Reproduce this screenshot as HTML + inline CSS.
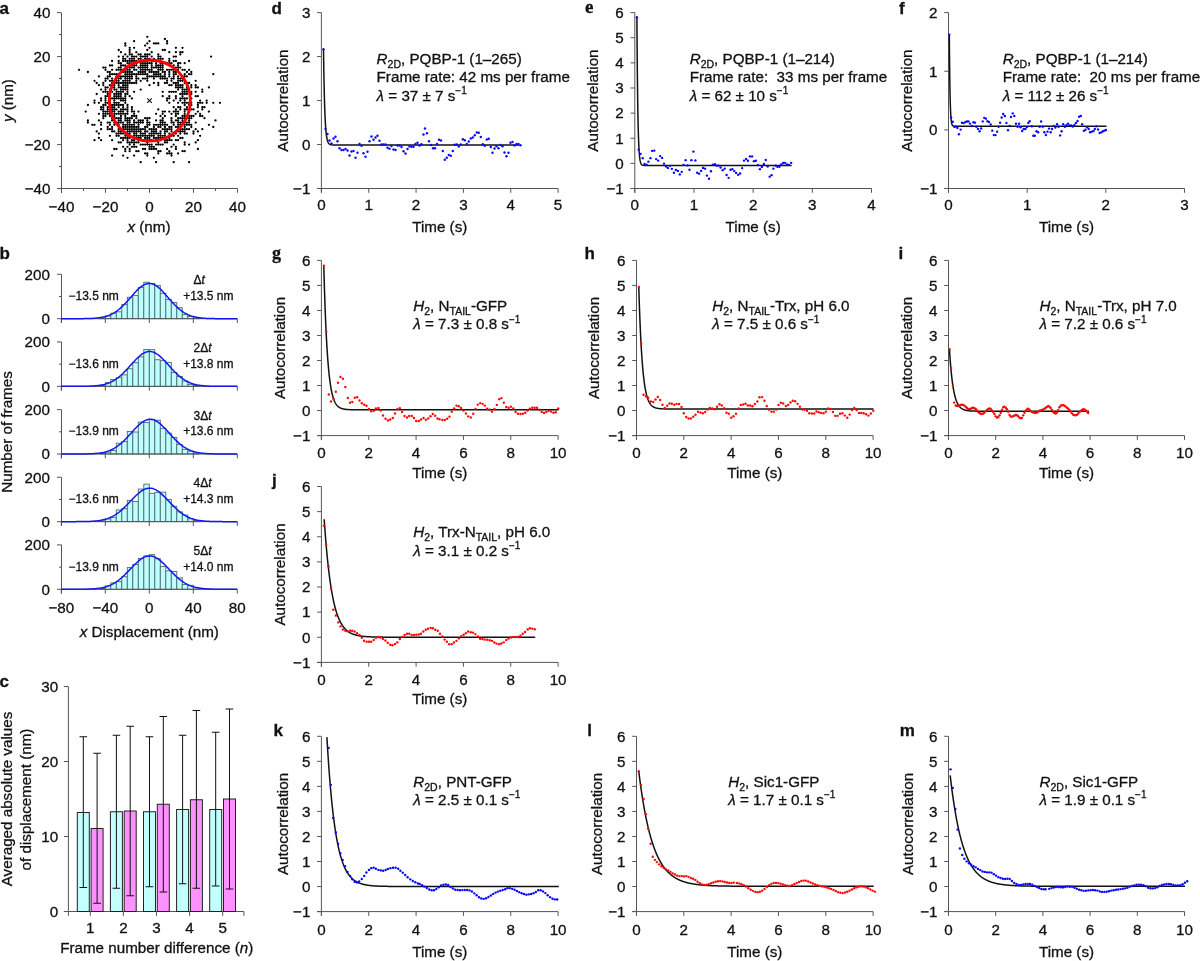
<!DOCTYPE html>
<html><head><meta charset="utf-8"><style>
html,body{margin:0;padding:0;background:#fff;overflow:hidden;}
svg{display:block;will-change:transform;}
text{font-family:"Liberation Sans",sans-serif;fill:#111;stroke:#111;stroke-width:0.3px;}
</style></head><body>
<svg width="1200" height="961" viewBox="0 0 1200 961">
<rect width="1200" height="961" fill="#fff"/>
<line x1="321.40" y1="12.60" x2="321.40" y2="192.80" stroke="#555" stroke-width="1.0"/><line x1="317.10" y1="188.50" x2="558.10" y2="188.50" stroke="#555" stroke-width="1.0"/><line x1="317.10" y1="188.50" x2="321.40" y2="188.50" stroke="#555" stroke-width="1.0"/><text x="310.40" y="193.80" font-size="15.2" text-anchor="end">−1</text><line x1="317.10" y1="144.53" x2="321.40" y2="144.53" stroke="#555" stroke-width="1.0"/><text x="310.40" y="149.83" font-size="15.2" text-anchor="end">0</text><line x1="317.10" y1="100.55" x2="321.40" y2="100.55" stroke="#555" stroke-width="1.0"/><text x="310.40" y="105.85" font-size="15.2" text-anchor="end">1</text><line x1="317.10" y1="56.57" x2="321.40" y2="56.57" stroke="#555" stroke-width="1.0"/><text x="310.40" y="61.87" font-size="15.2" text-anchor="end">2</text><line x1="317.10" y1="12.60" x2="321.40" y2="12.60" stroke="#555" stroke-width="1.0"/><text x="310.40" y="17.90" font-size="15.2" text-anchor="end">3</text><line x1="321.40" y1="188.50" x2="321.40" y2="192.80" stroke="#555" stroke-width="1.0"/><text x="321.40" y="210.00" font-size="15.2" text-anchor="middle">0</text><line x1="368.74" y1="188.50" x2="368.74" y2="192.80" stroke="#555" stroke-width="1.0"/><text x="368.74" y="210.00" font-size="15.2" text-anchor="middle">1</text><line x1="416.08" y1="188.50" x2="416.08" y2="192.80" stroke="#555" stroke-width="1.0"/><text x="416.08" y="210.00" font-size="15.2" text-anchor="middle">2</text><line x1="463.42" y1="188.50" x2="463.42" y2="192.80" stroke="#555" stroke-width="1.0"/><text x="463.42" y="210.00" font-size="15.2" text-anchor="middle">3</text><line x1="510.76" y1="188.50" x2="510.76" y2="192.80" stroke="#555" stroke-width="1.0"/><text x="510.76" y="210.00" font-size="15.2" text-anchor="middle">4</text><line x1="558.10" y1="188.50" x2="558.10" y2="192.80" stroke="#555" stroke-width="1.0"/><text x="558.10" y="210.00" font-size="15.2" text-anchor="middle">5</text><text x="439.75" y="231.80" font-size="15.2" text-anchor="middle">Time (s)</text><text x="0" y="0" font-size="15.2" text-anchor="middle" transform="translate(288.10,100.55) rotate(-90)">Autocorrelation</text><polyline points="323.50,49.30 323.75,66.33 324.00,80.33 324.25,91.84 324.50,101.30 324.75,109.08 325.00,115.47 325.25,120.73 325.50,125.05 325.75,128.60 326.00,131.52 326.25,133.92 326.50,135.89 326.75,137.51 327.00,138.84 327.25,139.94 327.50,140.84 327.75,141.58 328.00,142.19 328.25,142.69 328.50,143.10 328.75,143.44 329.00,143.72 329.25,143.94 329.50,144.13 329.75,144.29 330.00,144.41 330.25,144.52 330.50,144.60 330.75,144.67 331.00,144.73 331.25,144.78 333.25,144.95 335.25,144.99 337.25,145.00 339.25,145.00 341.25,145.00 343.25,145.00 345.25,145.00 347.25,145.00 349.25,145.00 351.25,145.00 353.25,145.00 355.25,145.00 357.25,145.00 359.25,145.00 361.25,145.00 363.25,145.00 365.25,145.00 367.25,145.00 369.25,145.00 371.25,145.00 373.25,145.00 375.25,145.00 377.25,145.00 379.25,145.00 381.25,145.00 383.25,145.00 385.25,145.00 387.25,145.00 389.25,145.00 391.25,145.00 393.25,145.00 395.25,145.00 397.25,145.00 399.25,145.00 401.25,145.00 403.25,145.00 405.25,145.00 407.25,145.00 409.25,145.00 411.25,145.00 413.25,145.00 415.25,145.00 417.25,145.00 419.25,145.00 421.25,145.00 423.25,145.00 425.25,145.00 427.25,145.00 429.25,145.00 431.25,145.00 433.25,145.00 435.25,145.00 437.25,145.00 439.25,145.00 441.25,145.00 443.25,145.00 445.25,145.00 447.25,145.00 449.25,145.00 451.25,145.00 453.25,145.00 455.25,145.00 457.25,145.00 459.25,145.00 461.25,145.00 463.25,145.00 465.25,145.00 467.25,145.00 469.25,145.00 471.25,145.00 473.25,145.00 475.25,145.00 477.25,145.00 479.25,145.00 481.25,145.00 483.25,145.00 485.25,145.00 487.25,145.00 489.25,145.00 491.25,145.00 493.25,145.00 495.25,145.00 497.25,145.00 499.25,145.00 501.25,145.00 503.25,145.00 505.25,145.00 507.25,145.00 509.25,145.00 511.25,145.00 513.25,145.00 515.25,145.00 517.25,145.00 519.25,145.00 519.50,145.00" fill="none" stroke="#111" stroke-width="1.5"/><circle cx="323.50" cy="49.30" r="1.2" fill="#0808ff"/><circle cx="325.50" cy="129.00" r="1.2" fill="#0808ff"/><circle cx="327.50" cy="134.00" r="1.2" fill="#0808ff"/><circle cx="329.50" cy="140.50" r="1.2" fill="#0808ff"/><circle cx="331.50" cy="143.50" r="1.2" fill="#0808ff"/><circle cx="333.50" cy="138.50" r="1.2" fill="#0808ff"/><circle cx="335.50" cy="136.80" r="1.2" fill="#0808ff"/><circle cx="337.50" cy="141.20" r="1.2" fill="#0808ff"/><circle cx="339.50" cy="148.30" r="1.2" fill="#0808ff"/><circle cx="341.50" cy="150.00" r="1.2" fill="#0808ff"/><circle cx="343.50" cy="150.00" r="1.2" fill="#0808ff"/><circle cx="345.50" cy="149.00" r="1.2" fill="#0808ff"/><circle cx="347.50" cy="150.50" r="1.2" fill="#0808ff"/><circle cx="349.50" cy="155.50" r="1.2" fill="#0808ff"/><circle cx="351.50" cy="151.50" r="1.2" fill="#0808ff"/><circle cx="353.50" cy="151.00" r="1.2" fill="#0808ff"/><circle cx="355.50" cy="157.80" r="1.2" fill="#0808ff"/><circle cx="357.50" cy="152.80" r="1.2" fill="#0808ff"/><circle cx="359.50" cy="144.00" r="1.2" fill="#0808ff"/><circle cx="361.50" cy="145.80" r="1.2" fill="#0808ff"/><circle cx="363.50" cy="153.20" r="1.2" fill="#0808ff"/><circle cx="365.50" cy="156.80" r="1.2" fill="#0808ff"/><circle cx="367.50" cy="151.80" r="1.2" fill="#0808ff"/><circle cx="369.50" cy="141.20" r="1.2" fill="#0808ff"/><circle cx="371.50" cy="136.50" r="1.2" fill="#0808ff"/><circle cx="373.50" cy="139.80" r="1.2" fill="#0808ff"/><circle cx="375.50" cy="137.50" r="1.2" fill="#0808ff"/><circle cx="377.50" cy="135.80" r="1.2" fill="#0808ff"/><circle cx="379.50" cy="140.80" r="1.2" fill="#0808ff"/><circle cx="381.50" cy="144.50" r="1.2" fill="#0808ff"/><circle cx="383.50" cy="144.50" r="1.2" fill="#0808ff"/><circle cx="385.50" cy="144.50" r="1.2" fill="#0808ff"/><circle cx="387.50" cy="147.80" r="1.2" fill="#0808ff"/><circle cx="389.50" cy="148.80" r="1.2" fill="#0808ff"/><circle cx="391.50" cy="146.00" r="1.2" fill="#0808ff"/><circle cx="393.50" cy="149.50" r="1.2" fill="#0808ff"/><circle cx="395.50" cy="150.00" r="1.2" fill="#0808ff"/><circle cx="397.50" cy="145.50" r="1.2" fill="#0808ff"/><circle cx="399.50" cy="145.50" r="1.2" fill="#0808ff"/><circle cx="401.50" cy="147.00" r="1.2" fill="#0808ff"/><circle cx="403.50" cy="151.20" r="1.2" fill="#0808ff"/><circle cx="405.50" cy="153.50" r="1.2" fill="#0808ff"/><circle cx="407.50" cy="149.00" r="1.2" fill="#0808ff"/><circle cx="409.50" cy="146.50" r="1.2" fill="#0808ff"/><circle cx="411.50" cy="146.80" r="1.2" fill="#0808ff"/><circle cx="413.50" cy="146.80" r="1.2" fill="#0808ff"/><circle cx="415.50" cy="144.00" r="1.2" fill="#0808ff"/><circle cx="417.50" cy="142.80" r="1.2" fill="#0808ff"/><circle cx="419.50" cy="145.50" r="1.2" fill="#0808ff"/><circle cx="421.50" cy="144.20" r="1.2" fill="#0808ff"/><circle cx="423.50" cy="134.50" r="1.2" fill="#0808ff"/><circle cx="425.00" cy="128.50" r="1.2" fill="#0808ff"/><circle cx="427.00" cy="133.20" r="1.2" fill="#0808ff"/><circle cx="429.00" cy="141.20" r="1.2" fill="#0808ff"/><circle cx="431.00" cy="145.00" r="1.2" fill="#0808ff"/><circle cx="433.00" cy="148.30" r="1.2" fill="#0808ff"/><circle cx="435.00" cy="148.30" r="1.2" fill="#0808ff"/><circle cx="437.00" cy="144.00" r="1.2" fill="#0808ff"/><circle cx="439.00" cy="139.80" r="1.2" fill="#0808ff"/><circle cx="441.00" cy="140.50" r="1.2" fill="#0808ff"/><circle cx="442.80" cy="151.00" r="1.2" fill="#0808ff"/><circle cx="444.80" cy="159.80" r="1.2" fill="#0808ff"/><circle cx="446.80" cy="157.80" r="1.2" fill="#0808ff"/><circle cx="448.80" cy="155.00" r="1.2" fill="#0808ff"/><circle cx="450.80" cy="155.80" r="1.2" fill="#0808ff"/><circle cx="452.80" cy="151.00" r="1.2" fill="#0808ff"/><circle cx="454.80" cy="144.80" r="1.2" fill="#0808ff"/><circle cx="456.80" cy="144.50" r="1.2" fill="#0808ff"/><circle cx="458.80" cy="146.50" r="1.2" fill="#0808ff"/><circle cx="460.80" cy="144.50" r="1.2" fill="#0808ff"/><circle cx="462.80" cy="139.30" r="1.2" fill="#0808ff"/><circle cx="464.80" cy="140.30" r="1.2" fill="#0808ff"/><circle cx="466.80" cy="144.00" r="1.2" fill="#0808ff"/><circle cx="468.80" cy="141.50" r="1.2" fill="#0808ff"/><circle cx="470.80" cy="138.50" r="1.2" fill="#0808ff"/><circle cx="472.80" cy="137.50" r="1.2" fill="#0808ff"/><circle cx="474.80" cy="135.20" r="1.2" fill="#0808ff"/><circle cx="476.80" cy="132.50" r="1.2" fill="#0808ff"/><circle cx="478.80" cy="132.80" r="1.2" fill="#0808ff"/><circle cx="480.80" cy="137.00" r="1.2" fill="#0808ff"/><circle cx="482.80" cy="144.20" r="1.2" fill="#0808ff"/><circle cx="484.80" cy="145.80" r="1.2" fill="#0808ff"/><circle cx="486.80" cy="139.50" r="1.2" fill="#0808ff"/><circle cx="488.80" cy="138.80" r="1.2" fill="#0808ff"/><circle cx="490.80" cy="147.00" r="1.2" fill="#0808ff"/><circle cx="492.50" cy="152.80" r="1.2" fill="#0808ff"/><circle cx="494.50" cy="148.50" r="1.2" fill="#0808ff"/><circle cx="496.50" cy="146.20" r="1.2" fill="#0808ff"/><circle cx="498.50" cy="148.30" r="1.2" fill="#0808ff"/><circle cx="500.50" cy="145.00" r="1.2" fill="#0808ff"/><circle cx="502.50" cy="146.20" r="1.2" fill="#0808ff"/><circle cx="504.50" cy="152.50" r="1.2" fill="#0808ff"/><circle cx="506.50" cy="156.20" r="1.2" fill="#0808ff"/><circle cx="508.50" cy="152.80" r="1.2" fill="#0808ff"/><circle cx="510.50" cy="142.80" r="1.2" fill="#0808ff"/><circle cx="512.50" cy="142.00" r="1.2" fill="#0808ff"/><circle cx="514.50" cy="145.50" r="1.2" fill="#0808ff"/><circle cx="516.50" cy="144.00" r="1.2" fill="#0808ff"/><circle cx="518.50" cy="144.00" r="1.2" fill="#0808ff"/><circle cx="520.50" cy="145.20" r="1.2" fill="#0808ff"/><text x="271.50" y="13.50" style="font-family:'Liberation Sans';font-size:17px;font-weight:bold">d</text><text x="376.60" y="63.50" font-size="15.2"><tspan font-style="italic">R</tspan><tspan font-size="10.5" dy="4">2D</tspan><tspan dy="-4">, PQBP-1 (1–265)</tspan></text><text x="376.60" y="82.10" font-size="15.2">Frame rate: 42 ms per frame</text><text x="376.60" y="100.90" font-size="15.2"><tspan font-style="italic">λ</tspan> = 37 ± 7 s<tspan font-size="10" dy="-6.5">−1</tspan></text><line x1="634.80" y1="12.60" x2="634.80" y2="192.80" stroke="#555" stroke-width="1.0"/><line x1="630.50" y1="188.50" x2="871.50" y2="188.50" stroke="#555" stroke-width="1.0"/><line x1="630.50" y1="188.50" x2="634.80" y2="188.50" stroke="#555" stroke-width="1.0"/><text x="623.80" y="193.80" font-size="15.2" text-anchor="end">−1</text><line x1="630.50" y1="163.37" x2="634.80" y2="163.37" stroke="#555" stroke-width="1.0"/><text x="623.80" y="168.67" font-size="15.2" text-anchor="end">0</text><line x1="630.50" y1="138.24" x2="634.80" y2="138.24" stroke="#555" stroke-width="1.0"/><text x="623.80" y="143.54" font-size="15.2" text-anchor="end">1</text><line x1="630.50" y1="113.11" x2="634.80" y2="113.11" stroke="#555" stroke-width="1.0"/><text x="623.80" y="118.41" font-size="15.2" text-anchor="end">2</text><line x1="630.50" y1="87.99" x2="634.80" y2="87.99" stroke="#555" stroke-width="1.0"/><text x="623.80" y="93.29" font-size="15.2" text-anchor="end">3</text><line x1="630.50" y1="62.86" x2="634.80" y2="62.86" stroke="#555" stroke-width="1.0"/><text x="623.80" y="68.16" font-size="15.2" text-anchor="end">4</text><line x1="630.50" y1="37.73" x2="634.80" y2="37.73" stroke="#555" stroke-width="1.0"/><text x="623.80" y="43.03" font-size="15.2" text-anchor="end">5</text><line x1="630.50" y1="12.60" x2="634.80" y2="12.60" stroke="#555" stroke-width="1.0"/><text x="623.80" y="17.90" font-size="15.2" text-anchor="end">6</text><line x1="634.80" y1="188.50" x2="634.80" y2="192.80" stroke="#555" stroke-width="1.0"/><text x="634.80" y="210.00" font-size="15.2" text-anchor="middle">0</text><line x1="693.97" y1="188.50" x2="693.97" y2="192.80" stroke="#555" stroke-width="1.0"/><text x="693.97" y="210.00" font-size="15.2" text-anchor="middle">1</text><line x1="753.15" y1="188.50" x2="753.15" y2="192.80" stroke="#555" stroke-width="1.0"/><text x="753.15" y="210.00" font-size="15.2" text-anchor="middle">2</text><line x1="812.33" y1="188.50" x2="812.33" y2="192.80" stroke="#555" stroke-width="1.0"/><text x="812.33" y="210.00" font-size="15.2" text-anchor="middle">3</text><line x1="871.50" y1="188.50" x2="871.50" y2="192.80" stroke="#555" stroke-width="1.0"/><text x="871.50" y="210.00" font-size="15.2" text-anchor="middle">4</text><text x="753.15" y="231.80" font-size="15.2" text-anchor="middle">Time (s)</text><text x="0" y="0" font-size="15.2" text-anchor="middle" transform="translate(597.80,100.55) rotate(-90)">Autocorrelation</text><polyline points="636.90,17.30 637.15,51.41 637.40,77.68 637.65,97.90 637.90,113.47 638.15,125.46 638.40,134.69 638.65,141.80 638.90,147.28 639.15,151.49 639.40,154.74 639.65,157.24 639.90,159.16 640.15,160.64 640.40,161.78 640.65,162.66 640.90,163.34 641.15,163.86 641.40,164.26 641.65,164.57 641.90,164.80 642.15,164.99 642.40,165.13 642.65,165.24 644.65,165.56 646.65,165.59 648.65,165.60 650.65,165.60 652.65,165.60 654.65,165.60 656.65,165.60 658.65,165.60 660.65,165.60 662.65,165.60 664.65,165.60 666.65,165.60 668.65,165.60 670.65,165.60 672.65,165.60 674.65,165.60 676.65,165.60 678.65,165.60 680.65,165.60 682.65,165.60 684.65,165.60 686.65,165.60 688.65,165.60 690.65,165.60 692.65,165.60 694.65,165.60 696.65,165.60 698.65,165.60 700.65,165.60 702.65,165.60 704.65,165.60 706.65,165.60 708.65,165.60 710.65,165.60 712.65,165.60 714.65,165.60 716.65,165.60 718.65,165.60 720.65,165.60 722.65,165.60 724.65,165.60 726.65,165.60 728.65,165.60 730.65,165.60 732.65,165.60 734.65,165.60 736.65,165.60 738.65,165.60 740.65,165.60 742.65,165.60 744.65,165.60 746.65,165.60 748.65,165.60 750.65,165.60 752.65,165.60 754.65,165.60 756.65,165.60 758.65,165.60 760.65,165.60 762.65,165.60 764.65,165.60 766.65,165.60 768.65,165.60 770.65,165.60 772.65,165.60 774.65,165.60 776.65,165.60 778.65,165.60 780.65,165.60 782.65,165.60 784.65,165.60 786.65,165.60 788.65,165.60 790.65,165.60 791.60,165.60" fill="none" stroke="#111" stroke-width="1.5"/><circle cx="636.90" cy="17.30" r="1.2" fill="#0808ff"/><circle cx="638.65" cy="149.65" r="1.2" fill="#0808ff"/><circle cx="640.60" cy="153.86" r="1.2" fill="#0808ff"/><circle cx="642.70" cy="158.13" r="1.2" fill="#0808ff"/><circle cx="644.50" cy="163.91" r="1.2" fill="#0808ff"/><circle cx="646.60" cy="164.66" r="1.2" fill="#0808ff"/><circle cx="648.40" cy="161.66" r="1.2" fill="#0808ff"/><circle cx="650.50" cy="158.13" r="1.2" fill="#0808ff"/><circle cx="652.15" cy="150.86" r="1.2" fill="#0808ff"/><circle cx="654.26" cy="150.63" r="1.2" fill="#0808ff"/><circle cx="656.13" cy="159.11" r="1.2" fill="#0808ff"/><circle cx="658.16" cy="160.61" r="1.2" fill="#0808ff"/><circle cx="660.11" cy="156.11" r="1.2" fill="#0808ff"/><circle cx="662.13" cy="157.91" r="1.2" fill="#0808ff"/><circle cx="664.01" cy="163.61" r="1.2" fill="#0808ff"/><circle cx="666.11" cy="166.61" r="1.2" fill="#0808ff"/><circle cx="667.91" cy="167.88" r="1.2" fill="#0808ff"/><circle cx="670.01" cy="165.86" r="1.2" fill="#0808ff"/><circle cx="671.88" cy="168.86" r="1.2" fill="#0808ff"/><circle cx="673.91" cy="172.76" r="1.2" fill="#0808ff"/><circle cx="675.86" cy="169.91" r="1.2" fill="#0808ff"/><circle cx="677.89" cy="170.89" r="1.2" fill="#0808ff"/><circle cx="679.76" cy="174.41" r="1.2" fill="#0808ff"/><circle cx="681.71" cy="171.86" r="1.2" fill="#0808ff"/><circle cx="683.66" cy="164.88" r="1.2" fill="#0808ff"/><circle cx="685.61" cy="160.16" r="1.2" fill="#0808ff"/><circle cx="687.56" cy="165.41" r="1.2" fill="#0808ff"/><circle cx="689.51" cy="169.76" r="1.2" fill="#0808ff"/><circle cx="691.39" cy="160.16" r="1.2" fill="#0808ff"/><circle cx="693.41" cy="151.61" r="1.2" fill="#0808ff"/><circle cx="695.37" cy="160.38" r="1.2" fill="#0808ff"/><circle cx="697.17" cy="172.76" r="1.2" fill="#0808ff"/><circle cx="699.12" cy="173.66" r="1.2" fill="#0808ff"/><circle cx="701.14" cy="170.89" r="1.2" fill="#0808ff"/><circle cx="703.02" cy="167.88" r="1.2" fill="#0808ff"/><circle cx="705.12" cy="168.63" r="1.2" fill="#0808ff"/><circle cx="706.92" cy="175.61" r="1.2" fill="#0808ff"/><circle cx="709.02" cy="178.76" r="1.2" fill="#0808ff"/><circle cx="710.97" cy="171.26" r="1.2" fill="#0808ff"/><circle cx="712.77" cy="164.66" r="1.2" fill="#0808ff"/><circle cx="714.87" cy="164.13" r="1.2" fill="#0808ff"/><circle cx="716.67" cy="165.63" r="1.2" fill="#0808ff"/><circle cx="718.62" cy="165.63" r="1.2" fill="#0808ff"/><circle cx="720.65" cy="167.51" r="1.2" fill="#0808ff"/><circle cx="722.67" cy="170.14" r="1.2" fill="#0808ff"/><circle cx="724.65" cy="168.63" r="1.2" fill="#0808ff"/><circle cx="726.60" cy="175.01" r="1.2" fill="#0808ff"/><circle cx="728.63" cy="177.86" r="1.2" fill="#0808ff"/><circle cx="730.50" cy="169.76" r="1.2" fill="#0808ff"/><circle cx="732.38" cy="169.16" r="1.2" fill="#0808ff"/><circle cx="734.25" cy="171.11" r="1.2" fill="#0808ff"/><circle cx="736.13" cy="172.91" r="1.2" fill="#0808ff"/><circle cx="738.15" cy="174.86" r="1.2" fill="#0808ff"/><circle cx="740.11" cy="173.51" r="1.2" fill="#0808ff"/><circle cx="742.13" cy="168.11" r="1.2" fill="#0808ff"/><circle cx="744.01" cy="160.61" r="1.2" fill="#0808ff"/><circle cx="746.11" cy="158.88" r="1.2" fill="#0808ff"/><circle cx="747.91" cy="160.76" r="1.2" fill="#0808ff"/><circle cx="749.86" cy="156.41" r="1.2" fill="#0808ff"/><circle cx="752.11" cy="156.41" r="1.2" fill="#0808ff"/><circle cx="753.91" cy="161.13" r="1.2" fill="#0808ff"/><circle cx="755.86" cy="160.76" r="1.2" fill="#0808ff"/><circle cx="757.88" cy="164.88" r="1.2" fill="#0808ff"/><circle cx="759.91" cy="169.16" r="1.2" fill="#0808ff"/><circle cx="761.86" cy="166.91" r="1.2" fill="#0808ff"/><circle cx="763.89" cy="163.91" r="1.2" fill="#0808ff"/><circle cx="765.76" cy="160.01" r="1.2" fill="#0808ff"/><circle cx="767.71" cy="166.61" r="1.2" fill="#0808ff"/><circle cx="769.66" cy="176.66" r="1.2" fill="#0808ff"/><circle cx="771.61" cy="175.16" r="1.2" fill="#0808ff"/><circle cx="773.41" cy="168.63" r="1.2" fill="#0808ff"/><circle cx="775.51" cy="165.63" r="1.2" fill="#0808ff"/><circle cx="777.39" cy="166.76" r="1.2" fill="#0808ff"/><circle cx="779.41" cy="166.76" r="1.2" fill="#0808ff"/><circle cx="781.14" cy="164.51" r="1.2" fill="#0808ff"/><circle cx="783.17" cy="163.01" r="1.2" fill="#0808ff"/><circle cx="785.12" cy="162.86" r="1.2" fill="#0808ff"/><circle cx="787.14" cy="164.36" r="1.2" fill="#0808ff"/><circle cx="789.02" cy="164.88" r="1.2" fill="#0808ff"/><circle cx="791.12" cy="162.86" r="1.2" fill="#0808ff"/><text x="584.90" y="13.40" style="font-family:'Liberation Serif';font-size:19px;font-weight:bold">e</text><text x="689.70" y="63.50" font-size="15.2"><tspan font-style="italic">R</tspan><tspan font-size="10.5" dy="4">2D</tspan><tspan dy="-4">, PQBP-1 (1–214)</tspan></text><text x="689.70" y="82.10" font-size="15.2">Frame rate:  33 ms per frame</text><text x="689.70" y="100.90" font-size="15.2"><tspan font-style="italic">λ</tspan> = 62 ± 10 s<tspan font-size="10" dy="-6.5">−1</tspan></text><line x1="948.50" y1="12.60" x2="948.50" y2="192.80" stroke="#555" stroke-width="1.0"/><line x1="944.20" y1="188.50" x2="1184.50" y2="188.50" stroke="#555" stroke-width="1.0"/><line x1="944.20" y1="188.50" x2="948.50" y2="188.50" stroke="#555" stroke-width="1.0"/><text x="937.50" y="193.80" font-size="15.2" text-anchor="end">−1</text><line x1="944.20" y1="129.87" x2="948.50" y2="129.87" stroke="#555" stroke-width="1.0"/><text x="937.50" y="135.17" font-size="15.2" text-anchor="end">0</text><line x1="944.20" y1="71.23" x2="948.50" y2="71.23" stroke="#555" stroke-width="1.0"/><text x="937.50" y="76.53" font-size="15.2" text-anchor="end">1</text><line x1="944.20" y1="12.60" x2="948.50" y2="12.60" stroke="#555" stroke-width="1.0"/><text x="937.50" y="17.90" font-size="15.2" text-anchor="end">2</text><line x1="948.50" y1="188.50" x2="948.50" y2="192.80" stroke="#555" stroke-width="1.0"/><text x="948.50" y="210.00" font-size="15.2" text-anchor="middle">0</text><line x1="1027.17" y1="188.50" x2="1027.17" y2="192.80" stroke="#555" stroke-width="1.0"/><text x="1027.17" y="210.00" font-size="15.2" text-anchor="middle">1</text><line x1="1105.83" y1="188.50" x2="1105.83" y2="192.80" stroke="#555" stroke-width="1.0"/><text x="1105.83" y="210.00" font-size="15.2" text-anchor="middle">2</text><line x1="1184.50" y1="188.50" x2="1184.50" y2="192.80" stroke="#555" stroke-width="1.0"/><text x="1184.50" y="210.00" font-size="15.2" text-anchor="middle">3</text><text x="1066.50" y="231.80" font-size="15.2" text-anchor="middle">Time (s)</text><text x="0" y="0" font-size="15.2" text-anchor="middle" transform="translate(911.80,100.55) rotate(-90)">Autocorrelation</text><polyline points="949.30,34.70 949.55,62.12 949.80,81.34 950.05,94.80 950.30,104.23 950.55,110.84 950.80,115.47 951.05,118.71 951.30,120.98 951.55,122.57 951.80,123.69 952.05,124.47 952.30,125.02 952.55,125.40 952.80,125.67 953.05,125.86 953.30,125.99 953.55,126.08 955.55,126.29 957.55,126.30 959.55,126.30 961.55,126.30 963.55,126.30 965.55,126.30 967.55,126.30 969.55,126.30 971.55,126.30 973.55,126.30 975.55,126.30 977.55,126.30 979.55,126.30 981.55,126.30 983.55,126.30 985.55,126.30 987.55,126.30 989.55,126.30 991.55,126.30 993.55,126.30 995.55,126.30 997.55,126.30 999.55,126.30 1001.55,126.30 1003.55,126.30 1005.55,126.30 1007.55,126.30 1009.55,126.30 1011.55,126.30 1013.55,126.30 1015.55,126.30 1017.55,126.30 1019.55,126.30 1021.55,126.30 1023.55,126.30 1025.55,126.30 1027.55,126.30 1029.55,126.30 1031.55,126.30 1033.55,126.30 1035.55,126.30 1037.55,126.30 1039.55,126.30 1041.55,126.30 1043.55,126.30 1045.55,126.30 1047.55,126.30 1049.55,126.30 1051.55,126.30 1053.55,126.30 1055.55,126.30 1057.55,126.30 1059.55,126.30 1061.55,126.30 1063.55,126.30 1065.55,126.30 1067.55,126.30 1069.55,126.30 1071.55,126.30 1073.55,126.30 1075.55,126.30 1077.55,126.30 1079.55,126.30 1081.55,126.30 1083.55,126.30 1085.55,126.30 1087.55,126.30 1089.55,126.30 1091.55,126.30 1093.55,126.30 1095.55,126.30 1097.55,126.30 1099.55,126.30 1101.55,126.30 1103.55,126.30 1105.55,126.30 1106.50,126.30" fill="none" stroke="#111" stroke-width="1.5"/><circle cx="949.30" cy="34.70" r="1.2" fill="#0808ff"/><circle cx="951.08" cy="117.44" r="1.2" fill="#0808ff"/><circle cx="952.78" cy="121.75" r="1.2" fill="#0808ff"/><circle cx="954.29" cy="126.87" r="1.2" fill="#0808ff"/><circle cx="955.86" cy="126.53" r="1.2" fill="#0808ff"/><circle cx="957.43" cy="127.90" r="1.2" fill="#0808ff"/><circle cx="958.94" cy="134.25" r="1.2" fill="#0808ff"/><circle cx="960.65" cy="129.61" r="1.2" fill="#0808ff"/><circle cx="962.01" cy="122.77" r="1.2" fill="#0808ff"/><circle cx="963.72" cy="123.11" r="1.2" fill="#0808ff"/><circle cx="965.43" cy="121.95" r="1.2" fill="#0808ff"/><circle cx="967.00" cy="121.40" r="1.2" fill="#0808ff"/><circle cx="968.51" cy="121.40" r="1.2" fill="#0808ff"/><circle cx="970.01" cy="123.59" r="1.2" fill="#0808ff"/><circle cx="971.79" cy="126.05" r="1.2" fill="#0808ff"/><circle cx="973.43" cy="122.22" r="1.2" fill="#0808ff"/><circle cx="975.00" cy="122.63" r="1.2" fill="#0808ff"/><circle cx="976.37" cy="126.74" r="1.2" fill="#0808ff"/><circle cx="977.94" cy="128.92" r="1.2" fill="#0808ff"/><circle cx="979.58" cy="131.32" r="1.2" fill="#0808ff"/><circle cx="981.15" cy="128.38" r="1.2" fill="#0808ff"/><circle cx="982.72" cy="121.40" r="1.2" fill="#0808ff"/><circle cx="984.23" cy="117.85" r="1.2" fill="#0808ff"/><circle cx="985.94" cy="118.67" r="1.2" fill="#0808ff"/><circle cx="987.51" cy="121.27" r="1.2" fill="#0808ff"/><circle cx="989.01" cy="121.95" r="1.2" fill="#0808ff"/><circle cx="990.72" cy="124.48" r="1.2" fill="#0808ff"/><circle cx="992.29" cy="130.63" r="1.2" fill="#0808ff"/><circle cx="993.80" cy="135.08" r="1.2" fill="#0808ff"/><circle cx="995.51" cy="135.08" r="1.2" fill="#0808ff"/><circle cx="997.08" cy="131.66" r="1.2" fill="#0808ff"/><circle cx="998.58" cy="126.74" r="1.2" fill="#0808ff"/><circle cx="1000.08" cy="122.77" r="1.2" fill="#0808ff"/><circle cx="1001.66" cy="117.44" r="1.2" fill="#0808ff"/><circle cx="1003.23" cy="114.02" r="1.2" fill="#0808ff"/><circle cx="1004.87" cy="116.07" r="1.2" fill="#0808ff"/><circle cx="1006.44" cy="122.91" r="1.2" fill="#0808ff"/><circle cx="1008.01" cy="130.15" r="1.2" fill="#0808ff"/><circle cx="1009.65" cy="125.85" r="1.2" fill="#0808ff"/><circle cx="1011.02" cy="116.96" r="1.2" fill="#0808ff"/><circle cx="1012.80" cy="113.34" r="1.2" fill="#0808ff"/><circle cx="1014.30" cy="116.07" r="1.2" fill="#0808ff"/><circle cx="1016.01" cy="123.80" r="1.2" fill="#0808ff"/><circle cx="1017.58" cy="126.74" r="1.2" fill="#0808ff"/><circle cx="1019.09" cy="123.80" r="1.2" fill="#0808ff"/><circle cx="1020.59" cy="127.21" r="1.2" fill="#0808ff"/><circle cx="1022.16" cy="130.97" r="1.2" fill="#0808ff"/><circle cx="1023.73" cy="129.06" r="1.2" fill="#0808ff"/><circle cx="1025.38" cy="129.06" r="1.2" fill="#0808ff"/><circle cx="1026.95" cy="127.01" r="1.2" fill="#0808ff"/><circle cx="1028.31" cy="122.91" r="1.2" fill="#0808ff"/><circle cx="1029.68" cy="121.27" r="1.2" fill="#0808ff"/><circle cx="1031.76" cy="126.19" r="1.2" fill="#0808ff"/><circle cx="1033.33" cy="135.76" r="1.2" fill="#0808ff"/><circle cx="1034.84" cy="135.76" r="1.2" fill="#0808ff"/><circle cx="1036.54" cy="131.32" r="1.2" fill="#0808ff"/><circle cx="1038.12" cy="132.20" r="1.2" fill="#0808ff"/><circle cx="1039.62" cy="126.74" r="1.2" fill="#0808ff"/><circle cx="1041.12" cy="121.54" r="1.2" fill="#0808ff"/><circle cx="1042.70" cy="126.74" r="1.2" fill="#0808ff"/><circle cx="1044.27" cy="132.20" r="1.2" fill="#0808ff"/><circle cx="1045.91" cy="134.94" r="1.2" fill="#0808ff"/><circle cx="1047.48" cy="131.66" r="1.2" fill="#0808ff"/><circle cx="1049.05" cy="128.58" r="1.2" fill="#0808ff"/><circle cx="1050.69" cy="132.20" r="1.2" fill="#0808ff"/><circle cx="1052.06" cy="129.06" r="1.2" fill="#0808ff"/><circle cx="1053.84" cy="125.85" r="1.2" fill="#0808ff"/><circle cx="1055.34" cy="127.56" r="1.2" fill="#0808ff"/><circle cx="1057.05" cy="124.14" r="1.2" fill="#0808ff"/><circle cx="1058.62" cy="126.74" r="1.2" fill="#0808ff"/><circle cx="1060.13" cy="135.42" r="1.2" fill="#0808ff"/><circle cx="1061.63" cy="131.32" r="1.2" fill="#0808ff"/><circle cx="1063.20" cy="124.28" r="1.2" fill="#0808ff"/><circle cx="1064.91" cy="126.74" r="1.2" fill="#0808ff"/><circle cx="1066.41" cy="125.16" r="1.2" fill="#0808ff"/><circle cx="1067.99" cy="123.59" r="1.2" fill="#0808ff"/><circle cx="1069.56" cy="125.37" r="1.2" fill="#0808ff"/><circle cx="1071.20" cy="125.37" r="1.2" fill="#0808ff"/><circle cx="1072.77" cy="126.53" r="1.2" fill="#0808ff"/><circle cx="1074.34" cy="124.96" r="1.2" fill="#0808ff"/><circle cx="1075.98" cy="122.91" r="1.2" fill="#0808ff"/><circle cx="1077.56" cy="121.06" r="1.2" fill="#0808ff"/><circle cx="1079.13" cy="116.76" r="1.2" fill="#0808ff"/><circle cx="1080.77" cy="116.07" r="1.2" fill="#0808ff"/><circle cx="1082.14" cy="124.14" r="1.2" fill="#0808ff"/><circle cx="1083.91" cy="130.84" r="1.2" fill="#0808ff"/><circle cx="1085.42" cy="129.74" r="1.2" fill="#0808ff"/><circle cx="1087.13" cy="127.21" r="1.2" fill="#0808ff"/><circle cx="1088.70" cy="129.06" r="1.2" fill="#0808ff"/><circle cx="1090.06" cy="132.20" r="1.2" fill="#0808ff"/><circle cx="1091.70" cy="131.66" r="1.2" fill="#0808ff"/><circle cx="1093.48" cy="130.97" r="1.2" fill="#0808ff"/><circle cx="1094.85" cy="129.06" r="1.2" fill="#0808ff"/><circle cx="1096.35" cy="126.33" r="1.2" fill="#0808ff"/><circle cx="1098.06" cy="129.47" r="1.2" fill="#0808ff"/><circle cx="1099.63" cy="133.02" r="1.2" fill="#0808ff"/><circle cx="1101.27" cy="132.34" r="1.2" fill="#0808ff"/><circle cx="1102.85" cy="131.32" r="1.2" fill="#0808ff"/><circle cx="1104.42" cy="130.63" r="1.2" fill="#0808ff"/><circle cx="1105.92" cy="129.95" r="1.2" fill="#0808ff"/><text x="899.00" y="13.50" style="font-family:'Liberation Sans';font-size:17px;font-weight:bold">f</text><text x="1002.70" y="63.50" font-size="15.2"><tspan font-style="italic">R</tspan><tspan font-size="10.5" dy="4">2D</tspan><tspan dy="-4">, PQBP-1 (1–214)</tspan></text><text x="1002.70" y="82.10" font-size="15.2">Frame rate:  20 ms per frame</text><text x="1002.70" y="100.90" font-size="15.2"><tspan font-style="italic">λ</tspan> = 112 ± 26 s<tspan font-size="10" dy="-6.5">−1</tspan></text><line x1="321.40" y1="260.40" x2="321.40" y2="439.90" stroke="#555" stroke-width="1.0"/><line x1="317.10" y1="435.60" x2="558.10" y2="435.60" stroke="#555" stroke-width="1.0"/><line x1="317.10" y1="435.60" x2="321.40" y2="435.60" stroke="#555" stroke-width="1.0"/><text x="310.40" y="440.90" font-size="15.2" text-anchor="end">−1</text><line x1="317.10" y1="410.57" x2="321.40" y2="410.57" stroke="#555" stroke-width="1.0"/><text x="310.40" y="415.87" font-size="15.2" text-anchor="end">0</text><line x1="317.10" y1="385.54" x2="321.40" y2="385.54" stroke="#555" stroke-width="1.0"/><text x="310.40" y="390.84" font-size="15.2" text-anchor="end">1</text><line x1="317.10" y1="360.51" x2="321.40" y2="360.51" stroke="#555" stroke-width="1.0"/><text x="310.40" y="365.81" font-size="15.2" text-anchor="end">2</text><line x1="317.10" y1="335.49" x2="321.40" y2="335.49" stroke="#555" stroke-width="1.0"/><text x="310.40" y="340.79" font-size="15.2" text-anchor="end">3</text><line x1="317.10" y1="310.46" x2="321.40" y2="310.46" stroke="#555" stroke-width="1.0"/><text x="310.40" y="315.76" font-size="15.2" text-anchor="end">4</text><line x1="317.10" y1="285.43" x2="321.40" y2="285.43" stroke="#555" stroke-width="1.0"/><text x="310.40" y="290.73" font-size="15.2" text-anchor="end">5</text><line x1="317.10" y1="260.40" x2="321.40" y2="260.40" stroke="#555" stroke-width="1.0"/><text x="310.40" y="265.70" font-size="15.2" text-anchor="end">6</text><line x1="321.40" y1="435.60" x2="321.40" y2="439.90" stroke="#555" stroke-width="1.0"/><text x="321.40" y="458.40" font-size="15.2" text-anchor="middle">0</text><line x1="368.74" y1="435.60" x2="368.74" y2="439.90" stroke="#555" stroke-width="1.0"/><text x="368.74" y="458.40" font-size="15.2" text-anchor="middle">2</text><line x1="416.08" y1="435.60" x2="416.08" y2="439.90" stroke="#555" stroke-width="1.0"/><text x="416.08" y="458.40" font-size="15.2" text-anchor="middle">4</text><line x1="463.42" y1="435.60" x2="463.42" y2="439.90" stroke="#555" stroke-width="1.0"/><text x="463.42" y="458.40" font-size="15.2" text-anchor="middle">6</text><line x1="510.76" y1="435.60" x2="510.76" y2="439.90" stroke="#555" stroke-width="1.0"/><text x="510.76" y="458.40" font-size="15.2" text-anchor="middle">8</text><line x1="558.10" y1="435.60" x2="558.10" y2="439.90" stroke="#555" stroke-width="1.0"/><text x="558.10" y="458.40" font-size="15.2" text-anchor="middle">10</text><text x="439.75" y="478.10" font-size="15.2" text-anchor="middle">Time (s)</text><text x="0" y="0" font-size="15.2" text-anchor="middle" transform="translate(285.40,348.00) rotate(-90)">Autocorrelation</text><polyline points="323.80,266.30 324.05,275.44 324.30,283.99 324.55,292.00 324.80,299.50 325.05,306.53 325.30,313.10 325.55,319.26 325.80,325.02 326.05,330.42 326.30,335.48 326.55,340.21 326.80,344.64 327.05,348.79 327.30,352.67 327.55,356.31 327.80,359.72 328.05,362.90 328.30,365.89 328.55,368.69 328.80,371.30 329.05,373.76 329.30,376.05 329.55,378.20 329.80,380.21 330.05,382.10 330.30,383.86 330.55,385.51 330.80,387.06 331.05,388.51 331.30,389.86 331.55,391.13 331.80,392.32 332.05,393.43 332.30,394.47 332.55,395.45 332.80,396.36 333.05,397.22 333.30,398.02 333.55,398.77 333.80,399.47 334.05,400.13 334.30,400.75 334.55,401.32 334.80,401.86 335.05,402.37 335.30,402.84 335.55,403.28 335.80,403.70 336.05,404.09 336.30,404.45 336.55,404.79 336.80,405.11 337.05,405.41 337.30,405.69 337.55,405.95 337.80,406.20 338.05,406.43 338.30,406.64 338.55,406.84 338.80,407.03 339.05,407.21 339.30,407.37 339.55,407.53 339.80,407.67 340.05,407.81 340.30,407.93 340.55,408.05 340.80,408.16 341.05,408.27 341.30,408.37 341.55,408.46 341.80,408.54 342.05,408.62 342.30,408.70 342.55,408.77 342.80,408.83 343.05,408.89 343.30,408.95 343.55,409.01 343.80,409.06 344.05,409.10 344.30,409.15 344.55,409.19 344.80,409.23 345.05,409.27 345.30,409.30 345.55,409.33 345.80,409.36 346.05,409.39 346.30,409.42 346.55,409.44 346.80,409.46 348.80,409.60 350.80,409.68 352.80,409.73 354.80,409.76 356.80,409.78 358.80,409.79 360.80,409.79 362.80,409.79 364.80,409.80 366.80,409.80 368.80,409.80 370.80,409.80 372.80,409.80 374.80,409.80 376.80,409.80 378.80,409.80 380.80,409.80 382.80,409.80 384.80,409.80 386.80,409.80 388.80,409.80 390.80,409.80 392.80,409.80 394.80,409.80 396.80,409.80 398.80,409.80 400.80,409.80 402.80,409.80 404.80,409.80 406.80,409.80 408.80,409.80 410.80,409.80 412.80,409.80 414.80,409.80 416.80,409.80 418.80,409.80 420.80,409.80 422.80,409.80 424.80,409.80 426.80,409.80 428.80,409.80 430.80,409.80 432.80,409.80 434.80,409.80 436.80,409.80 438.80,409.80 440.80,409.80 442.80,409.80 444.80,409.80 446.80,409.80 448.80,409.80 450.80,409.80 452.80,409.80 454.80,409.80 456.80,409.80 458.80,409.80 460.80,409.80 462.80,409.80 464.80,409.80 466.80,409.80 468.80,409.80 470.80,409.80 472.80,409.80 474.80,409.80 476.80,409.80 478.80,409.80 480.80,409.80 482.80,409.80 484.80,409.80 486.80,409.80 488.80,409.80 490.80,409.80 492.80,409.80 494.80,409.80 496.80,409.80 498.80,409.80 500.80,409.80 502.80,409.80 504.80,409.80 506.80,409.80 508.80,409.80 510.80,409.80 512.80,409.80 514.80,409.80 516.80,409.80 518.80,409.80 520.80,409.80 522.80,409.80 524.80,409.80 526.80,409.80 528.80,409.80 530.80,409.80 532.80,409.80 534.80,409.80 536.80,409.80 538.80,409.80 540.80,409.80 542.80,409.80 544.80,409.80 546.80,409.80 548.80,409.80 550.80,409.80 552.80,409.80 554.80,409.80 556.80,409.80 558.80,409.80 558.80,409.80" fill="none" stroke="#111" stroke-width="1.5"/><circle cx="323.90" cy="265.80" r="1.2" fill="#ff0808"/><circle cx="326.30" cy="331.80" r="1.2" fill="#ff0808"/><circle cx="328.80" cy="394.50" r="1.2" fill="#ff0808"/><circle cx="331.00" cy="401.50" r="1.2" fill="#ff0808"/><circle cx="333.50" cy="399.00" r="1.2" fill="#ff0808"/><circle cx="335.80" cy="391.80" r="1.2" fill="#ff0808"/><circle cx="338.00" cy="382.80" r="1.2" fill="#ff0808"/><circle cx="340.50" cy="377.00" r="1.2" fill="#ff0808"/><circle cx="343.00" cy="378.80" r="1.2" fill="#ff0808"/><circle cx="345.30" cy="387.00" r="1.2" fill="#ff0808"/><circle cx="347.80" cy="398.00" r="1.2" fill="#ff0808"/><circle cx="350.00" cy="402.80" r="1.2" fill="#ff0808"/><circle cx="352.30" cy="402.00" r="1.2" fill="#ff0808"/><circle cx="354.80" cy="397.80" r="1.2" fill="#ff0808"/><circle cx="357.20" cy="397.20" r="1.2" fill="#ff0808"/><circle cx="359.50" cy="400.50" r="1.2" fill="#ff0808"/><circle cx="361.80" cy="403.20" r="1.2" fill="#ff0808"/><circle cx="364.20" cy="404.80" r="1.2" fill="#ff0808"/><circle cx="366.50" cy="405.80" r="1.2" fill="#ff0808"/><circle cx="369.00" cy="409.00" r="1.2" fill="#ff0808"/><circle cx="371.20" cy="411.20" r="1.2" fill="#ff0808"/><circle cx="373.80" cy="410.80" r="1.2" fill="#ff0808"/><circle cx="376.00" cy="408.50" r="1.2" fill="#ff0808"/><circle cx="378.50" cy="408.00" r="1.2" fill="#ff0808"/><circle cx="380.80" cy="410.50" r="1.2" fill="#ff0808"/><circle cx="383.00" cy="415.50" r="1.2" fill="#ff0808"/><circle cx="385.50" cy="418.80" r="1.2" fill="#ff0808"/><circle cx="388.00" cy="420.50" r="1.2" fill="#ff0808"/><circle cx="390.20" cy="419.50" r="1.2" fill="#ff0808"/><circle cx="392.80" cy="418.00" r="1.2" fill="#ff0808"/><circle cx="395.00" cy="413.50" r="1.2" fill="#ff0808"/><circle cx="397.20" cy="409.20" r="1.2" fill="#ff0808"/><circle cx="399.80" cy="408.20" r="1.2" fill="#ff0808"/><circle cx="402.00" cy="412.00" r="1.2" fill="#ff0808"/><circle cx="404.50" cy="416.00" r="1.2" fill="#ff0808"/><circle cx="407.00" cy="417.50" r="1.2" fill="#ff0808"/><circle cx="409.20" cy="416.00" r="1.2" fill="#ff0808"/><circle cx="411.80" cy="416.00" r="1.2" fill="#ff0808"/><circle cx="414.00" cy="418.00" r="1.2" fill="#ff0808"/><circle cx="416.20" cy="421.00" r="1.2" fill="#ff0808"/><circle cx="418.80" cy="421.00" r="1.2" fill="#ff0808"/><circle cx="421.00" cy="419.50" r="1.2" fill="#ff0808"/><circle cx="423.50" cy="418.00" r="1.2" fill="#ff0808"/><circle cx="425.80" cy="419.80" r="1.2" fill="#ff0808"/><circle cx="428.20" cy="418.50" r="1.2" fill="#ff0808"/><circle cx="430.50" cy="416.20" r="1.2" fill="#ff0808"/><circle cx="432.80" cy="414.00" r="1.2" fill="#ff0808"/><circle cx="435.20" cy="415.80" r="1.2" fill="#ff0808"/><circle cx="437.50" cy="418.50" r="1.2" fill="#ff0808"/><circle cx="439.50" cy="419.20" r="1.2" fill="#ff0808"/><circle cx="442.38" cy="420.00" r="1.2" fill="#ff0808"/><circle cx="444.77" cy="420.00" r="1.2" fill="#ff0808"/><circle cx="447.17" cy="418.75" r="1.2" fill="#ff0808"/><circle cx="449.46" cy="416.67" r="1.2" fill="#ff0808"/><circle cx="451.75" cy="411.67" r="1.2" fill="#ff0808"/><circle cx="454.15" cy="408.33" r="1.2" fill="#ff0808"/><circle cx="456.54" cy="405.62" r="1.2" fill="#ff0808"/><circle cx="458.83" cy="406.25" r="1.2" fill="#ff0808"/><circle cx="461.12" cy="408.02" r="1.2" fill="#ff0808"/><circle cx="463.52" cy="410.62" r="1.2" fill="#ff0808"/><circle cx="465.92" cy="413.54" r="1.2" fill="#ff0808"/><circle cx="468.21" cy="416.35" r="1.2" fill="#ff0808"/><circle cx="470.81" cy="417.40" r="1.2" fill="#ff0808"/><circle cx="473.21" cy="413.75" r="1.2" fill="#ff0808"/><circle cx="475.50" cy="409.06" r="1.2" fill="#ff0808"/><circle cx="477.79" cy="404.58" r="1.2" fill="#ff0808"/><circle cx="480.19" cy="403.12" r="1.2" fill="#ff0808"/><circle cx="482.58" cy="403.85" r="1.2" fill="#ff0808"/><circle cx="484.88" cy="405.62" r="1.2" fill="#ff0808"/><circle cx="487.17" cy="408.75" r="1.2" fill="#ff0808"/><circle cx="489.56" cy="409.79" r="1.2" fill="#ff0808"/><circle cx="491.96" cy="411.67" r="1.2" fill="#ff0808"/><circle cx="494.46" cy="409.06" r="1.2" fill="#ff0808"/><circle cx="496.85" cy="404.90" r="1.2" fill="#ff0808"/><circle cx="499.25" cy="399.17" r="1.2" fill="#ff0808"/><circle cx="501.54" cy="398.12" r="1.2" fill="#ff0808"/><circle cx="503.83" cy="402.81" r="1.2" fill="#ff0808"/><circle cx="506.23" cy="406.98" r="1.2" fill="#ff0808"/><circle cx="508.62" cy="407.71" r="1.2" fill="#ff0808"/><circle cx="510.92" cy="406.67" r="1.2" fill="#ff0808"/><circle cx="513.21" cy="408.54" r="1.2" fill="#ff0808"/><circle cx="515.60" cy="411.88" r="1.2" fill="#ff0808"/><circle cx="518.00" cy="413.75" r="1.2" fill="#ff0808"/><circle cx="520.50" cy="413.96" r="1.2" fill="#ff0808"/><circle cx="522.90" cy="413.75" r="1.2" fill="#ff0808"/><circle cx="525.29" cy="412.71" r="1.2" fill="#ff0808"/><circle cx="527.58" cy="410.62" r="1.2" fill="#ff0808"/><circle cx="529.88" cy="408.75" r="1.2" fill="#ff0808"/><circle cx="532.27" cy="407.71" r="1.2" fill="#ff0808"/><circle cx="534.67" cy="407.71" r="1.2" fill="#ff0808"/><circle cx="536.96" cy="407.71" r="1.2" fill="#ff0808"/><circle cx="539.25" cy="409.79" r="1.2" fill="#ff0808"/><circle cx="541.65" cy="411.88" r="1.2" fill="#ff0808"/><circle cx="544.04" cy="412.92" r="1.2" fill="#ff0808"/><circle cx="546.33" cy="411.88" r="1.2" fill="#ff0808"/><circle cx="548.62" cy="410.83" r="1.2" fill="#ff0808"/><circle cx="551.02" cy="411.46" r="1.2" fill="#ff0808"/><circle cx="553.42" cy="412.71" r="1.2" fill="#ff0808"/><circle cx="555.71" cy="412.19" r="1.2" fill="#ff0808"/><circle cx="558.31" cy="408.54" r="1.2" fill="#ff0808"/><text x="271.90" y="258.70" style="font-family:'Liberation Serif';font-size:18px;font-weight:bold">g</text><text x="413.30" y="311.00" font-size="15.2"><tspan font-style="italic">H</tspan><tspan font-size="10.5" dy="4">2</tspan><tspan dy="-4">, N<tspan font-size="10.5" dy="4">TAIL</tspan><tspan dy="-4">-GFP</tspan></text><text x="413.30" y="329.00" font-size="15.2"><tspan font-style="italic">λ</tspan> = 7.3 ± 0.8 s<tspan font-size="10" dy="-6.5">−1</tspan></text><line x1="636.50" y1="260.40" x2="636.50" y2="439.90" stroke="#555" stroke-width="1.0"/><line x1="632.20" y1="435.60" x2="873.10" y2="435.60" stroke="#555" stroke-width="1.0"/><line x1="632.20" y1="435.60" x2="636.50" y2="435.60" stroke="#555" stroke-width="1.0"/><text x="625.50" y="440.90" font-size="15.2" text-anchor="end">−1</text><line x1="632.20" y1="410.57" x2="636.50" y2="410.57" stroke="#555" stroke-width="1.0"/><text x="625.50" y="415.87" font-size="15.2" text-anchor="end">0</text><line x1="632.20" y1="385.54" x2="636.50" y2="385.54" stroke="#555" stroke-width="1.0"/><text x="625.50" y="390.84" font-size="15.2" text-anchor="end">1</text><line x1="632.20" y1="360.51" x2="636.50" y2="360.51" stroke="#555" stroke-width="1.0"/><text x="625.50" y="365.81" font-size="15.2" text-anchor="end">2</text><line x1="632.20" y1="335.49" x2="636.50" y2="335.49" stroke="#555" stroke-width="1.0"/><text x="625.50" y="340.79" font-size="15.2" text-anchor="end">3</text><line x1="632.20" y1="310.46" x2="636.50" y2="310.46" stroke="#555" stroke-width="1.0"/><text x="625.50" y="315.76" font-size="15.2" text-anchor="end">4</text><line x1="632.20" y1="285.43" x2="636.50" y2="285.43" stroke="#555" stroke-width="1.0"/><text x="625.50" y="290.73" font-size="15.2" text-anchor="end">5</text><line x1="632.20" y1="260.40" x2="636.50" y2="260.40" stroke="#555" stroke-width="1.0"/><text x="625.50" y="265.70" font-size="15.2" text-anchor="end">6</text><line x1="636.50" y1="435.60" x2="636.50" y2="439.90" stroke="#555" stroke-width="1.0"/><text x="636.50" y="458.40" font-size="15.2" text-anchor="middle">0</text><line x1="683.82" y1="435.60" x2="683.82" y2="439.90" stroke="#555" stroke-width="1.0"/><text x="683.82" y="458.40" font-size="15.2" text-anchor="middle">2</text><line x1="731.14" y1="435.60" x2="731.14" y2="439.90" stroke="#555" stroke-width="1.0"/><text x="731.14" y="458.40" font-size="15.2" text-anchor="middle">4</text><line x1="778.46" y1="435.60" x2="778.46" y2="439.90" stroke="#555" stroke-width="1.0"/><text x="778.46" y="458.40" font-size="15.2" text-anchor="middle">6</text><line x1="825.78" y1="435.60" x2="825.78" y2="439.90" stroke="#555" stroke-width="1.0"/><text x="825.78" y="458.40" font-size="15.2" text-anchor="middle">8</text><line x1="873.10" y1="435.60" x2="873.10" y2="439.90" stroke="#555" stroke-width="1.0"/><text x="873.10" y="458.40" font-size="15.2" text-anchor="middle">10</text><text x="754.80" y="478.10" font-size="15.2" text-anchor="middle">Time (s)</text><text x="0" y="0" font-size="15.2" text-anchor="middle" transform="translate(598.70,348.00) rotate(-90)">Autocorrelation</text><polyline points="638.80,287.50 639.05,295.65 639.30,303.26 639.55,310.35 639.80,316.97 640.05,323.14 640.30,328.90 640.55,334.28 640.80,339.29 641.05,343.97 641.30,348.33 641.55,352.40 641.80,356.20 642.05,359.74 642.30,363.04 642.55,366.13 642.80,369.00 643.05,371.69 643.30,374.19 643.55,376.53 643.80,378.70 644.05,380.74 644.30,382.63 644.55,384.40 644.80,386.05 645.05,387.59 645.30,389.03 645.55,390.37 645.80,391.62 646.05,392.78 646.30,393.87 646.55,394.89 646.80,395.83 647.05,396.72 647.30,397.54 647.55,398.31 647.80,399.03 648.05,399.70 648.30,400.32 648.55,400.90 648.80,401.45 649.05,401.95 649.30,402.43 649.55,402.87 649.80,403.28 650.05,403.66 650.30,404.02 650.55,404.35 650.80,404.67 651.05,404.96 651.30,405.23 651.55,405.48 651.80,405.72 652.05,405.94 652.30,406.14 652.55,406.33 652.80,406.51 653.05,406.68 653.30,406.84 653.55,406.98 653.80,407.12 654.05,407.24 654.30,407.36 654.55,407.47 654.80,407.57 655.05,407.67 655.30,407.76 655.55,407.84 655.80,407.92 656.05,407.99 656.30,408.06 656.55,408.12 656.80,408.18 657.05,408.24 657.30,408.29 657.55,408.34 657.80,408.38 658.05,408.42 658.30,408.46 658.55,408.50 658.80,408.53 659.05,408.56 659.30,408.59 659.55,408.62 659.80,408.64 660.05,408.67 660.30,408.69 660.55,408.71 662.55,408.83 664.55,408.90 666.55,408.95 668.55,408.97 670.55,408.98 672.55,408.99 674.55,408.99 676.55,409.00 678.55,409.00 680.55,409.00 682.55,409.00 684.55,409.00 686.55,409.00 688.55,409.00 690.55,409.00 692.55,409.00 694.55,409.00 696.55,409.00 698.55,409.00 700.55,409.00 702.55,409.00 704.55,409.00 706.55,409.00 708.55,409.00 710.55,409.00 712.55,409.00 714.55,409.00 716.55,409.00 718.55,409.00 720.55,409.00 722.55,409.00 724.55,409.00 726.55,409.00 728.55,409.00 730.55,409.00 732.55,409.00 734.55,409.00 736.55,409.00 738.55,409.00 740.55,409.00 742.55,409.00 744.55,409.00 746.55,409.00 748.55,409.00 750.55,409.00 752.55,409.00 754.55,409.00 756.55,409.00 758.55,409.00 760.55,409.00 762.55,409.00 764.55,409.00 766.55,409.00 768.55,409.00 770.55,409.00 772.55,409.00 774.55,409.00 776.55,409.00 778.55,409.00 780.55,409.00 782.55,409.00 784.55,409.00 786.55,409.00 788.55,409.00 790.55,409.00 792.55,409.00 794.55,409.00 796.55,409.00 798.55,409.00 800.55,409.00 802.55,409.00 804.55,409.00 806.55,409.00 808.55,409.00 810.55,409.00 812.55,409.00 814.55,409.00 816.55,409.00 818.55,409.00 820.55,409.00 822.55,409.00 824.55,409.00 826.55,409.00 828.55,409.00 830.55,409.00 832.55,409.00 834.55,409.00 836.55,409.00 838.55,409.00 840.55,409.00 842.55,409.00 844.55,409.00 846.55,409.00 848.55,409.00 850.55,409.00 852.55,409.00 854.55,409.00 856.55,409.00 858.55,409.00 860.55,409.00 862.55,409.00 864.55,409.00 866.55,409.00 868.55,409.00 870.55,409.00 872.55,409.00 873.60,409.00" fill="none" stroke="#111" stroke-width="1.5"/><circle cx="638.90" cy="287.00" r="1.2" fill="#ff0808"/><circle cx="641.20" cy="343.70" r="1.2" fill="#ff0808"/><circle cx="643.50" cy="394.80" r="1.2" fill="#ff0808"/><circle cx="646.00" cy="396.20" r="1.2" fill="#ff0808"/><circle cx="648.20" cy="397.80" r="1.2" fill="#ff0808"/><circle cx="650.80" cy="401.50" r="1.2" fill="#ff0808"/><circle cx="653.20" cy="402.00" r="1.2" fill="#ff0808"/><circle cx="655.50" cy="399.50" r="1.2" fill="#ff0808"/><circle cx="657.80" cy="397.00" r="1.2" fill="#ff0808"/><circle cx="660.20" cy="400.00" r="1.2" fill="#ff0808"/><circle cx="662.50" cy="404.80" r="1.2" fill="#ff0808"/><circle cx="664.80" cy="408.00" r="1.2" fill="#ff0808"/><circle cx="667.20" cy="405.80" r="1.2" fill="#ff0808"/><circle cx="669.50" cy="403.50" r="1.2" fill="#ff0808"/><circle cx="671.80" cy="403.80" r="1.2" fill="#ff0808"/><circle cx="674.20" cy="404.80" r="1.2" fill="#ff0808"/><circle cx="676.50" cy="404.00" r="1.2" fill="#ff0808"/><circle cx="679.00" cy="404.00" r="1.2" fill="#ff0808"/><circle cx="681.50" cy="407.00" r="1.2" fill="#ff0808"/><circle cx="683.80" cy="413.20" r="1.2" fill="#ff0808"/><circle cx="686.20" cy="417.00" r="1.2" fill="#ff0808"/><circle cx="688.50" cy="418.50" r="1.2" fill="#ff0808"/><circle cx="690.80" cy="418.50" r="1.2" fill="#ff0808"/><circle cx="693.20" cy="416.80" r="1.2" fill="#ff0808"/><circle cx="695.50" cy="414.80" r="1.2" fill="#ff0808"/><circle cx="698.00" cy="411.80" r="1.2" fill="#ff0808"/><circle cx="700.50" cy="412.50" r="1.2" fill="#ff0808"/><circle cx="702.80" cy="413.20" r="1.2" fill="#ff0808"/><circle cx="705.20" cy="412.00" r="1.2" fill="#ff0808"/><circle cx="707.50" cy="409.50" r="1.2" fill="#ff0808"/><circle cx="709.80" cy="408.00" r="1.2" fill="#ff0808"/><circle cx="712.20" cy="408.50" r="1.2" fill="#ff0808"/><circle cx="714.50" cy="409.20" r="1.2" fill="#ff0808"/><circle cx="717.00" cy="406.80" r="1.2" fill="#ff0808"/><circle cx="719.50" cy="404.20" r="1.2" fill="#ff0808"/><circle cx="721.80" cy="405.50" r="1.2" fill="#ff0808"/><circle cx="724.20" cy="408.20" r="1.2" fill="#ff0808"/><circle cx="726.50" cy="412.80" r="1.2" fill="#ff0808"/><circle cx="728.80" cy="413.80" r="1.2" fill="#ff0808"/><circle cx="731.20" cy="417.80" r="1.2" fill="#ff0808"/><circle cx="733.50" cy="416.20" r="1.2" fill="#ff0808"/><circle cx="736.00" cy="413.80" r="1.2" fill="#ff0808"/><circle cx="738.50" cy="408.50" r="1.2" fill="#ff0808"/><circle cx="740.80" cy="405.00" r="1.2" fill="#ff0808"/><circle cx="743.20" cy="404.50" r="1.2" fill="#ff0808"/><circle cx="745.50" cy="403.80" r="1.2" fill="#ff0808"/><circle cx="747.80" cy="405.50" r="1.2" fill="#ff0808"/><circle cx="750.20" cy="405.50" r="1.2" fill="#ff0808"/><circle cx="752.50" cy="406.20" r="1.2" fill="#ff0808"/><circle cx="754.80" cy="404.00" r="1.2" fill="#ff0808"/><circle cx="757.38" cy="401.46" r="1.2" fill="#ff0808"/><circle cx="759.46" cy="397.29" r="1.2" fill="#ff0808"/><circle cx="762.17" cy="397.08" r="1.2" fill="#ff0808"/><circle cx="764.46" cy="400.73" r="1.2" fill="#ff0808"/><circle cx="766.75" cy="405.94" r="1.2" fill="#ff0808"/><circle cx="769.15" cy="409.79" r="1.2" fill="#ff0808"/><circle cx="771.54" cy="411.67" r="1.2" fill="#ff0808"/><circle cx="773.83" cy="411.67" r="1.2" fill="#ff0808"/><circle cx="776.12" cy="409.58" r="1.2" fill="#ff0808"/><circle cx="778.52" cy="404.90" r="1.2" fill="#ff0808"/><circle cx="780.92" cy="402.81" r="1.2" fill="#ff0808"/><circle cx="783.21" cy="403.54" r="1.2" fill="#ff0808"/><circle cx="785.81" cy="405.94" r="1.2" fill="#ff0808"/><circle cx="788.21" cy="404.90" r="1.2" fill="#ff0808"/><circle cx="790.50" cy="402.50" r="1.2" fill="#ff0808"/><circle cx="792.79" cy="400.73" r="1.2" fill="#ff0808"/><circle cx="795.19" cy="401.25" r="1.2" fill="#ff0808"/><circle cx="797.58" cy="403.85" r="1.2" fill="#ff0808"/><circle cx="799.88" cy="406.67" r="1.2" fill="#ff0808"/><circle cx="802.17" cy="409.58" r="1.2" fill="#ff0808"/><circle cx="804.56" cy="409.79" r="1.2" fill="#ff0808"/><circle cx="806.96" cy="410.83" r="1.2" fill="#ff0808"/><circle cx="809.25" cy="413.23" r="1.2" fill="#ff0808"/><circle cx="811.85" cy="413.54" r="1.2" fill="#ff0808"/><circle cx="814.25" cy="413.54" r="1.2" fill="#ff0808"/><circle cx="816.54" cy="411.46" r="1.2" fill="#ff0808"/><circle cx="818.83" cy="412.19" r="1.2" fill="#ff0808"/><circle cx="821.23" cy="412.92" r="1.2" fill="#ff0808"/><circle cx="823.62" cy="413.23" r="1.2" fill="#ff0808"/><circle cx="825.92" cy="411.67" r="1.2" fill="#ff0808"/><circle cx="828.21" cy="408.33" r="1.2" fill="#ff0808"/><circle cx="830.60" cy="409.06" r="1.2" fill="#ff0808"/><circle cx="833.00" cy="411.88" r="1.2" fill="#ff0808"/><circle cx="835.29" cy="415.83" r="1.2" fill="#ff0808"/><circle cx="837.58" cy="415.83" r="1.2" fill="#ff0808"/><circle cx="839.98" cy="413.75" r="1.2" fill="#ff0808"/><circle cx="842.38" cy="413.23" r="1.2" fill="#ff0808"/><circle cx="844.88" cy="415.62" r="1.2" fill="#ff0808"/><circle cx="847.27" cy="417.71" r="1.2" fill="#ff0808"/><circle cx="849.67" cy="414.58" r="1.2" fill="#ff0808"/><circle cx="851.96" cy="410.10" r="1.2" fill="#ff0808"/><circle cx="854.25" cy="408.02" r="1.2" fill="#ff0808"/><circle cx="856.65" cy="410.10" r="1.2" fill="#ff0808"/><circle cx="859.04" cy="412.92" r="1.2" fill="#ff0808"/><circle cx="861.33" cy="412.92" r="1.2" fill="#ff0808"/><circle cx="863.62" cy="413.23" r="1.2" fill="#ff0808"/><circle cx="866.02" cy="414.27" r="1.2" fill="#ff0808"/><circle cx="868.42" cy="415.62" r="1.2" fill="#ff0808"/><circle cx="870.92" cy="413.54" r="1.2" fill="#ff0808"/><circle cx="873.31" cy="410.83" r="1.2" fill="#ff0808"/><text x="584.50" y="259.00" style="font-family:'Liberation Sans';font-size:17px;font-weight:bold">h</text><text x="712.30" y="311.00" font-size="15.2"><tspan font-style="italic">H</tspan><tspan font-size="10.5" dy="4">2</tspan><tspan dy="-4">, N<tspan font-size="10.5" dy="4">TAIL</tspan><tspan dy="-4">-Trx, pH 6.0</tspan></text><text x="712.30" y="329.00" font-size="15.2"><tspan font-style="italic">λ</tspan> = 7.5 ± 0.6 s<tspan font-size="10" dy="-6.5">−1</tspan></text><line x1="948.50" y1="260.40" x2="948.50" y2="439.90" stroke="#555" stroke-width="1.0"/><line x1="944.20" y1="435.60" x2="1184.50" y2="435.60" stroke="#555" stroke-width="1.0"/><line x1="944.20" y1="435.60" x2="948.50" y2="435.60" stroke="#555" stroke-width="1.0"/><text x="937.50" y="440.90" font-size="15.2" text-anchor="end">−1</text><line x1="944.20" y1="410.57" x2="948.50" y2="410.57" stroke="#555" stroke-width="1.0"/><text x="937.50" y="415.87" font-size="15.2" text-anchor="end">0</text><line x1="944.20" y1="385.54" x2="948.50" y2="385.54" stroke="#555" stroke-width="1.0"/><text x="937.50" y="390.84" font-size="15.2" text-anchor="end">1</text><line x1="944.20" y1="360.51" x2="948.50" y2="360.51" stroke="#555" stroke-width="1.0"/><text x="937.50" y="365.81" font-size="15.2" text-anchor="end">2</text><line x1="944.20" y1="335.49" x2="948.50" y2="335.49" stroke="#555" stroke-width="1.0"/><text x="937.50" y="340.79" font-size="15.2" text-anchor="end">3</text><line x1="944.20" y1="310.46" x2="948.50" y2="310.46" stroke="#555" stroke-width="1.0"/><text x="937.50" y="315.76" font-size="15.2" text-anchor="end">4</text><line x1="944.20" y1="285.43" x2="948.50" y2="285.43" stroke="#555" stroke-width="1.0"/><text x="937.50" y="290.73" font-size="15.2" text-anchor="end">5</text><line x1="944.20" y1="260.40" x2="948.50" y2="260.40" stroke="#555" stroke-width="1.0"/><text x="937.50" y="265.70" font-size="15.2" text-anchor="end">6</text><line x1="948.50" y1="435.60" x2="948.50" y2="439.90" stroke="#555" stroke-width="1.0"/><text x="948.50" y="458.40" font-size="15.2" text-anchor="middle">0</text><line x1="995.70" y1="435.60" x2="995.70" y2="439.90" stroke="#555" stroke-width="1.0"/><text x="995.70" y="458.40" font-size="15.2" text-anchor="middle">2</text><line x1="1042.90" y1="435.60" x2="1042.90" y2="439.90" stroke="#555" stroke-width="1.0"/><text x="1042.90" y="458.40" font-size="15.2" text-anchor="middle">4</text><line x1="1090.10" y1="435.60" x2="1090.10" y2="439.90" stroke="#555" stroke-width="1.0"/><text x="1090.10" y="458.40" font-size="15.2" text-anchor="middle">6</text><line x1="1137.30" y1="435.60" x2="1137.30" y2="439.90" stroke="#555" stroke-width="1.0"/><text x="1137.30" y="458.40" font-size="15.2" text-anchor="middle">8</text><line x1="1184.50" y1="435.60" x2="1184.50" y2="439.90" stroke="#555" stroke-width="1.0"/><text x="1184.50" y="458.40" font-size="15.2" text-anchor="middle">10</text><text x="1066.50" y="478.10" font-size="15.2" text-anchor="middle">Time (s)</text><text x="0" y="0" font-size="15.2" text-anchor="middle" transform="translate(912.20,348.00) rotate(-90)">Autocorrelation</text><polyline points="949.40,348.80 949.65,352.67 949.90,356.31 950.15,359.72 950.40,362.91 950.65,365.91 950.90,368.72 951.15,371.36 951.40,373.83 951.65,376.15 951.90,378.33 952.15,380.37 952.40,382.29 952.65,384.08 952.90,385.76 953.15,387.34 953.40,388.83 953.65,390.21 953.90,391.52 954.15,392.74 954.40,393.89 954.65,394.96 954.90,395.97 955.15,396.92 955.40,397.80 955.65,398.63 955.90,399.41 956.15,400.15 956.40,400.83 956.65,401.48 956.90,402.08 957.15,402.65 957.40,403.18 957.65,403.68 957.90,404.14 958.15,404.58 958.40,404.99 958.65,405.38 958.90,405.74 959.15,406.08 959.40,406.40 959.65,406.69 959.90,406.97 960.15,407.24 960.40,407.48 960.65,407.71 960.90,407.93 961.15,408.13 961.40,408.32 961.65,408.50 961.90,408.67 962.15,408.83 962.40,408.97 962.65,409.11 962.90,409.24 963.15,409.36 963.40,409.48 963.65,409.58 963.90,409.68 964.15,409.78 964.40,409.87 964.65,409.95 964.90,410.03 965.15,410.10 965.40,410.17 965.65,410.23 965.90,410.29 966.15,410.35 966.40,410.40 966.65,410.45 966.90,410.50 967.15,410.54 967.40,410.58 967.65,410.62 967.90,410.66 968.15,410.69 968.40,410.72 968.65,410.75 968.90,410.78 969.15,410.81 969.40,410.83 969.65,410.85 969.90,410.87 970.15,410.89 970.40,410.91 970.65,410.93 970.90,410.95 971.15,410.96 971.40,410.98 971.65,410.99 971.90,411.01 972.15,411.02 972.40,411.03 972.65,411.04 972.90,411.05 974.90,411.11 976.90,411.15 978.90,411.17 980.90,411.18 982.90,411.19 984.90,411.19 986.90,411.20 988.90,411.20 990.90,411.20 992.90,411.20 994.90,411.20 996.90,411.20 998.90,411.20 1000.90,411.20 1002.90,411.20 1004.90,411.20 1006.90,411.20 1008.90,411.20 1010.90,411.20 1012.90,411.20 1014.90,411.20 1016.90,411.20 1018.90,411.20 1020.90,411.20 1022.90,411.20 1024.90,411.20 1026.90,411.20 1028.90,411.20 1030.90,411.20 1032.90,411.20 1034.90,411.20 1036.90,411.20 1038.90,411.20 1040.90,411.20 1042.90,411.20 1044.90,411.20 1046.90,411.20 1048.90,411.20 1050.90,411.20 1052.90,411.20 1054.90,411.20 1056.90,411.20 1058.90,411.20 1060.90,411.20 1062.90,411.20 1064.90,411.20 1066.90,411.20 1068.90,411.20 1070.90,411.20 1072.90,411.20 1074.90,411.20 1076.90,411.20 1078.90,411.20 1080.90,411.20 1082.90,411.20 1084.90,411.20 1086.90,411.20 1088.90,411.20 1088.90,411.20" fill="none" stroke="#111" stroke-width="1.5"/><circle cx="949.50" cy="349.30" r="1.2" fill="#ff0808"/><circle cx="951.10" cy="367.90" r="1.2" fill="#ff0808"/><circle cx="952.90" cy="386.00" r="1.2" fill="#ff0808"/><circle cx="954.10" cy="402.60" r="1.2" fill="#ff0808"/><circle cx="955.73" cy="405.43" r="1.2" fill="#ff0808"/><circle cx="956.98" cy="405.85" r="1.2" fill="#ff0808"/><circle cx="958.23" cy="406.11" r="1.2" fill="#ff0808"/><circle cx="959.48" cy="405.55" r="1.2" fill="#ff0808"/><circle cx="960.73" cy="404.88" r="1.2" fill="#ff0808"/><circle cx="961.98" cy="404.72" r="1.2" fill="#ff0808"/><circle cx="963.23" cy="405.07" r="1.2" fill="#ff0808"/><circle cx="964.48" cy="405.62" r="1.2" fill="#ff0808"/><circle cx="965.73" cy="406.83" r="1.2" fill="#ff0808"/><circle cx="966.98" cy="408.07" r="1.2" fill="#ff0808"/><circle cx="968.23" cy="408.90" r="1.2" fill="#ff0808"/><circle cx="969.48" cy="409.25" r="1.2" fill="#ff0808"/><circle cx="970.73" cy="408.69" r="1.2" fill="#ff0808"/><circle cx="971.98" cy="407.97" r="1.2" fill="#ff0808"/><circle cx="973.23" cy="407.73" r="1.2" fill="#ff0808"/><circle cx="974.48" cy="408.20" r="1.2" fill="#ff0808"/><circle cx="975.73" cy="409.07" r="1.2" fill="#ff0808"/><circle cx="976.98" cy="410.33" r="1.2" fill="#ff0808"/><circle cx="978.23" cy="412.00" r="1.2" fill="#ff0808"/><circle cx="979.48" cy="413.10" r="1.2" fill="#ff0808"/><circle cx="980.73" cy="413.74" r="1.2" fill="#ff0808"/><circle cx="981.98" cy="413.83" r="1.2" fill="#ff0808"/><circle cx="983.23" cy="413.50" r="1.2" fill="#ff0808"/><circle cx="984.48" cy="412.49" r="1.2" fill="#ff0808"/><circle cx="985.73" cy="411.24" r="1.2" fill="#ff0808"/><circle cx="986.98" cy="409.99" r="1.2" fill="#ff0808"/><circle cx="988.23" cy="408.96" r="1.2" fill="#ff0808"/><circle cx="989.48" cy="408.52" r="1.2" fill="#ff0808"/><circle cx="990.73" cy="409.04" r="1.2" fill="#ff0808"/><circle cx="991.98" cy="410.44" r="1.2" fill="#ff0808"/><circle cx="993.23" cy="412.10" r="1.2" fill="#ff0808"/><circle cx="994.48" cy="414.02" r="1.2" fill="#ff0808"/><circle cx="995.73" cy="416.33" r="1.2" fill="#ff0808"/><circle cx="996.98" cy="417.56" r="1.2" fill="#ff0808"/><circle cx="998.23" cy="417.14" r="1.2" fill="#ff0808"/><circle cx="999.48" cy="415.33" r="1.2" fill="#ff0808"/><circle cx="1000.73" cy="412.95" r="1.2" fill="#ff0808"/><circle cx="1001.98" cy="409.79" r="1.2" fill="#ff0808"/><circle cx="1003.23" cy="407.23" r="1.2" fill="#ff0808"/><circle cx="1004.48" cy="406.69" r="1.2" fill="#ff0808"/><circle cx="1005.73" cy="407.68" r="1.2" fill="#ff0808"/><circle cx="1006.98" cy="409.15" r="1.2" fill="#ff0808"/><circle cx="1008.23" cy="411.75" r="1.2" fill="#ff0808"/><circle cx="1009.48" cy="414.87" r="1.2" fill="#ff0808"/><circle cx="1010.73" cy="416.57" r="1.2" fill="#ff0808"/><circle cx="1011.98" cy="416.60" r="1.2" fill="#ff0808"/><circle cx="1013.23" cy="416.08" r="1.2" fill="#ff0808"/><circle cx="1014.48" cy="415.50" r="1.2" fill="#ff0808"/><circle cx="1015.73" cy="414.98" r="1.2" fill="#ff0808"/><circle cx="1016.98" cy="415.17" r="1.2" fill="#ff0808"/><circle cx="1018.23" cy="416.24" r="1.2" fill="#ff0808"/><circle cx="1019.48" cy="417.67" r="1.2" fill="#ff0808"/><circle cx="1020.73" cy="418.24" r="1.2" fill="#ff0808"/><circle cx="1021.98" cy="417.83" r="1.2" fill="#ff0808"/><circle cx="1023.23" cy="415.34" r="1.2" fill="#ff0808"/><circle cx="1024.48" cy="412.76" r="1.2" fill="#ff0808"/><circle cx="1025.73" cy="410.78" r="1.2" fill="#ff0808"/><circle cx="1026.98" cy="409.37" r="1.2" fill="#ff0808"/><circle cx="1028.23" cy="408.79" r="1.2" fill="#ff0808"/><circle cx="1029.48" cy="409.79" r="1.2" fill="#ff0808"/><circle cx="1030.73" cy="411.02" r="1.2" fill="#ff0808"/><circle cx="1031.98" cy="411.91" r="1.2" fill="#ff0808"/><circle cx="1033.23" cy="412.54" r="1.2" fill="#ff0808"/><circle cx="1034.48" cy="412.55" r="1.2" fill="#ff0808"/><circle cx="1035.73" cy="412.91" r="1.2" fill="#ff0808"/><circle cx="1036.98" cy="412.39" r="1.2" fill="#ff0808"/><circle cx="1038.23" cy="411.67" r="1.2" fill="#ff0808"/><circle cx="1039.48" cy="410.78" r="1.2" fill="#ff0808"/><circle cx="1040.73" cy="410.36" r="1.2" fill="#ff0808"/><circle cx="1041.98" cy="409.96" r="1.2" fill="#ff0808"/><circle cx="1043.23" cy="409.42" r="1.2" fill="#ff0808"/><circle cx="1044.48" cy="408.67" r="1.2" fill="#ff0808"/><circle cx="1045.73" cy="407.77" r="1.2" fill="#ff0808"/><circle cx="1046.98" cy="406.84" r="1.2" fill="#ff0808"/><circle cx="1048.23" cy="406.07" r="1.2" fill="#ff0808"/><circle cx="1049.48" cy="406.70" r="1.2" fill="#ff0808"/><circle cx="1050.73" cy="408.05" r="1.2" fill="#ff0808"/><circle cx="1051.98" cy="409.98" r="1.2" fill="#ff0808"/><circle cx="1053.23" cy="411.99" r="1.2" fill="#ff0808"/><circle cx="1054.48" cy="413.06" r="1.2" fill="#ff0808"/><circle cx="1055.73" cy="413.46" r="1.2" fill="#ff0808"/><circle cx="1056.98" cy="412.54" r="1.2" fill="#ff0808"/><circle cx="1058.23" cy="409.84" r="1.2" fill="#ff0808"/><circle cx="1059.48" cy="407.25" r="1.2" fill="#ff0808"/><circle cx="1060.73" cy="405.67" r="1.2" fill="#ff0808"/><circle cx="1061.98" cy="405.14" r="1.2" fill="#ff0808"/><circle cx="1063.23" cy="405.11" r="1.2" fill="#ff0808"/><circle cx="1064.48" cy="405.74" r="1.2" fill="#ff0808"/><circle cx="1065.73" cy="406.63" r="1.2" fill="#ff0808"/><circle cx="1066.98" cy="407.73" r="1.2" fill="#ff0808"/><circle cx="1068.23" cy="408.82" r="1.2" fill="#ff0808"/><circle cx="1069.48" cy="409.91" r="1.2" fill="#ff0808"/><circle cx="1070.73" cy="411.67" r="1.2" fill="#ff0808"/><circle cx="1071.98" cy="413.36" r="1.2" fill="#ff0808"/><circle cx="1073.23" cy="414.77" r="1.2" fill="#ff0808"/><circle cx="1074.48" cy="415.08" r="1.2" fill="#ff0808"/><circle cx="1075.73" cy="415.24" r="1.2" fill="#ff0808"/><circle cx="1076.98" cy="414.71" r="1.2" fill="#ff0808"/><circle cx="1078.23" cy="413.56" r="1.2" fill="#ff0808"/><circle cx="1079.48" cy="411.98" r="1.2" fill="#ff0808"/><circle cx="1080.73" cy="410.91" r="1.2" fill="#ff0808"/><circle cx="1081.98" cy="409.98" r="1.2" fill="#ff0808"/><circle cx="1083.23" cy="409.20" r="1.2" fill="#ff0808"/><circle cx="1084.48" cy="409.45" r="1.2" fill="#ff0808"/><circle cx="1085.73" cy="410.39" r="1.2" fill="#ff0808"/><circle cx="1086.98" cy="411.64" r="1.2" fill="#ff0808"/><circle cx="1088.23" cy="413.06" r="1.2" fill="#ff0808"/><text x="898.50" y="259.00" style="font-family:'Liberation Sans';font-size:17px;font-weight:bold">i</text><text x="1039.50" y="311.00" font-size="15.2"><tspan font-style="italic">H</tspan><tspan font-size="10.5" dy="4">2</tspan><tspan dy="-4">, N<tspan font-size="10.5" dy="4">TAIL</tspan><tspan dy="-4">-Trx, pH 7.0</tspan></text><text x="1039.50" y="329.00" font-size="15.2"><tspan font-style="italic">λ</tspan> = 7.2 ± 0.6 s<tspan font-size="10" dy="-6.5">−1</tspan></text><line x1="321.40" y1="486.50" x2="321.40" y2="666.70" stroke="#555" stroke-width="1.0"/><line x1="317.10" y1="662.40" x2="558.10" y2="662.40" stroke="#555" stroke-width="1.0"/><line x1="317.10" y1="662.40" x2="321.40" y2="662.40" stroke="#555" stroke-width="1.0"/><text x="310.40" y="667.70" font-size="15.2" text-anchor="end">−1</text><line x1="317.10" y1="637.27" x2="321.40" y2="637.27" stroke="#555" stroke-width="1.0"/><text x="310.40" y="642.57" font-size="15.2" text-anchor="end">0</text><line x1="317.10" y1="612.14" x2="321.40" y2="612.14" stroke="#555" stroke-width="1.0"/><text x="310.40" y="617.44" font-size="15.2" text-anchor="end">1</text><line x1="317.10" y1="587.01" x2="321.40" y2="587.01" stroke="#555" stroke-width="1.0"/><text x="310.40" y="592.31" font-size="15.2" text-anchor="end">2</text><line x1="317.10" y1="561.89" x2="321.40" y2="561.89" stroke="#555" stroke-width="1.0"/><text x="310.40" y="567.19" font-size="15.2" text-anchor="end">3</text><line x1="317.10" y1="536.76" x2="321.40" y2="536.76" stroke="#555" stroke-width="1.0"/><text x="310.40" y="542.06" font-size="15.2" text-anchor="end">4</text><line x1="317.10" y1="511.63" x2="321.40" y2="511.63" stroke="#555" stroke-width="1.0"/><text x="310.40" y="516.93" font-size="15.2" text-anchor="end">5</text><line x1="317.10" y1="486.50" x2="321.40" y2="486.50" stroke="#555" stroke-width="1.0"/><text x="310.40" y="491.80" font-size="15.2" text-anchor="end">6</text><line x1="321.40" y1="662.40" x2="321.40" y2="666.70" stroke="#555" stroke-width="1.0"/><text x="321.40" y="684.60" font-size="15.2" text-anchor="middle">0</text><line x1="368.74" y1="662.40" x2="368.74" y2="666.70" stroke="#555" stroke-width="1.0"/><text x="368.74" y="684.60" font-size="15.2" text-anchor="middle">2</text><line x1="416.08" y1="662.40" x2="416.08" y2="666.70" stroke="#555" stroke-width="1.0"/><text x="416.08" y="684.60" font-size="15.2" text-anchor="middle">4</text><line x1="463.42" y1="662.40" x2="463.42" y2="666.70" stroke="#555" stroke-width="1.0"/><text x="463.42" y="684.60" font-size="15.2" text-anchor="middle">6</text><line x1="510.76" y1="662.40" x2="510.76" y2="666.70" stroke="#555" stroke-width="1.0"/><text x="510.76" y="684.60" font-size="15.2" text-anchor="middle">8</text><line x1="558.10" y1="662.40" x2="558.10" y2="666.70" stroke="#555" stroke-width="1.0"/><text x="558.10" y="684.60" font-size="15.2" text-anchor="middle">10</text><text x="439.75" y="704.40" font-size="15.2" text-anchor="middle">Time (s)</text><text x="0" y="0" font-size="15.2" text-anchor="middle" transform="translate(285.10,574.45) rotate(-90)">Autocorrelation</text><polyline points="324.20,519.20 324.45,522.88 324.70,526.44 324.95,529.89 325.20,533.23 325.45,536.47 325.70,539.61 325.95,542.65 326.20,545.59 326.45,548.45 326.70,551.21 326.95,553.89 327.20,556.48 327.45,559.00 327.70,561.43 327.95,563.79 328.20,566.08 328.45,568.30 328.70,570.44 328.95,572.52 329.20,574.54 329.45,576.49 329.70,578.38 329.95,580.21 330.20,581.99 330.45,583.71 330.70,585.37 330.95,586.99 331.20,588.55 331.45,590.07 331.70,591.54 331.95,592.96 332.20,594.34 332.45,595.67 332.70,596.97 332.95,598.22 333.20,599.43 333.45,600.61 333.70,601.75 333.95,602.85 334.20,603.92 334.45,604.96 334.70,605.96 334.95,606.94 335.20,607.88 335.45,608.79 335.70,609.68 335.95,610.54 336.20,611.37 336.45,612.17 336.70,612.95 336.95,613.71 337.20,614.44 337.45,615.15 337.70,615.83 337.95,616.50 338.20,617.14 338.45,617.77 338.70,618.37 338.95,618.96 339.20,619.53 339.45,620.08 339.70,620.61 339.95,621.13 340.20,621.63 340.45,622.11 340.70,622.58 340.95,623.04 341.20,623.48 341.45,623.91 341.70,624.32 341.95,624.72 342.20,625.11 342.45,625.49 342.70,625.85 342.95,626.21 343.20,626.55 343.45,626.88 343.70,627.20 343.95,627.51 344.20,627.82 344.45,628.11 344.70,628.39 344.95,628.67 345.20,628.93 345.45,629.19 345.70,629.44 345.95,629.68 346.20,629.91 346.45,630.14 346.70,630.36 346.95,630.57 347.20,630.78 347.45,630.98 347.70,631.17 347.95,631.36 348.20,631.54 348.45,631.72 348.70,631.89 348.95,632.06 349.20,632.22 349.45,632.37 349.70,632.52 349.95,632.67 350.20,632.81 350.45,632.95 350.70,633.08 350.95,633.21 351.20,633.33 351.45,633.45 351.70,633.57 351.95,633.68 352.20,633.79 352.45,633.90 352.70,634.00 352.95,634.10 353.20,634.20 353.45,634.29 353.70,634.38 353.95,634.47 354.20,634.55 354.45,634.64 354.70,634.72 354.95,634.79 355.20,634.87 355.45,634.94 355.70,635.01 355.95,635.08 356.20,635.15 356.45,635.21 356.70,635.27 356.95,635.33 357.20,635.39 357.45,635.45 357.70,635.50 357.95,635.55 358.20,635.60 358.45,635.65 358.70,635.70 358.95,635.75 359.20,635.79 359.45,635.84 359.70,635.88 359.95,635.92 360.20,635.96 360.45,636.00 360.70,636.04 360.95,636.07 361.20,636.11 361.45,636.14 361.70,636.18 361.95,636.21 362.20,636.24 362.45,636.27 362.70,636.30 362.95,636.33 363.20,636.35 363.45,636.38 363.70,636.40 363.95,636.43 364.20,636.45 364.45,636.48 364.70,636.50 364.95,636.52 365.20,636.54 365.45,636.56 365.70,636.58 365.95,636.60 366.20,636.62 366.45,636.64 366.70,636.66 366.95,636.67 367.20,636.69 367.45,636.71 367.70,636.72 367.95,636.74 368.20,636.75 368.45,636.76 368.70,636.78 368.95,636.79 369.20,636.80 369.45,636.82 369.70,636.83 369.95,636.84 370.20,636.85 370.45,636.86 370.70,636.87 370.95,636.88 371.20,636.89 371.45,636.90 371.70,636.91 373.70,636.98 375.70,637.03 377.70,637.06 379.70,637.10 381.70,637.12 383.70,637.14 385.70,637.15 387.70,637.16 389.70,637.17 391.70,637.18 393.70,637.18 395.70,637.19 397.70,637.19 399.70,637.19 401.70,637.19 403.70,637.19 405.70,637.20 407.70,637.20 409.70,637.20 411.70,637.20 413.70,637.20 415.70,637.20 417.70,637.20 419.70,637.20 421.70,637.20 423.70,637.20 425.70,637.20 427.70,637.20 429.70,637.20 431.70,637.20 433.70,637.20 435.70,637.20 437.70,637.20 439.70,637.20 441.70,637.20 443.70,637.20 445.70,637.20 447.70,637.20 449.70,637.20 451.70,637.20 453.70,637.20 455.70,637.20 457.70,637.20 459.70,637.20 461.70,637.20 463.70,637.20 465.70,637.20 467.70,637.20 469.70,637.20 471.70,637.20 473.70,637.20 475.70,637.20 477.70,637.20 479.70,637.20 481.70,637.20 483.70,637.20 485.70,637.20 487.70,637.20 489.70,637.20 491.70,637.20 493.70,637.20 495.70,637.20 497.70,637.20 499.70,637.20 501.70,637.20 503.70,637.20 505.70,637.20 507.70,637.20 509.70,637.20 511.70,637.20 513.70,637.20 515.70,637.20 517.70,637.20 519.70,637.20 521.70,637.20 523.70,637.20 525.70,637.20 527.70,637.20 529.70,637.20 531.70,637.20 533.70,637.20 535.20,637.20" fill="none" stroke="#111" stroke-width="1.5"/><circle cx="323.90" cy="525.70" r="1.2" fill="#ff0808"/><circle cx="326.20" cy="544.90" r="1.2" fill="#ff0808"/><circle cx="328.60" cy="566.40" r="1.2" fill="#ff0808"/><circle cx="331.10" cy="588.50" r="1.2" fill="#ff0808"/><circle cx="333.30" cy="609.70" r="1.2" fill="#ff0808"/><circle cx="335.90" cy="615.50" r="1.2" fill="#ff0808"/><circle cx="338.20" cy="622.40" r="1.2" fill="#ff0808"/><circle cx="340.50" cy="626.40" r="1.2" fill="#ff0808"/><circle cx="342.94" cy="629.50" r="1.2" fill="#ff0808"/><circle cx="345.32" cy="630.78" r="1.2" fill="#ff0808"/><circle cx="347.52" cy="631.33" r="1.2" fill="#ff0808"/><circle cx="349.91" cy="630.78" r="1.2" fill="#ff0808"/><circle cx="352.11" cy="630.78" r="1.2" fill="#ff0808"/><circle cx="354.50" cy="631.51" r="1.2" fill="#ff0808"/><circle cx="356.97" cy="633.17" r="1.2" fill="#ff0808"/><circle cx="359.45" cy="635.00" r="1.2" fill="#ff0808"/><circle cx="361.83" cy="637.75" r="1.2" fill="#ff0808"/><circle cx="364.04" cy="640.69" r="1.2" fill="#ff0808"/><circle cx="366.61" cy="641.79" r="1.2" fill="#ff0808"/><circle cx="368.90" cy="641.79" r="1.2" fill="#ff0808"/><circle cx="371.19" cy="641.79" r="1.2" fill="#ff0808"/><circle cx="373.76" cy="639.95" r="1.2" fill="#ff0808"/><circle cx="375.96" cy="637.75" r="1.2" fill="#ff0808"/><circle cx="378.35" cy="637.02" r="1.2" fill="#ff0808"/><circle cx="380.55" cy="637.48" r="1.2" fill="#ff0808"/><circle cx="382.94" cy="639.04" r="1.2" fill="#ff0808"/><circle cx="385.41" cy="640.50" r="1.2" fill="#ff0808"/><circle cx="387.71" cy="642.71" r="1.2" fill="#ff0808"/><circle cx="390.28" cy="644.82" r="1.2" fill="#ff0808"/><circle cx="392.48" cy="645.28" r="1.2" fill="#ff0808"/><circle cx="395.05" cy="643.90" r="1.2" fill="#ff0808"/><circle cx="397.34" cy="642.34" r="1.2" fill="#ff0808"/><circle cx="399.82" cy="639.04" r="1.2" fill="#ff0808"/><circle cx="402.20" cy="636.83" r="1.2" fill="#ff0808"/><circle cx="404.68" cy="635.00" r="1.2" fill="#ff0808"/><circle cx="406.97" cy="633.81" r="1.2" fill="#ff0808"/><circle cx="409.27" cy="633.81" r="1.2" fill="#ff0808"/><circle cx="411.74" cy="635.00" r="1.2" fill="#ff0808"/><circle cx="414.13" cy="635.00" r="1.2" fill="#ff0808"/><circle cx="416.33" cy="634.72" r="1.2" fill="#ff0808"/><circle cx="418.72" cy="634.45" r="1.2" fill="#ff0808"/><circle cx="420.92" cy="633.81" r="1.2" fill="#ff0808"/><circle cx="423.30" cy="631.51" r="1.2" fill="#ff0808"/><circle cx="425.78" cy="629.68" r="1.2" fill="#ff0808"/><circle cx="428.07" cy="628.76" r="1.2" fill="#ff0808"/><circle cx="430.64" cy="627.84" r="1.2" fill="#ff0808"/><circle cx="432.84" cy="628.30" r="1.2" fill="#ff0808"/><circle cx="435.23" cy="629.68" r="1.2" fill="#ff0808"/><circle cx="437.71" cy="630.78" r="1.2" fill="#ff0808"/><circle cx="440.00" cy="633.81" r="1.2" fill="#ff0808"/><circle cx="442.29" cy="636.56" r="1.2" fill="#ff0808"/><circle cx="444.59" cy="639.59" r="1.2" fill="#ff0808"/><circle cx="446.88" cy="641.79" r="1.2" fill="#ff0808"/><circle cx="449.17" cy="644.17" r="1.2" fill="#ff0808"/><circle cx="451.67" cy="644.17" r="1.2" fill="#ff0808"/><circle cx="453.96" cy="642.52" r="1.2" fill="#ff0808"/><circle cx="456.44" cy="640.87" r="1.2" fill="#ff0808"/><circle cx="458.83" cy="638.39" r="1.2" fill="#ff0808"/><circle cx="461.30" cy="636.10" r="1.2" fill="#ff0808"/><circle cx="463.60" cy="634.72" r="1.2" fill="#ff0808"/><circle cx="465.89" cy="633.17" r="1.2" fill="#ff0808"/><circle cx="468.18" cy="631.51" r="1.2" fill="#ff0808"/><circle cx="470.75" cy="632.25" r="1.2" fill="#ff0808"/><circle cx="472.95" cy="632.61" r="1.2" fill="#ff0808"/><circle cx="475.34" cy="634.08" r="1.2" fill="#ff0808"/><circle cx="477.82" cy="636.56" r="1.2" fill="#ff0808"/><circle cx="480.11" cy="638.85" r="1.2" fill="#ff0808"/><circle cx="482.40" cy="639.04" r="1.2" fill="#ff0808"/><circle cx="484.70" cy="639.59" r="1.2" fill="#ff0808"/><circle cx="487.27" cy="639.77" r="1.2" fill="#ff0808"/><circle cx="489.74" cy="640.23" r="1.2" fill="#ff0808"/><circle cx="492.04" cy="640.87" r="1.2" fill="#ff0808"/><circle cx="494.33" cy="642.52" r="1.2" fill="#ff0808"/><circle cx="496.62" cy="643.62" r="1.2" fill="#ff0808"/><circle cx="499.19" cy="644.17" r="1.2" fill="#ff0808"/><circle cx="501.39" cy="643.44" r="1.2" fill="#ff0808"/><circle cx="503.78" cy="642.34" r="1.2" fill="#ff0808"/><circle cx="506.26" cy="639.95" r="1.2" fill="#ff0808"/><circle cx="508.55" cy="638.67" r="1.2" fill="#ff0808"/><circle cx="511.12" cy="637.48" r="1.2" fill="#ff0808"/><circle cx="513.32" cy="637.02" r="1.2" fill="#ff0808"/><circle cx="515.71" cy="637.02" r="1.2" fill="#ff0808"/><circle cx="518.18" cy="637.02" r="1.2" fill="#ff0808"/><circle cx="520.48" cy="635.64" r="1.2" fill="#ff0808"/><circle cx="522.77" cy="633.81" r="1.2" fill="#ff0808"/><circle cx="525.06" cy="631.97" r="1.2" fill="#ff0808"/><circle cx="527.63" cy="629.50" r="1.2" fill="#ff0808"/><circle cx="529.83" cy="628.30" r="1.2" fill="#ff0808"/><circle cx="532.22" cy="628.58" r="1.2" fill="#ff0808"/><circle cx="534.70" cy="629.22" r="1.2" fill="#ff0808"/><text x="272.00" y="485.50" style="font-family:'Liberation Sans';font-size:17px;font-weight:bold">j</text><text x="413.30" y="537.30" font-size="15.2"><tspan font-style="italic">H</tspan><tspan font-size="10.5" dy="4">2</tspan><tspan dy="-4">, Trx-N<tspan font-size="10.5" dy="4">TAIL</tspan><tspan dy="-4">, pH 6.0</tspan></tspan></text><text x="413.30" y="555.90" font-size="15.2"><tspan font-style="italic">λ</tspan> = 3.1 ± 0.2 s<tspan font-size="10" dy="-6.5">−1</tspan></text><line x1="321.40" y1="736.30" x2="321.40" y2="915.90" stroke="#555" stroke-width="1.0"/><line x1="317.10" y1="911.60" x2="558.10" y2="911.60" stroke="#555" stroke-width="1.0"/><line x1="317.10" y1="911.60" x2="321.40" y2="911.60" stroke="#555" stroke-width="1.0"/><text x="310.40" y="916.90" font-size="15.2" text-anchor="end">−1</text><line x1="317.10" y1="886.56" x2="321.40" y2="886.56" stroke="#555" stroke-width="1.0"/><text x="310.40" y="891.86" font-size="15.2" text-anchor="end">0</text><line x1="317.10" y1="861.51" x2="321.40" y2="861.51" stroke="#555" stroke-width="1.0"/><text x="310.40" y="866.81" font-size="15.2" text-anchor="end">1</text><line x1="317.10" y1="836.47" x2="321.40" y2="836.47" stroke="#555" stroke-width="1.0"/><text x="310.40" y="841.77" font-size="15.2" text-anchor="end">2</text><line x1="317.10" y1="811.43" x2="321.40" y2="811.43" stroke="#555" stroke-width="1.0"/><text x="310.40" y="816.73" font-size="15.2" text-anchor="end">3</text><line x1="317.10" y1="786.39" x2="321.40" y2="786.39" stroke="#555" stroke-width="1.0"/><text x="310.40" y="791.69" font-size="15.2" text-anchor="end">4</text><line x1="317.10" y1="761.34" x2="321.40" y2="761.34" stroke="#555" stroke-width="1.0"/><text x="310.40" y="766.64" font-size="15.2" text-anchor="end">5</text><line x1="317.10" y1="736.30" x2="321.40" y2="736.30" stroke="#555" stroke-width="1.0"/><text x="310.40" y="741.60" font-size="15.2" text-anchor="end">6</text><line x1="321.40" y1="911.60" x2="321.40" y2="915.90" stroke="#555" stroke-width="1.0"/><text x="321.40" y="934.60" font-size="15.2" text-anchor="middle">0</text><line x1="368.74" y1="911.60" x2="368.74" y2="915.90" stroke="#555" stroke-width="1.0"/><text x="368.74" y="934.60" font-size="15.2" text-anchor="middle">2</text><line x1="416.08" y1="911.60" x2="416.08" y2="915.90" stroke="#555" stroke-width="1.0"/><text x="416.08" y="934.60" font-size="15.2" text-anchor="middle">4</text><line x1="463.42" y1="911.60" x2="463.42" y2="915.90" stroke="#555" stroke-width="1.0"/><text x="463.42" y="934.60" font-size="15.2" text-anchor="middle">6</text><line x1="510.76" y1="911.60" x2="510.76" y2="915.90" stroke="#555" stroke-width="1.0"/><text x="510.76" y="934.60" font-size="15.2" text-anchor="middle">8</text><line x1="558.10" y1="911.60" x2="558.10" y2="915.90" stroke="#555" stroke-width="1.0"/><text x="558.10" y="934.60" font-size="15.2" text-anchor="middle">10</text><text x="439.75" y="957.00" font-size="15.2" text-anchor="middle">Time (s)</text><text x="0" y="0" font-size="15.2" text-anchor="middle" transform="translate(288.10,823.95) rotate(-90)">Autocorrelation</text><polyline points="326.90,737.10 327.15,741.38 327.40,745.54 327.65,749.58 327.90,753.50 328.15,757.31 328.40,761.01 328.65,764.61 328.90,768.10 329.15,771.49 329.40,774.79 329.65,777.99 329.90,781.10 330.15,784.12 330.40,787.05 330.65,789.90 330.90,792.67 331.15,795.36 331.40,797.97 331.65,800.50 331.90,802.97 332.15,805.36 332.40,807.69 332.65,809.94 332.90,812.14 333.15,814.27 333.40,816.34 333.65,818.35 333.90,820.30 334.15,822.20 334.40,824.04 334.65,825.83 334.90,827.57 335.15,829.26 335.40,830.90 335.65,832.49 335.90,834.04 336.15,835.54 336.40,837.00 336.65,838.42 336.90,839.80 337.15,841.13 337.40,842.43 337.65,843.70 337.90,844.92 338.15,846.11 338.40,847.27 338.65,848.39 338.90,849.49 339.15,850.55 339.40,851.58 339.65,852.58 339.90,853.55 340.15,854.49 340.40,855.41 340.65,856.30 340.90,857.17 341.15,858.01 341.40,858.82 341.65,859.62 341.90,860.39 342.15,861.13 342.40,861.86 342.65,862.57 342.90,863.25 343.15,863.92 343.40,864.57 343.65,865.19 343.90,865.81 344.15,866.40 344.40,866.97 344.65,867.53 344.90,868.08 345.15,868.60 345.40,869.12 345.65,869.62 345.90,870.10 346.15,870.57 346.40,871.03 346.65,871.47 346.90,871.90 347.15,872.32 347.40,872.72 347.65,873.12 347.90,873.50 348.15,873.87 348.40,874.24 348.65,874.59 348.90,874.93 349.15,875.26 349.40,875.58 349.65,875.90 349.90,876.20 350.15,876.49 350.40,876.78 350.65,877.06 350.90,877.33 351.15,877.59 351.40,877.85 351.65,878.10 351.90,878.34 352.15,878.57 352.40,878.80 352.65,879.02 352.90,879.23 353.15,879.44 353.40,879.64 353.65,879.84 353.90,880.03 354.15,880.22 354.40,880.40 354.65,880.57 354.90,880.74 355.15,880.91 355.40,881.07 355.65,881.22 355.90,881.37 356.15,881.52 356.40,881.66 356.65,881.80 356.90,881.94 357.15,882.07 357.40,882.19 357.65,882.32 357.90,882.44 358.15,882.55 358.40,882.67 358.65,882.78 358.90,882.88 359.15,882.99 359.40,883.09 359.65,883.18 359.90,883.28 360.15,883.37 360.40,883.46 360.65,883.55 360.90,883.63 361.15,883.72 361.40,883.80 361.65,883.87 361.90,883.95 362.15,884.02 362.40,884.09 362.65,884.16 362.90,884.23 363.15,884.29 363.40,884.36 363.65,884.42 363.90,884.48 364.15,884.54 364.40,884.59 364.65,884.65 364.90,884.70 365.15,884.75 365.40,884.80 365.65,884.85 365.90,884.90 366.15,884.94 366.40,884.99 366.65,885.03 366.90,885.07 367.15,885.11 367.40,885.15 367.65,885.19 367.90,885.23 368.15,885.27 368.40,885.30 368.65,885.34 368.90,885.37 369.15,885.40 369.40,885.43 369.65,885.46 369.90,885.49 370.15,885.52 370.40,885.55 370.65,885.58 370.90,885.60 371.15,885.63 371.40,885.65 371.65,885.68 371.90,885.70 372.15,885.73 372.40,885.75 372.65,885.77 372.90,885.79 373.15,885.81 373.40,885.83 373.65,885.85 373.90,885.87 374.15,885.89 374.40,885.90 374.65,885.92 374.90,885.94 375.15,885.95 375.40,885.97 375.65,885.98 375.90,886.00 376.15,886.01 376.40,886.03 376.65,886.04 376.90,886.05 377.15,886.07 377.40,886.08 377.65,886.09 377.90,886.10 378.15,886.11 378.40,886.13 378.65,886.14 380.65,886.21 382.65,886.27 384.65,886.32 386.65,886.36 388.65,886.39 390.65,886.41 392.65,886.43 394.65,886.44 396.65,886.46 398.65,886.46 400.65,886.47 402.65,886.48 404.65,886.48 406.65,886.49 408.65,886.49 410.65,886.49 412.65,886.49 414.65,886.49 416.65,886.50 418.65,886.50 420.65,886.50 422.65,886.50 424.65,886.50 426.65,886.50 428.65,886.50 430.65,886.50 432.65,886.50 434.65,886.50 436.65,886.50 438.65,886.50 440.65,886.50 442.65,886.50 444.65,886.50 446.65,886.50 448.65,886.50 450.65,886.50 452.65,886.50 454.65,886.50 456.65,886.50 458.65,886.50 460.65,886.50 462.65,886.50 464.65,886.50 466.65,886.50 468.65,886.50 470.65,886.50 472.65,886.50 474.65,886.50 476.65,886.50 478.65,886.50 480.65,886.50 482.65,886.50 484.65,886.50 486.65,886.50 488.65,886.50 490.65,886.50 492.65,886.50 494.65,886.50 496.65,886.50 498.65,886.50 500.65,886.50 502.65,886.50 504.65,886.50 506.65,886.50 508.65,886.50 510.65,886.50 512.65,886.50 514.65,886.50 516.65,886.50 518.65,886.50 520.65,886.50 522.65,886.50 524.65,886.50 526.65,886.50 528.65,886.50 530.65,886.50 532.65,886.50 534.65,886.50 536.65,886.50 538.65,886.50 540.65,886.50 542.65,886.50 544.65,886.50 546.65,886.50 548.65,886.50 550.65,886.50 552.65,886.50 554.65,886.50 556.65,886.50 558.65,886.50 558.80,886.50" fill="none" stroke="#111" stroke-width="1.5"/><circle cx="328.59" cy="747.89" r="1.2" fill="#0808ff"/><circle cx="330.82" cy="784.83" r="1.2" fill="#0808ff"/><circle cx="333.23" cy="817.99" r="1.2" fill="#0808ff"/><circle cx="335.81" cy="832.42" r="1.2" fill="#0808ff"/><circle cx="338.04" cy="843.76" r="1.2" fill="#0808ff"/><circle cx="340.27" cy="853.21" r="1.2" fill="#0808ff"/><circle cx="342.68" cy="859.91" r="1.2" fill="#0808ff"/><circle cx="345.09" cy="866.10" r="1.2" fill="#0808ff"/><circle cx="347.49" cy="871.94" r="1.2" fill="#0808ff"/><circle cx="350.07" cy="875.89" r="1.2" fill="#0808ff"/><circle cx="352.30" cy="879.33" r="1.2" fill="#0808ff"/><circle cx="354.71" cy="881.91" r="1.2" fill="#0808ff"/><circle cx="356.94" cy="882.42" r="1.2" fill="#0808ff"/><circle cx="359.18" cy="881.39" r="1.2" fill="#0808ff"/><circle cx="361.75" cy="878.99" r="1.2" fill="#0808ff"/><circle cx="364.16" cy="875.89" r="1.2" fill="#0808ff"/><circle cx="366.39" cy="872.46" r="1.2" fill="#0808ff"/><circle cx="368.97" cy="869.88" r="1.2" fill="#0808ff"/><circle cx="371.20" cy="868.16" r="1.2" fill="#0808ff"/><circle cx="373.61" cy="867.65" r="1.2" fill="#0808ff"/><circle cx="375.84" cy="868.68" r="1.2" fill="#0808ff"/><circle cx="378.42" cy="869.88" r="1.2" fill="#0808ff"/><circle cx="380.82" cy="870.40" r="1.2" fill="#0808ff"/><circle cx="383.23" cy="870.74" r="1.2" fill="#0808ff"/><circle cx="385.64" cy="870.05" r="1.2" fill="#0808ff"/><circle cx="387.87" cy="869.02" r="1.2" fill="#0808ff"/><circle cx="390.45" cy="868.16" r="1.2" fill="#0808ff"/><circle cx="393.02" cy="867.82" r="1.2" fill="#0808ff"/><circle cx="395.60" cy="867.82" r="1.2" fill="#0808ff"/><circle cx="398.18" cy="868.68" r="1.2" fill="#0808ff"/><circle cx="400.41" cy="870.74" r="1.2" fill="#0808ff"/><circle cx="402.82" cy="872.80" r="1.2" fill="#0808ff"/><circle cx="405.22" cy="875.03" r="1.2" fill="#0808ff"/><circle cx="407.63" cy="877.27" r="1.2" fill="#0808ff"/><circle cx="410.21" cy="879.33" r="1.2" fill="#0808ff"/><circle cx="412.78" cy="881.05" r="1.2" fill="#0808ff"/><circle cx="415.36" cy="882.25" r="1.2" fill="#0808ff"/><circle cx="417.94" cy="883.45" r="1.2" fill="#0808ff"/><circle cx="419.74" cy="883.91" r="1.2" fill="#0808ff"/><circle cx="422.11" cy="885.21" r="1.2" fill="#0808ff"/><circle cx="424.48" cy="886.58" r="1.2" fill="#0808ff"/><circle cx="426.85" cy="888.03" r="1.2" fill="#0808ff"/><circle cx="429.22" cy="889.51" r="1.2" fill="#0808ff"/><circle cx="431.59" cy="890.32" r="1.2" fill="#0808ff"/><circle cx="433.96" cy="890.21" r="1.2" fill="#0808ff"/><circle cx="436.33" cy="889.02" r="1.2" fill="#0808ff"/><circle cx="438.70" cy="887.23" r="1.2" fill="#0808ff"/><circle cx="441.07" cy="885.50" r="1.2" fill="#0808ff"/><circle cx="443.44" cy="884.82" r="1.2" fill="#0808ff"/><circle cx="445.81" cy="884.54" r="1.2" fill="#0808ff"/><circle cx="448.18" cy="885.04" r="1.2" fill="#0808ff"/><circle cx="450.55" cy="886.94" r="1.2" fill="#0808ff"/><circle cx="452.92" cy="888.50" r="1.2" fill="#0808ff"/><circle cx="455.29" cy="889.78" r="1.2" fill="#0808ff"/><circle cx="457.66" cy="890.05" r="1.2" fill="#0808ff"/><circle cx="460.03" cy="890.22" r="1.2" fill="#0808ff"/><circle cx="462.40" cy="890.10" r="1.2" fill="#0808ff"/><circle cx="464.77" cy="890.00" r="1.2" fill="#0808ff"/><circle cx="467.14" cy="890.00" r="1.2" fill="#0808ff"/><circle cx="469.51" cy="890.38" r="1.2" fill="#0808ff"/><circle cx="471.88" cy="891.57" r="1.2" fill="#0808ff"/><circle cx="474.25" cy="893.33" r="1.2" fill="#0808ff"/><circle cx="476.62" cy="895.31" r="1.2" fill="#0808ff"/><circle cx="478.99" cy="897.28" r="1.2" fill="#0808ff"/><circle cx="481.36" cy="898.51" r="1.2" fill="#0808ff"/><circle cx="483.73" cy="898.86" r="1.2" fill="#0808ff"/><circle cx="486.10" cy="898.31" r="1.2" fill="#0808ff"/><circle cx="488.47" cy="897.06" r="1.2" fill="#0808ff"/><circle cx="490.84" cy="895.48" r="1.2" fill="#0808ff"/><circle cx="493.21" cy="893.90" r="1.2" fill="#0808ff"/><circle cx="495.58" cy="892.61" r="1.2" fill="#0808ff"/><circle cx="497.95" cy="891.59" r="1.2" fill="#0808ff"/><circle cx="500.32" cy="890.78" r="1.2" fill="#0808ff"/><circle cx="502.69" cy="890.07" r="1.2" fill="#0808ff"/><circle cx="505.06" cy="889.18" r="1.2" fill="#0808ff"/><circle cx="507.43" cy="888.16" r="1.2" fill="#0808ff"/><circle cx="509.80" cy="888.12" r="1.2" fill="#0808ff"/><circle cx="512.17" cy="888.85" r="1.2" fill="#0808ff"/><circle cx="514.54" cy="889.77" r="1.2" fill="#0808ff"/><circle cx="516.91" cy="890.96" r="1.2" fill="#0808ff"/><circle cx="519.28" cy="892.14" r="1.2" fill="#0808ff"/><circle cx="521.65" cy="893.26" r="1.2" fill="#0808ff"/><circle cx="524.02" cy="894.03" r="1.2" fill="#0808ff"/><circle cx="526.39" cy="894.73" r="1.2" fill="#0808ff"/><circle cx="528.76" cy="894.37" r="1.2" fill="#0808ff"/><circle cx="531.13" cy="894.02" r="1.2" fill="#0808ff"/><circle cx="533.50" cy="893.25" r="1.2" fill="#0808ff"/><circle cx="535.87" cy="892.05" r="1.2" fill="#0808ff"/><circle cx="538.24" cy="890.25" r="1.2" fill="#0808ff"/><circle cx="540.61" cy="890.25" r="1.2" fill="#0808ff"/><circle cx="542.98" cy="891.40" r="1.2" fill="#0808ff"/><circle cx="545.35" cy="893.08" r="1.2" fill="#0808ff"/><circle cx="547.72" cy="895.29" r="1.2" fill="#0808ff"/><circle cx="550.09" cy="897.14" r="1.2" fill="#0808ff"/><circle cx="552.46" cy="898.72" r="1.2" fill="#0808ff"/><circle cx="554.83" cy="899.37" r="1.2" fill="#0808ff"/><circle cx="557.20" cy="899.46" r="1.2" fill="#0808ff"/><text x="273.50" y="736.20" style="font-family:'Liberation Sans';font-size:17px;font-weight:bold">k</text><text x="413.30" y="786.50" font-size="15.2"><tspan font-style="italic">R</tspan><tspan font-size="10.5" dy="4">2D</tspan><tspan dy="-4">, PNT-GFP</tspan></text><text x="413.30" y="804.50" font-size="15.2"><tspan font-style="italic">λ</tspan> = 2.5 ± 0.1 s<tspan font-size="10" dy="-6.5">−1</tspan></text><line x1="636.50" y1="736.30" x2="636.50" y2="915.90" stroke="#555" stroke-width="1.0"/><line x1="632.20" y1="911.60" x2="873.10" y2="911.60" stroke="#555" stroke-width="1.0"/><line x1="632.20" y1="911.60" x2="636.50" y2="911.60" stroke="#555" stroke-width="1.0"/><text x="625.50" y="916.90" font-size="15.2" text-anchor="end">−1</text><line x1="632.20" y1="886.56" x2="636.50" y2="886.56" stroke="#555" stroke-width="1.0"/><text x="625.50" y="891.86" font-size="15.2" text-anchor="end">0</text><line x1="632.20" y1="861.51" x2="636.50" y2="861.51" stroke="#555" stroke-width="1.0"/><text x="625.50" y="866.81" font-size="15.2" text-anchor="end">1</text><line x1="632.20" y1="836.47" x2="636.50" y2="836.47" stroke="#555" stroke-width="1.0"/><text x="625.50" y="841.77" font-size="15.2" text-anchor="end">2</text><line x1="632.20" y1="811.43" x2="636.50" y2="811.43" stroke="#555" stroke-width="1.0"/><text x="625.50" y="816.73" font-size="15.2" text-anchor="end">3</text><line x1="632.20" y1="786.39" x2="636.50" y2="786.39" stroke="#555" stroke-width="1.0"/><text x="625.50" y="791.69" font-size="15.2" text-anchor="end">4</text><line x1="632.20" y1="761.34" x2="636.50" y2="761.34" stroke="#555" stroke-width="1.0"/><text x="625.50" y="766.64" font-size="15.2" text-anchor="end">5</text><line x1="632.20" y1="736.30" x2="636.50" y2="736.30" stroke="#555" stroke-width="1.0"/><text x="625.50" y="741.60" font-size="15.2" text-anchor="end">6</text><line x1="636.50" y1="911.60" x2="636.50" y2="915.90" stroke="#555" stroke-width="1.0"/><text x="636.50" y="934.60" font-size="15.2" text-anchor="middle">0</text><line x1="683.82" y1="911.60" x2="683.82" y2="915.90" stroke="#555" stroke-width="1.0"/><text x="683.82" y="934.60" font-size="15.2" text-anchor="middle">2</text><line x1="731.14" y1="911.60" x2="731.14" y2="915.90" stroke="#555" stroke-width="1.0"/><text x="731.14" y="934.60" font-size="15.2" text-anchor="middle">4</text><line x1="778.46" y1="911.60" x2="778.46" y2="915.90" stroke="#555" stroke-width="1.0"/><text x="778.46" y="934.60" font-size="15.2" text-anchor="middle">6</text><line x1="825.78" y1="911.60" x2="825.78" y2="915.90" stroke="#555" stroke-width="1.0"/><text x="825.78" y="934.60" font-size="15.2" text-anchor="middle">8</text><line x1="873.10" y1="911.60" x2="873.10" y2="915.90" stroke="#555" stroke-width="1.0"/><text x="873.10" y="934.60" font-size="15.2" text-anchor="middle">10</text><text x="754.80" y="957.00" font-size="15.2" text-anchor="middle">Time (s)</text><text x="0" y="0" font-size="15.2" text-anchor="middle" transform="translate(601.70,823.95) rotate(-90)">Autocorrelation</text><polyline points="638.80,771.60 639.05,773.63 639.30,775.62 639.55,777.58 639.80,779.51 640.05,781.40 640.30,783.25 640.55,785.08 640.80,786.87 641.05,788.63 641.30,790.36 641.55,792.06 641.80,793.72 642.05,795.36 642.30,796.97 642.55,798.55 642.80,800.11 643.05,801.63 643.30,803.13 643.55,804.60 643.80,806.05 644.05,807.47 644.30,808.86 644.55,810.23 644.80,811.58 645.05,812.90 645.30,814.20 645.55,815.48 645.80,816.73 646.05,817.96 646.30,819.17 646.55,820.36 646.80,821.53 647.05,822.67 647.30,823.80 647.55,824.91 647.80,825.99 648.05,827.06 648.30,828.11 648.55,829.14 648.80,830.15 649.05,831.14 649.30,832.12 649.55,833.08 649.80,834.02 650.05,834.95 650.30,835.85 650.55,836.75 650.80,837.62 651.05,838.49 651.30,839.33 651.55,840.16 651.80,840.98 652.05,841.78 652.30,842.57 652.55,843.34 652.80,844.10 653.05,844.85 653.30,845.58 653.55,846.31 653.80,847.01 654.05,847.71 654.30,848.39 654.55,849.06 654.80,849.72 655.05,850.37 655.30,851.00 655.55,851.63 655.80,852.24 656.05,852.85 656.30,853.44 656.55,854.02 656.80,854.59 657.05,855.15 657.30,855.70 657.55,856.24 657.80,856.78 658.05,857.30 658.30,857.81 658.55,858.32 658.80,858.81 659.05,859.30 659.30,859.78 659.55,860.25 659.80,860.71 660.05,861.16 660.30,861.60 660.55,862.04 660.80,862.47 661.05,862.89 661.30,863.31 661.55,863.71 661.80,864.11 662.05,864.51 662.30,864.89 662.55,865.27 662.80,865.64 663.05,866.01 663.30,866.37 663.55,866.72 663.80,867.07 664.05,867.41 664.30,867.74 664.55,868.07 664.80,868.39 665.05,868.71 665.30,869.02 665.55,869.33 665.80,869.63 666.05,869.92 666.30,870.21 666.55,870.50 666.80,870.78 667.05,871.05 667.30,871.32 667.55,871.59 667.80,871.85 668.05,872.10 668.30,872.35 668.55,872.60 668.80,872.84 669.05,873.08 669.30,873.32 669.55,873.55 669.80,873.77 670.05,873.99 670.30,874.21 670.55,874.42 670.80,874.63 671.05,874.84 671.30,875.04 671.55,875.24 671.80,875.44 672.05,875.63 672.30,875.82 672.55,876.01 672.80,876.19 673.05,876.37 673.30,876.54 673.55,876.72 673.80,876.88 674.05,877.05 674.30,877.22 674.55,877.38 674.80,877.53 675.05,877.69 675.30,877.84 675.55,877.99 675.80,878.14 676.05,878.28 676.30,878.42 676.55,878.56 676.80,878.70 677.05,878.84 677.30,878.97 677.55,879.10 677.80,879.22 678.05,879.35 678.30,879.47 678.55,879.59 678.80,879.71 679.05,879.83 679.30,879.94 679.55,880.06 679.80,880.17 680.05,880.28 680.30,880.38 680.55,880.49 680.80,880.59 681.05,880.69 681.30,880.79 681.55,880.89 681.80,880.98 682.05,881.08 682.30,881.17 682.55,881.26 682.80,881.35 683.05,881.44 683.30,881.52 683.55,881.61 683.80,881.69 684.05,881.77 684.30,881.85 684.55,881.93 684.80,882.01 685.05,882.08 685.30,882.16 685.55,882.23 685.80,882.30 686.05,882.38 686.30,882.44 686.55,882.51 686.80,882.58 687.05,882.65 687.30,882.71 687.55,882.77 687.80,882.84 688.05,882.90 688.30,882.96 688.55,883.02 688.80,883.08 689.05,883.13 689.30,883.19 689.55,883.24 689.80,883.30 690.05,883.35 690.30,883.40 690.55,883.45 690.80,883.50 691.05,883.55 691.30,883.60 691.55,883.65 691.80,883.70 692.05,883.74 692.30,883.79 692.55,883.83 692.80,883.88 693.05,883.92 693.30,883.96 693.55,884.00 693.80,884.04 694.05,884.08 694.30,884.12 694.55,884.16 694.80,884.20 695.05,884.24 695.30,884.27 695.55,884.31 695.80,884.34 696.05,884.38 696.30,884.41 696.55,884.45 696.80,884.48 697.05,884.51 697.30,884.54 697.55,884.57 697.80,884.60 698.05,884.63 698.30,884.66 698.55,884.69 698.80,884.72 699.05,884.75 699.30,884.78 699.55,884.80 699.80,884.83 700.05,884.86 700.30,884.88 700.55,884.91 700.80,884.93 701.05,884.96 701.30,884.98 701.55,885.00 701.80,885.03 702.05,885.05 702.30,885.07 702.55,885.09 702.80,885.11 703.05,885.13 703.30,885.16 703.55,885.18 703.80,885.20 704.05,885.21 704.30,885.23 704.55,885.25 704.80,885.27 705.05,885.29 705.30,885.31 705.55,885.33 705.80,885.34 706.05,885.36 706.30,885.38 706.55,885.39 706.80,885.41 707.05,885.42 707.30,885.44 707.55,885.45 707.80,885.47 708.05,885.48 708.30,885.50 708.55,885.51 708.80,885.53 709.05,885.54 709.30,885.55 709.55,885.57 709.80,885.58 710.05,885.59 710.30,885.61 710.55,885.62 710.80,885.63 711.05,885.64 711.30,885.65 711.55,885.66 711.80,885.68 712.05,885.69 712.30,885.70 712.55,885.71 712.80,885.72 713.05,885.73 713.30,885.74 713.55,885.75 713.80,885.76 714.05,885.77 714.30,885.78 714.55,885.79 714.80,885.80 715.05,885.81 715.30,885.81 715.55,885.82 715.80,885.83 716.05,885.84 716.30,885.85 716.55,885.86 716.80,885.86 717.05,885.87 717.30,885.88 717.55,885.89 717.80,885.89 718.05,885.90 718.30,885.91 718.55,885.91 718.80,885.92 719.05,885.93 719.30,885.93 719.55,885.94 719.80,885.95 720.05,885.95 720.30,885.96 720.55,885.97 720.80,885.97 721.05,885.98 721.30,885.98 721.55,885.99 721.80,885.99 722.05,886.00 722.30,886.01 722.55,886.01 722.80,886.02 724.80,886.05 726.80,886.09 728.80,886.11 730.80,886.14 732.80,886.16 734.80,886.18 736.80,886.20 738.80,886.21 740.80,886.22 742.80,886.23 744.80,886.24 746.80,886.25 748.80,886.26 750.80,886.26 752.80,886.27 754.80,886.27 756.80,886.27 758.80,886.28 760.80,886.28 762.80,886.28 764.80,886.29 766.80,886.29 768.80,886.29 770.80,886.29 772.80,886.29 774.80,886.29 776.80,886.29 778.80,886.29 780.80,886.30 782.80,886.30 784.80,886.30 786.80,886.30 788.80,886.30 790.80,886.30 792.80,886.30 794.80,886.30 796.80,886.30 798.80,886.30 800.80,886.30 802.80,886.30 804.80,886.30 806.80,886.30 808.80,886.30 810.80,886.30 812.80,886.30 814.80,886.30 816.80,886.30 818.80,886.30 820.80,886.30 822.80,886.30 824.80,886.30 826.80,886.30 828.80,886.30 830.80,886.30 832.80,886.30 834.80,886.30 836.80,886.30 838.80,886.30 840.80,886.30 842.80,886.30 844.80,886.30 846.80,886.30 848.80,886.30 850.80,886.30 852.80,886.30 854.80,886.30 856.80,886.30 858.80,886.30 860.80,886.30 862.80,886.30 864.80,886.30 866.80,886.30 868.80,886.30 870.80,886.30 872.80,886.30 873.70,886.30" fill="none" stroke="#111" stroke-width="1.5"/><circle cx="638.77" cy="771.29" r="1.2" fill="#ff0808"/><circle cx="641.03" cy="784.86" r="1.2" fill="#ff0808"/><circle cx="643.60" cy="799.04" r="1.2" fill="#ff0808"/><circle cx="645.86" cy="814.13" r="1.2" fill="#ff0808"/><circle cx="648.27" cy="828.91" r="1.2" fill="#ff0808"/><circle cx="650.69" cy="843.69" r="1.2" fill="#ff0808"/><circle cx="652.80" cy="856.81" r="1.2" fill="#ff0808"/><circle cx="654.91" cy="859.83" r="1.2" fill="#ff0808"/><circle cx="656.87" cy="862.09" r="1.2" fill="#ff0808"/><circle cx="659.13" cy="864.35" r="1.2" fill="#ff0808"/><circle cx="661.40" cy="866.31" r="1.2" fill="#ff0808"/><circle cx="663.66" cy="867.82" r="1.2" fill="#ff0808"/><circle cx="665.92" cy="869.33" r="1.2" fill="#ff0808"/><circle cx="668.18" cy="870.38" r="1.2" fill="#ff0808"/><circle cx="670.44" cy="871.89" r="1.2" fill="#ff0808"/><circle cx="672.71" cy="873.40" r="1.2" fill="#ff0808"/><circle cx="674.97" cy="874.46" r="1.2" fill="#ff0808"/><circle cx="677.23" cy="875.66" r="1.2" fill="#ff0808"/><circle cx="679.49" cy="876.12" r="1.2" fill="#ff0808"/><circle cx="681.76" cy="876.12" r="1.2" fill="#ff0808"/><circle cx="684.02" cy="876.42" r="1.2" fill="#ff0808"/><circle cx="686.28" cy="876.12" r="1.2" fill="#ff0808"/><circle cx="688.54" cy="876.87" r="1.2" fill="#ff0808"/><circle cx="690.81" cy="877.93" r="1.2" fill="#ff0808"/><circle cx="693.07" cy="878.68" r="1.2" fill="#ff0808"/><circle cx="695.33" cy="879.89" r="1.2" fill="#ff0808"/><circle cx="697.59" cy="881.70" r="1.2" fill="#ff0808"/><circle cx="699.86" cy="883.21" r="1.2" fill="#ff0808"/><circle cx="702.12" cy="884.41" r="1.2" fill="#ff0808"/><circle cx="704.38" cy="885.02" r="1.2" fill="#ff0808"/><circle cx="706.64" cy="884.71" r="1.2" fill="#ff0808"/><circle cx="708.91" cy="884.11" r="1.2" fill="#ff0808"/><circle cx="711.17" cy="883.21" r="1.2" fill="#ff0808"/><circle cx="713.43" cy="882.45" r="1.2" fill="#ff0808"/><circle cx="715.69" cy="881.70" r="1.2" fill="#ff0808"/><circle cx="717.96" cy="881.24" r="1.2" fill="#ff0808"/><circle cx="720.22" cy="881.09" r="1.2" fill="#ff0808"/><circle cx="722.48" cy="881.40" r="1.2" fill="#ff0808"/><circle cx="724.74" cy="882.00" r="1.2" fill="#ff0808"/><circle cx="727.01" cy="882.45" r="1.2" fill="#ff0808"/><circle cx="729.27" cy="882.90" r="1.2" fill="#ff0808"/><circle cx="731.53" cy="882.90" r="1.2" fill="#ff0808"/><circle cx="733.79" cy="882.60" r="1.2" fill="#ff0808"/><circle cx="736.90" cy="883.03" r="1.2" fill="#ff0808"/><circle cx="739.20" cy="883.38" r="1.2" fill="#ff0808"/><circle cx="741.50" cy="884.14" r="1.2" fill="#ff0808"/><circle cx="743.80" cy="885.11" r="1.2" fill="#ff0808"/><circle cx="746.10" cy="886.45" r="1.2" fill="#ff0808"/><circle cx="748.40" cy="888.17" r="1.2" fill="#ff0808"/><circle cx="750.70" cy="889.72" r="1.2" fill="#ff0808"/><circle cx="753.00" cy="890.87" r="1.2" fill="#ff0808"/><circle cx="755.30" cy="891.90" r="1.2" fill="#ff0808"/><circle cx="757.60" cy="892.13" r="1.2" fill="#ff0808"/><circle cx="759.90" cy="891.75" r="1.2" fill="#ff0808"/><circle cx="762.20" cy="890.76" r="1.2" fill="#ff0808"/><circle cx="764.50" cy="888.96" r="1.2" fill="#ff0808"/><circle cx="766.80" cy="887.04" r="1.2" fill="#ff0808"/><circle cx="769.10" cy="885.13" r="1.2" fill="#ff0808"/><circle cx="771.40" cy="883.86" r="1.2" fill="#ff0808"/><circle cx="773.70" cy="883.00" r="1.2" fill="#ff0808"/><circle cx="776.00" cy="882.89" r="1.2" fill="#ff0808"/><circle cx="778.30" cy="883.09" r="1.2" fill="#ff0808"/><circle cx="780.60" cy="883.74" r="1.2" fill="#ff0808"/><circle cx="782.90" cy="884.51" r="1.2" fill="#ff0808"/><circle cx="785.20" cy="885.27" r="1.2" fill="#ff0808"/><circle cx="787.50" cy="885.75" r="1.2" fill="#ff0808"/><circle cx="789.80" cy="885.98" r="1.2" fill="#ff0808"/><circle cx="792.10" cy="885.09" r="1.2" fill="#ff0808"/><circle cx="794.40" cy="884.06" r="1.2" fill="#ff0808"/><circle cx="796.70" cy="882.94" r="1.2" fill="#ff0808"/><circle cx="799.00" cy="881.93" r="1.2" fill="#ff0808"/><circle cx="801.30" cy="881.07" r="1.2" fill="#ff0808"/><circle cx="803.60" cy="880.62" r="1.2" fill="#ff0808"/><circle cx="805.90" cy="880.62" r="1.2" fill="#ff0808"/><circle cx="808.20" cy="881.47" r="1.2" fill="#ff0808"/><circle cx="810.50" cy="882.46" r="1.2" fill="#ff0808"/><circle cx="812.80" cy="883.44" r="1.2" fill="#ff0808"/><circle cx="815.10" cy="884.41" r="1.2" fill="#ff0808"/><circle cx="817.40" cy="885.15" r="1.2" fill="#ff0808"/><circle cx="819.70" cy="885.90" r="1.2" fill="#ff0808"/><circle cx="822.00" cy="886.35" r="1.2" fill="#ff0808"/><circle cx="824.30" cy="886.75" r="1.2" fill="#ff0808"/><circle cx="826.60" cy="887.39" r="1.2" fill="#ff0808"/><circle cx="828.90" cy="888.14" r="1.2" fill="#ff0808"/><circle cx="831.20" cy="889.01" r="1.2" fill="#ff0808"/><circle cx="833.50" cy="889.99" r="1.2" fill="#ff0808"/><circle cx="835.80" cy="891.02" r="1.2" fill="#ff0808"/><circle cx="838.10" cy="892.17" r="1.2" fill="#ff0808"/><circle cx="840.40" cy="892.77" r="1.2" fill="#ff0808"/><circle cx="842.70" cy="893.08" r="1.2" fill="#ff0808"/><circle cx="845.00" cy="892.54" r="1.2" fill="#ff0808"/><circle cx="847.30" cy="891.80" r="1.2" fill="#ff0808"/><circle cx="849.60" cy="890.80" r="1.2" fill="#ff0808"/><circle cx="851.90" cy="889.55" r="1.2" fill="#ff0808"/><circle cx="854.20" cy="888.31" r="1.2" fill="#ff0808"/><circle cx="856.50" cy="887.31" r="1.2" fill="#ff0808"/><circle cx="858.80" cy="886.66" r="1.2" fill="#ff0808"/><circle cx="861.10" cy="886.28" r="1.2" fill="#ff0808"/><circle cx="863.40" cy="886.61" r="1.2" fill="#ff0808"/><circle cx="865.70" cy="887.18" r="1.2" fill="#ff0808"/><circle cx="868.00" cy="888.17" r="1.2" fill="#ff0808"/><circle cx="870.30" cy="889.38" r="1.2" fill="#ff0808"/><circle cx="872.60" cy="890.66" r="1.2" fill="#ff0808"/><circle cx="874.90" cy="891.58" r="1.2" fill="#ff0808"/><text x="587.30" y="736.20" style="font-family:'Liberation Sans';font-size:17px;font-weight:bold">l</text><text x="728.30" y="786.50" font-size="15.2"><tspan font-style="italic">H</tspan><tspan font-size="10.5" dy="4">2</tspan><tspan dy="-4">, Sic1-GFP</tspan></text><text x="728.30" y="804.50" font-size="15.2"><tspan font-style="italic">λ</tspan> = 1.7 ± 0.1 s<tspan font-size="10" dy="-6.5">−1</tspan></text><line x1="948.50" y1="736.30" x2="948.50" y2="915.90" stroke="#555" stroke-width="1.0"/><line x1="944.20" y1="911.60" x2="1184.50" y2="911.60" stroke="#555" stroke-width="1.0"/><line x1="944.20" y1="911.60" x2="948.50" y2="911.60" stroke="#555" stroke-width="1.0"/><text x="937.50" y="916.90" font-size="15.2" text-anchor="end">−1</text><line x1="944.20" y1="886.56" x2="948.50" y2="886.56" stroke="#555" stroke-width="1.0"/><text x="937.50" y="891.86" font-size="15.2" text-anchor="end">0</text><line x1="944.20" y1="861.51" x2="948.50" y2="861.51" stroke="#555" stroke-width="1.0"/><text x="937.50" y="866.81" font-size="15.2" text-anchor="end">1</text><line x1="944.20" y1="836.47" x2="948.50" y2="836.47" stroke="#555" stroke-width="1.0"/><text x="937.50" y="841.77" font-size="15.2" text-anchor="end">2</text><line x1="944.20" y1="811.43" x2="948.50" y2="811.43" stroke="#555" stroke-width="1.0"/><text x="937.50" y="816.73" font-size="15.2" text-anchor="end">3</text><line x1="944.20" y1="786.39" x2="948.50" y2="786.39" stroke="#555" stroke-width="1.0"/><text x="937.50" y="791.69" font-size="15.2" text-anchor="end">4</text><line x1="944.20" y1="761.34" x2="948.50" y2="761.34" stroke="#555" stroke-width="1.0"/><text x="937.50" y="766.64" font-size="15.2" text-anchor="end">5</text><line x1="944.20" y1="736.30" x2="948.50" y2="736.30" stroke="#555" stroke-width="1.0"/><text x="937.50" y="741.60" font-size="15.2" text-anchor="end">6</text><line x1="948.50" y1="911.60" x2="948.50" y2="915.90" stroke="#555" stroke-width="1.0"/><text x="948.50" y="934.60" font-size="15.2" text-anchor="middle">0</text><line x1="995.70" y1="911.60" x2="995.70" y2="915.90" stroke="#555" stroke-width="1.0"/><text x="995.70" y="934.60" font-size="15.2" text-anchor="middle">2</text><line x1="1042.90" y1="911.60" x2="1042.90" y2="915.90" stroke="#555" stroke-width="1.0"/><text x="1042.90" y="934.60" font-size="15.2" text-anchor="middle">4</text><line x1="1090.10" y1="911.60" x2="1090.10" y2="915.90" stroke="#555" stroke-width="1.0"/><text x="1090.10" y="934.60" font-size="15.2" text-anchor="middle">6</text><line x1="1137.30" y1="911.60" x2="1137.30" y2="915.90" stroke="#555" stroke-width="1.0"/><text x="1137.30" y="934.60" font-size="15.2" text-anchor="middle">8</text><line x1="1184.50" y1="911.60" x2="1184.50" y2="915.90" stroke="#555" stroke-width="1.0"/><text x="1184.50" y="934.60" font-size="15.2" text-anchor="middle">10</text><text x="1066.50" y="957.00" font-size="15.2" text-anchor="middle">Time (s)</text><text x="0" y="0" font-size="15.2" text-anchor="middle" transform="translate(912.90,823.95) rotate(-90)">Autocorrelation</text><polyline points="950.20,775.40 950.45,777.58 950.70,779.71 950.95,781.81 951.20,783.86 951.45,785.87 951.70,787.85 951.95,789.78 952.20,791.68 952.45,793.54 952.70,795.36 952.95,797.15 953.20,798.90 953.45,800.61 953.70,802.30 953.95,803.95 954.20,805.57 954.45,807.15 954.70,808.71 954.95,810.23 955.20,811.73 955.45,813.19 955.70,814.63 955.95,816.03 956.20,817.42 956.45,818.77 956.70,820.10 956.95,821.40 957.20,822.67 957.45,823.92 957.70,825.15 957.95,826.35 958.20,827.53 958.45,828.68 958.70,829.81 958.95,830.92 959.20,832.01 959.45,833.08 959.70,834.12 959.95,835.15 960.20,836.15 960.45,837.14 960.70,838.10 960.95,839.05 961.20,839.98 961.45,840.89 961.70,841.78 961.95,842.65 962.20,843.51 962.45,844.35 962.70,845.18 962.95,845.98 963.20,846.78 963.45,847.55 963.70,848.31 963.95,849.06 964.20,849.79 964.45,850.51 964.70,851.21 964.95,851.90 965.20,852.58 965.45,853.24 965.70,853.89 965.95,854.53 966.20,855.15 966.45,855.76 966.70,856.36 966.95,856.95 967.20,857.53 967.45,858.09 967.70,858.65 967.95,859.19 968.20,859.72 968.45,860.24 968.70,860.76 968.95,861.26 969.20,861.75 969.45,862.23 969.70,862.71 969.95,863.17 970.20,863.62 970.45,864.07 970.70,864.51 970.95,864.93 971.20,865.35 971.45,865.77 971.70,866.17 971.95,866.56 972.20,866.95 972.45,867.33 972.70,867.70 972.95,868.07 973.20,868.43 973.45,868.78 973.70,869.12 973.95,869.46 974.20,869.79 974.45,870.12 974.70,870.43 974.95,870.75 975.20,871.05 975.45,871.35 975.70,871.64 975.95,871.93 976.20,872.21 976.45,872.49 976.70,872.76 976.95,873.03 977.20,873.29 977.45,873.54 977.70,873.80 977.95,874.04 978.20,874.28 978.45,874.52 978.70,874.75 978.95,874.98 979.20,875.20 979.45,875.42 979.70,875.63 979.95,875.84 980.20,876.05 980.45,876.25 980.70,876.44 980.95,876.64 981.20,876.83 981.45,877.01 981.70,877.20 981.95,877.38 982.20,877.55 982.45,877.72 982.70,877.89 982.95,878.06 983.20,878.22 983.45,878.38 983.70,878.53 983.95,878.69 984.20,878.84 984.45,878.98 984.70,879.13 984.95,879.27 985.20,879.40 985.45,879.54 985.70,879.67 985.95,879.80 986.20,879.93 986.45,880.06 986.70,880.18 986.95,880.30 987.20,880.42 987.45,880.53 987.70,880.65 987.95,880.76 988.20,880.87 988.45,880.97 988.70,881.08 988.95,881.18 989.20,881.28 989.45,881.38 989.70,881.48 989.95,881.57 990.20,881.66 990.45,881.75 990.70,881.84 990.95,881.93 991.20,882.02 991.45,882.10 991.70,882.18 991.95,882.26 992.20,882.34 992.45,882.42 992.70,882.50 992.95,882.57 993.20,882.65 993.45,882.72 993.70,882.79 993.95,882.86 994.20,882.92 994.45,882.99 994.70,883.06 994.95,883.12 995.20,883.18 995.45,883.24 995.70,883.30 995.95,883.36 996.20,883.42 996.45,883.48 996.70,883.53 996.95,883.59 997.20,883.64 997.45,883.69 997.70,883.74 997.95,883.79 998.20,883.84 998.45,883.89 998.70,883.94 998.95,883.98 999.20,884.03 999.45,884.07 999.70,884.12 999.95,884.16 1000.20,884.20 1000.45,884.24 1000.70,884.28 1000.95,884.32 1001.20,884.36 1001.45,884.40 1001.70,884.44 1001.95,884.48 1002.20,884.51 1002.45,884.55 1002.70,884.58 1002.95,884.61 1003.20,884.65 1003.45,884.68 1003.70,884.71 1003.95,884.74 1004.20,884.77 1004.45,884.80 1004.70,884.83 1004.95,884.86 1005.20,884.89 1005.45,884.92 1005.70,884.94 1005.95,884.97 1006.20,885.00 1006.45,885.02 1006.70,885.05 1006.95,885.07 1007.20,885.10 1007.45,885.12 1007.70,885.14 1007.95,885.17 1008.20,885.19 1008.45,885.21 1008.70,885.23 1008.95,885.25 1009.20,885.27 1009.45,885.29 1009.70,885.31 1009.95,885.33 1010.20,885.35 1010.45,885.37 1010.70,885.39 1010.95,885.41 1011.20,885.42 1011.45,885.44 1011.70,885.46 1011.95,885.47 1012.20,885.49 1012.45,885.51 1012.70,885.52 1012.95,885.54 1013.20,885.55 1013.45,885.57 1013.70,885.58 1013.95,885.60 1014.20,885.61 1014.45,885.62 1014.70,885.64 1014.95,885.65 1015.20,885.66 1015.45,885.67 1015.70,885.69 1015.95,885.70 1016.20,885.71 1016.45,885.72 1016.70,885.73 1016.95,885.75 1017.20,885.76 1017.45,885.77 1017.70,885.78 1017.95,885.79 1018.20,885.80 1018.45,885.81 1018.70,885.82 1018.95,885.83 1019.20,885.84 1019.45,885.84 1019.70,885.85 1019.95,885.86 1020.20,885.87 1020.45,885.88 1020.70,885.89 1020.95,885.90 1021.20,885.90 1021.45,885.91 1021.70,885.92 1021.95,885.93 1022.20,885.93 1022.45,885.94 1022.70,885.95 1022.95,885.96 1023.20,885.96 1023.45,885.97 1023.70,885.98 1023.95,885.98 1024.20,885.99 1024.45,885.99 1024.70,886.00 1024.95,886.01 1025.20,886.01 1025.45,886.02 1025.70,886.02 1025.95,886.03 1027.95,886.07 1029.95,886.10 1031.95,886.13 1033.95,886.16 1035.95,886.18 1037.95,886.20 1039.95,886.21 1041.95,886.22 1043.95,886.23 1045.95,886.24 1047.95,886.25 1049.95,886.26 1051.95,886.27 1053.95,886.27 1055.95,886.27 1057.95,886.28 1059.95,886.28 1061.95,886.28 1063.95,886.29 1065.95,886.29 1067.95,886.29 1069.95,886.29 1071.95,886.29 1073.95,886.29 1075.95,886.29 1077.95,886.30 1079.95,886.30 1081.95,886.30 1083.95,886.30 1085.95,886.30 1087.95,886.30 1089.95,886.30 1091.95,886.30 1093.95,886.30 1095.95,886.30 1097.95,886.30 1099.95,886.30 1101.95,886.30 1103.95,886.30 1105.95,886.30 1107.95,886.30 1109.95,886.30 1111.95,886.30 1113.95,886.30 1115.95,886.30 1117.95,886.30 1119.95,886.30 1121.95,886.30 1123.95,886.30 1125.95,886.30 1127.95,886.30 1129.95,886.30 1131.95,886.30 1133.95,886.30 1135.95,886.30 1137.95,886.30 1139.95,886.30 1141.95,886.30 1143.95,886.30 1145.95,886.30 1147.95,886.30 1149.95,886.30 1151.95,886.30 1153.95,886.30 1155.95,886.30 1157.95,886.30 1159.95,886.30 1161.95,886.30 1163.95,886.30 1165.95,886.30 1167.95,886.30 1169.95,886.30 1171.95,886.30 1173.95,886.30 1175.95,886.30 1177.95,886.30 1179.95,886.30 1181.95,886.30 1183.95,886.30 1185.00,886.30" fill="none" stroke="#111" stroke-width="1.5"/><circle cx="950.52" cy="769.33" r="1.2" fill="#0808ff"/><circle cx="952.79" cy="787.88" r="1.2" fill="#0808ff"/><circle cx="955.35" cy="809.00" r="1.2" fill="#0808ff"/><circle cx="957.61" cy="829.66" r="1.2" fill="#0808ff"/><circle cx="959.88" cy="848.51" r="1.2" fill="#0808ff"/><circle cx="962.29" cy="855.00" r="1.2" fill="#0808ff"/><circle cx="964.40" cy="858.77" r="1.2" fill="#0808ff"/><circle cx="966.66" cy="861.33" r="1.2" fill="#0808ff"/><circle cx="968.93" cy="863.30" r="1.2" fill="#0808ff"/><circle cx="971.19" cy="864.80" r="1.2" fill="#0808ff"/><circle cx="973.45" cy="866.31" r="1.2" fill="#0808ff"/><circle cx="975.71" cy="867.37" r="1.2" fill="#0808ff"/><circle cx="977.98" cy="868.88" r="1.2" fill="#0808ff"/><circle cx="980.24" cy="870.08" r="1.2" fill="#0808ff"/><circle cx="982.50" cy="871.44" r="1.2" fill="#0808ff"/><circle cx="984.76" cy="871.89" r="1.2" fill="#0808ff"/><circle cx="987.03" cy="872.35" r="1.2" fill="#0808ff"/><circle cx="989.29" cy="872.35" r="1.2" fill="#0808ff"/><circle cx="991.55" cy="872.65" r="1.2" fill="#0808ff"/><circle cx="993.81" cy="874.16" r="1.2" fill="#0808ff"/><circle cx="996.08" cy="875.66" r="1.2" fill="#0808ff"/><circle cx="998.34" cy="877.17" r="1.2" fill="#0808ff"/><circle cx="1000.60" cy="877.93" r="1.2" fill="#0808ff"/><circle cx="1002.86" cy="878.68" r="1.2" fill="#0808ff"/><circle cx="1005.13" cy="878.98" r="1.2" fill="#0808ff"/><circle cx="1007.39" cy="878.68" r="1.2" fill="#0808ff"/><circle cx="1009.65" cy="878.98" r="1.2" fill="#0808ff"/><circle cx="1011.91" cy="880.94" r="1.2" fill="#0808ff"/><circle cx="1014.17" cy="882.90" r="1.2" fill="#0808ff"/><circle cx="1016.44" cy="883.96" r="1.2" fill="#0808ff"/><circle cx="1018.70" cy="885.02" r="1.2" fill="#0808ff"/><circle cx="1020.96" cy="885.02" r="1.2" fill="#0808ff"/><circle cx="1023.22" cy="884.41" r="1.2" fill="#0808ff"/><circle cx="1025.49" cy="883.96" r="1.2" fill="#0808ff"/><circle cx="1027.75" cy="883.96" r="1.2" fill="#0808ff"/><circle cx="1030.01" cy="883.96" r="1.2" fill="#0808ff"/><circle cx="1032.27" cy="884.71" r="1.2" fill="#0808ff"/><circle cx="1034.54" cy="885.92" r="1.2" fill="#0808ff"/><circle cx="1036.80" cy="886.98" r="1.2" fill="#0808ff"/><circle cx="1039.06" cy="888.03" r="1.2" fill="#0808ff"/><circle cx="1041.32" cy="888.94" r="1.2" fill="#0808ff"/><circle cx="1043.59" cy="889.24" r="1.2" fill="#0808ff"/><circle cx="1045.55" cy="889.24" r="1.2" fill="#0808ff"/><circle cx="1049.20" cy="888.85" r="1.2" fill="#0808ff"/><circle cx="1051.50" cy="888.08" r="1.2" fill="#0808ff"/><circle cx="1053.80" cy="887.52" r="1.2" fill="#0808ff"/><circle cx="1056.10" cy="887.12" r="1.2" fill="#0808ff"/><circle cx="1058.40" cy="886.99" r="1.2" fill="#0808ff"/><circle cx="1060.70" cy="887.27" r="1.2" fill="#0808ff"/><circle cx="1063.00" cy="887.40" r="1.2" fill="#0808ff"/><circle cx="1065.30" cy="886.94" r="1.2" fill="#0808ff"/><circle cx="1067.60" cy="886.51" r="1.2" fill="#0808ff"/><circle cx="1069.90" cy="886.68" r="1.2" fill="#0808ff"/><circle cx="1072.20" cy="886.85" r="1.2" fill="#0808ff"/><circle cx="1074.50" cy="887.74" r="1.2" fill="#0808ff"/><circle cx="1076.80" cy="888.72" r="1.2" fill="#0808ff"/><circle cx="1079.10" cy="889.64" r="1.2" fill="#0808ff"/><circle cx="1081.40" cy="890.32" r="1.2" fill="#0808ff"/><circle cx="1083.70" cy="890.85" r="1.2" fill="#0808ff"/><circle cx="1086.00" cy="890.72" r="1.2" fill="#0808ff"/><circle cx="1088.30" cy="890.33" r="1.2" fill="#0808ff"/><circle cx="1090.60" cy="890.16" r="1.2" fill="#0808ff"/><circle cx="1092.90" cy="890.04" r="1.2" fill="#0808ff"/><circle cx="1095.20" cy="890.24" r="1.2" fill="#0808ff"/><circle cx="1097.50" cy="890.62" r="1.2" fill="#0808ff"/><circle cx="1099.80" cy="891.39" r="1.2" fill="#0808ff"/><circle cx="1102.10" cy="891.88" r="1.2" fill="#0808ff"/><circle cx="1104.40" cy="891.88" r="1.2" fill="#0808ff"/><circle cx="1106.70" cy="891.76" r="1.2" fill="#0808ff"/><circle cx="1109.00" cy="891.19" r="1.2" fill="#0808ff"/><circle cx="1111.30" cy="890.62" r="1.2" fill="#0808ff"/><circle cx="1113.60" cy="890.21" r="1.2" fill="#0808ff"/><circle cx="1115.90" cy="889.81" r="1.2" fill="#0808ff"/><circle cx="1118.20" cy="889.46" r="1.2" fill="#0808ff"/><circle cx="1120.50" cy="889.11" r="1.2" fill="#0808ff"/><circle cx="1122.80" cy="888.73" r="1.2" fill="#0808ff"/><circle cx="1125.10" cy="888.33" r="1.2" fill="#0808ff"/><circle cx="1127.40" cy="887.69" r="1.2" fill="#0808ff"/><circle cx="1129.70" cy="886.83" r="1.2" fill="#0808ff"/><circle cx="1132.00" cy="886.03" r="1.2" fill="#0808ff"/><circle cx="1134.30" cy="885.34" r="1.2" fill="#0808ff"/><circle cx="1136.60" cy="884.75" r="1.2" fill="#0808ff"/><circle cx="1138.90" cy="884.75" r="1.2" fill="#0808ff"/><circle cx="1141.20" cy="884.75" r="1.2" fill="#0808ff"/><circle cx="1143.50" cy="885.27" r="1.2" fill="#0808ff"/><circle cx="1145.80" cy="886.16" r="1.2" fill="#0808ff"/><circle cx="1148.10" cy="887.69" r="1.2" fill="#0808ff"/><circle cx="1150.40" cy="888.25" r="1.2" fill="#0808ff"/><circle cx="1152.70" cy="888.42" r="1.2" fill="#0808ff"/><circle cx="1155.00" cy="888.08" r="1.2" fill="#0808ff"/><circle cx="1157.30" cy="887.32" r="1.2" fill="#0808ff"/><circle cx="1159.60" cy="885.99" r="1.2" fill="#0808ff"/><circle cx="1161.90" cy="884.87" r="1.2" fill="#0808ff"/><circle cx="1164.20" cy="884.41" r="1.2" fill="#0808ff"/><circle cx="1166.50" cy="884.00" r="1.2" fill="#0808ff"/><circle cx="1168.80" cy="884.00" r="1.2" fill="#0808ff"/><circle cx="1171.10" cy="884.16" r="1.2" fill="#0808ff"/><circle cx="1173.40" cy="884.92" r="1.2" fill="#0808ff"/><circle cx="1175.70" cy="885.36" r="1.2" fill="#0808ff"/><circle cx="1178.00" cy="885.56" r="1.2" fill="#0808ff"/><circle cx="1180.30" cy="885.11" r="1.2" fill="#0808ff"/><circle cx="1182.60" cy="884.31" r="1.2" fill="#0808ff"/><circle cx="1184.90" cy="882.82" r="1.2" fill="#0808ff"/><circle cx="1187.20" cy="881.21" r="1.2" fill="#0808ff"/><text x="899.70" y="736.20" style="font-family:'Liberation Sans';font-size:17px;font-weight:bold">m</text><text x="1039.50" y="786.50" font-size="15.2"><tspan font-style="italic">R</tspan><tspan font-size="10.5" dy="4">2D</tspan><tspan dy="-4">, Sic1-GFP</tspan></text><text x="1039.50" y="804.50" font-size="15.2"><tspan font-style="italic">λ</tspan> = 1.9 ± 0.1 s<tspan font-size="10" dy="-6.5">−1</tspan></text><line x1="61.50" y1="12.90" x2="61.50" y2="192.80" stroke="#555" stroke-width="1.0"/><line x1="57.00" y1="188.50" x2="237.50" y2="188.50" stroke="#555" stroke-width="1.0"/><line x1="57.00" y1="188.60" x2="61.50" y2="188.60" stroke="#555" stroke-width="1.0"/><text x="50.50" y="193.90" font-size="15.2" text-anchor="end">−40</text><line x1="61.50" y1="188.50" x2="61.50" y2="192.80" stroke="#555" stroke-width="1.0"/><text x="61.50" y="211.50" font-size="15.2" text-anchor="middle">−40</text><line x1="59.00" y1="166.60" x2="61.50" y2="166.60" stroke="#555" stroke-width="1.0"/><line x1="83.50" y1="188.50" x2="83.50" y2="191.00" stroke="#555" stroke-width="1.0"/><line x1="57.00" y1="144.60" x2="61.50" y2="144.60" stroke="#555" stroke-width="1.0"/><text x="50.50" y="149.90" font-size="15.2" text-anchor="end">−20</text><line x1="105.50" y1="188.50" x2="105.50" y2="192.80" stroke="#555" stroke-width="1.0"/><text x="105.50" y="211.50" font-size="15.2" text-anchor="middle">−20</text><line x1="59.00" y1="122.60" x2="61.50" y2="122.60" stroke="#555" stroke-width="1.0"/><line x1="127.50" y1="188.50" x2="127.50" y2="191.00" stroke="#555" stroke-width="1.0"/><line x1="57.00" y1="100.60" x2="61.50" y2="100.60" stroke="#555" stroke-width="1.0"/><text x="50.50" y="105.90" font-size="15.2" text-anchor="end">0</text><line x1="149.50" y1="188.50" x2="149.50" y2="192.80" stroke="#555" stroke-width="1.0"/><text x="149.50" y="211.50" font-size="15.2" text-anchor="middle">0</text><line x1="59.00" y1="78.60" x2="61.50" y2="78.60" stroke="#555" stroke-width="1.0"/><line x1="171.50" y1="188.50" x2="171.50" y2="191.00" stroke="#555" stroke-width="1.0"/><line x1="57.00" y1="56.60" x2="61.50" y2="56.60" stroke="#555" stroke-width="1.0"/><text x="50.50" y="61.90" font-size="15.2" text-anchor="end">20</text><line x1="193.50" y1="188.50" x2="193.50" y2="192.80" stroke="#555" stroke-width="1.0"/><text x="193.50" y="211.50" font-size="15.2" text-anchor="middle">20</text><line x1="59.00" y1="34.60" x2="61.50" y2="34.60" stroke="#555" stroke-width="1.0"/><line x1="215.50" y1="188.50" x2="215.50" y2="191.00" stroke="#555" stroke-width="1.0"/><line x1="57.00" y1="12.60" x2="61.50" y2="12.60" stroke="#555" stroke-width="1.0"/><text x="50.50" y="17.90" font-size="15.2" text-anchor="end">40</text><line x1="237.50" y1="188.50" x2="237.50" y2="192.80" stroke="#555" stroke-width="1.0"/><text x="237.50" y="211.50" font-size="15.2" text-anchor="middle">40</text><text x="149.00" y="231.80" font-size="15.2" text-anchor="middle"><tspan font-style="italic">x</tspan> (nm)</text><text x="0" y="0" font-size="15.2" text-anchor="middle" transform="translate(13.20,100.60) rotate(-90)"><tspan font-style="italic">y</tspan> (nm)</text><text x="-0.50" y="13.50" style="font-family:'Liberation Sans';font-size:17px;font-weight:bold">a</text><path d="M84.55 111.60a1.15 1.15 0 1 0 2.3 0a1.15 1.15 0 1 0 -2.3 0zM86.75 105.00a1.15 1.15 0 1 0 2.3 0a1.15 1.15 0 1 0 -2.3 0zM91.15 124.80a1.15 1.15 0 1 0 2.3 0a1.15 1.15 0 1 0 -2.3 0zM93.35 124.80a1.15 1.15 0 1 0 2.3 0a1.15 1.15 0 1 0 -2.3 0zM93.35 102.80a1.15 1.15 0 1 0 2.3 0a1.15 1.15 0 1 0 -2.3 0zM93.35 100.60a1.15 1.15 0 1 0 2.3 0a1.15 1.15 0 1 0 -2.3 0zM93.35 80.80a1.15 1.15 0 1 0 2.3 0a1.15 1.15 0 1 0 -2.3 0zM95.55 131.40a1.15 1.15 0 1 0 2.3 0a1.15 1.15 0 1 0 -2.3 0zM95.55 94.00a1.15 1.15 0 1 0 2.3 0a1.15 1.15 0 1 0 -2.3 0zM95.55 83.00a1.15 1.15 0 1 0 2.3 0a1.15 1.15 0 1 0 -2.3 0zM97.75 138.00a1.15 1.15 0 1 0 2.3 0a1.15 1.15 0 1 0 -2.3 0zM97.75 133.60a1.15 1.15 0 1 0 2.3 0a1.15 1.15 0 1 0 -2.3 0zM97.75 120.40a1.15 1.15 0 1 0 2.3 0a1.15 1.15 0 1 0 -2.3 0zM97.75 113.80a1.15 1.15 0 1 0 2.3 0a1.15 1.15 0 1 0 -2.3 0zM97.75 102.80a1.15 1.15 0 1 0 2.3 0a1.15 1.15 0 1 0 -2.3 0zM97.75 85.20a1.15 1.15 0 1 0 2.3 0a1.15 1.15 0 1 0 -2.3 0zM97.75 76.40a1.15 1.15 0 1 0 2.3 0a1.15 1.15 0 1 0 -2.3 0zM99.95 140.20a1.15 1.15 0 1 0 2.3 0a1.15 1.15 0 1 0 -2.3 0zM99.95 129.20a1.15 1.15 0 1 0 2.3 0a1.15 1.15 0 1 0 -2.3 0zM99.95 124.80a1.15 1.15 0 1 0 2.3 0a1.15 1.15 0 1 0 -2.3 0zM99.95 122.60a1.15 1.15 0 1 0 2.3 0a1.15 1.15 0 1 0 -2.3 0zM99.95 109.40a1.15 1.15 0 1 0 2.3 0a1.15 1.15 0 1 0 -2.3 0zM99.95 107.20a1.15 1.15 0 1 0 2.3 0a1.15 1.15 0 1 0 -2.3 0zM99.95 100.60a1.15 1.15 0 1 0 2.3 0a1.15 1.15 0 1 0 -2.3 0zM99.95 98.40a1.15 1.15 0 1 0 2.3 0a1.15 1.15 0 1 0 -2.3 0zM99.95 89.60a1.15 1.15 0 1 0 2.3 0a1.15 1.15 0 1 0 -2.3 0zM102.15 118.20a1.15 1.15 0 1 0 2.3 0a1.15 1.15 0 1 0 -2.3 0zM102.15 116.00a1.15 1.15 0 1 0 2.3 0a1.15 1.15 0 1 0 -2.3 0zM102.15 113.80a1.15 1.15 0 1 0 2.3 0a1.15 1.15 0 1 0 -2.3 0zM102.15 111.60a1.15 1.15 0 1 0 2.3 0a1.15 1.15 0 1 0 -2.3 0zM102.15 109.40a1.15 1.15 0 1 0 2.3 0a1.15 1.15 0 1 0 -2.3 0zM102.15 107.20a1.15 1.15 0 1 0 2.3 0a1.15 1.15 0 1 0 -2.3 0zM102.15 105.00a1.15 1.15 0 1 0 2.3 0a1.15 1.15 0 1 0 -2.3 0zM102.15 91.80a1.15 1.15 0 1 0 2.3 0a1.15 1.15 0 1 0 -2.3 0zM102.15 85.20a1.15 1.15 0 1 0 2.3 0a1.15 1.15 0 1 0 -2.3 0zM102.15 83.00a1.15 1.15 0 1 0 2.3 0a1.15 1.15 0 1 0 -2.3 0zM102.15 67.60a1.15 1.15 0 1 0 2.3 0a1.15 1.15 0 1 0 -2.3 0zM104.35 116.00a1.15 1.15 0 1 0 2.3 0a1.15 1.15 0 1 0 -2.3 0zM104.35 113.80a1.15 1.15 0 1 0 2.3 0a1.15 1.15 0 1 0 -2.3 0zM104.35 111.60a1.15 1.15 0 1 0 2.3 0a1.15 1.15 0 1 0 -2.3 0zM104.35 105.00a1.15 1.15 0 1 0 2.3 0a1.15 1.15 0 1 0 -2.3 0zM104.35 102.80a1.15 1.15 0 1 0 2.3 0a1.15 1.15 0 1 0 -2.3 0zM104.35 100.60a1.15 1.15 0 1 0 2.3 0a1.15 1.15 0 1 0 -2.3 0zM104.35 98.40a1.15 1.15 0 1 0 2.3 0a1.15 1.15 0 1 0 -2.3 0zM104.35 96.20a1.15 1.15 0 1 0 2.3 0a1.15 1.15 0 1 0 -2.3 0zM104.35 91.80a1.15 1.15 0 1 0 2.3 0a1.15 1.15 0 1 0 -2.3 0zM104.35 89.60a1.15 1.15 0 1 0 2.3 0a1.15 1.15 0 1 0 -2.3 0zM104.35 87.40a1.15 1.15 0 1 0 2.3 0a1.15 1.15 0 1 0 -2.3 0zM104.35 80.80a1.15 1.15 0 1 0 2.3 0a1.15 1.15 0 1 0 -2.3 0zM104.35 78.60a1.15 1.15 0 1 0 2.3 0a1.15 1.15 0 1 0 -2.3 0zM104.35 69.80a1.15 1.15 0 1 0 2.3 0a1.15 1.15 0 1 0 -2.3 0zM104.35 67.60a1.15 1.15 0 1 0 2.3 0a1.15 1.15 0 1 0 -2.3 0zM106.55 129.20a1.15 1.15 0 1 0 2.3 0a1.15 1.15 0 1 0 -2.3 0zM106.55 127.00a1.15 1.15 0 1 0 2.3 0a1.15 1.15 0 1 0 -2.3 0zM106.55 122.60a1.15 1.15 0 1 0 2.3 0a1.15 1.15 0 1 0 -2.3 0zM106.55 113.80a1.15 1.15 0 1 0 2.3 0a1.15 1.15 0 1 0 -2.3 0zM106.55 111.60a1.15 1.15 0 1 0 2.3 0a1.15 1.15 0 1 0 -2.3 0zM106.55 109.40a1.15 1.15 0 1 0 2.3 0a1.15 1.15 0 1 0 -2.3 0zM106.55 107.20a1.15 1.15 0 1 0 2.3 0a1.15 1.15 0 1 0 -2.3 0zM106.55 102.80a1.15 1.15 0 1 0 2.3 0a1.15 1.15 0 1 0 -2.3 0zM106.55 96.20a1.15 1.15 0 1 0 2.3 0a1.15 1.15 0 1 0 -2.3 0zM106.55 94.00a1.15 1.15 0 1 0 2.3 0a1.15 1.15 0 1 0 -2.3 0zM106.55 91.80a1.15 1.15 0 1 0 2.3 0a1.15 1.15 0 1 0 -2.3 0zM106.55 87.40a1.15 1.15 0 1 0 2.3 0a1.15 1.15 0 1 0 -2.3 0zM106.55 78.60a1.15 1.15 0 1 0 2.3 0a1.15 1.15 0 1 0 -2.3 0zM106.55 76.40a1.15 1.15 0 1 0 2.3 0a1.15 1.15 0 1 0 -2.3 0zM106.55 72.00a1.15 1.15 0 1 0 2.3 0a1.15 1.15 0 1 0 -2.3 0zM108.75 135.80a1.15 1.15 0 1 0 2.3 0a1.15 1.15 0 1 0 -2.3 0zM108.75 129.20a1.15 1.15 0 1 0 2.3 0a1.15 1.15 0 1 0 -2.3 0zM108.75 124.80a1.15 1.15 0 1 0 2.3 0a1.15 1.15 0 1 0 -2.3 0zM108.75 122.60a1.15 1.15 0 1 0 2.3 0a1.15 1.15 0 1 0 -2.3 0zM108.75 116.00a1.15 1.15 0 1 0 2.3 0a1.15 1.15 0 1 0 -2.3 0zM108.75 113.80a1.15 1.15 0 1 0 2.3 0a1.15 1.15 0 1 0 -2.3 0zM108.75 111.60a1.15 1.15 0 1 0 2.3 0a1.15 1.15 0 1 0 -2.3 0zM108.75 109.40a1.15 1.15 0 1 0 2.3 0a1.15 1.15 0 1 0 -2.3 0zM108.75 107.20a1.15 1.15 0 1 0 2.3 0a1.15 1.15 0 1 0 -2.3 0zM108.75 105.00a1.15 1.15 0 1 0 2.3 0a1.15 1.15 0 1 0 -2.3 0zM108.75 102.80a1.15 1.15 0 1 0 2.3 0a1.15 1.15 0 1 0 -2.3 0zM108.75 100.60a1.15 1.15 0 1 0 2.3 0a1.15 1.15 0 1 0 -2.3 0zM108.75 98.40a1.15 1.15 0 1 0 2.3 0a1.15 1.15 0 1 0 -2.3 0zM108.75 96.20a1.15 1.15 0 1 0 2.3 0a1.15 1.15 0 1 0 -2.3 0zM108.75 94.00a1.15 1.15 0 1 0 2.3 0a1.15 1.15 0 1 0 -2.3 0zM108.75 89.60a1.15 1.15 0 1 0 2.3 0a1.15 1.15 0 1 0 -2.3 0zM108.75 85.20a1.15 1.15 0 1 0 2.3 0a1.15 1.15 0 1 0 -2.3 0zM108.75 80.80a1.15 1.15 0 1 0 2.3 0a1.15 1.15 0 1 0 -2.3 0zM108.75 76.40a1.15 1.15 0 1 0 2.3 0a1.15 1.15 0 1 0 -2.3 0zM108.75 74.20a1.15 1.15 0 1 0 2.3 0a1.15 1.15 0 1 0 -2.3 0zM108.75 72.00a1.15 1.15 0 1 0 2.3 0a1.15 1.15 0 1 0 -2.3 0zM108.75 65.40a1.15 1.15 0 1 0 2.3 0a1.15 1.15 0 1 0 -2.3 0zM110.95 155.60a1.15 1.15 0 1 0 2.3 0a1.15 1.15 0 1 0 -2.3 0zM110.95 140.20a1.15 1.15 0 1 0 2.3 0a1.15 1.15 0 1 0 -2.3 0zM110.95 131.40a1.15 1.15 0 1 0 2.3 0a1.15 1.15 0 1 0 -2.3 0zM110.95 129.20a1.15 1.15 0 1 0 2.3 0a1.15 1.15 0 1 0 -2.3 0zM110.95 127.00a1.15 1.15 0 1 0 2.3 0a1.15 1.15 0 1 0 -2.3 0zM110.95 120.40a1.15 1.15 0 1 0 2.3 0a1.15 1.15 0 1 0 -2.3 0zM110.95 118.20a1.15 1.15 0 1 0 2.3 0a1.15 1.15 0 1 0 -2.3 0zM110.95 111.60a1.15 1.15 0 1 0 2.3 0a1.15 1.15 0 1 0 -2.3 0zM110.95 109.40a1.15 1.15 0 1 0 2.3 0a1.15 1.15 0 1 0 -2.3 0zM110.95 107.20a1.15 1.15 0 1 0 2.3 0a1.15 1.15 0 1 0 -2.3 0zM110.95 105.00a1.15 1.15 0 1 0 2.3 0a1.15 1.15 0 1 0 -2.3 0zM110.95 98.40a1.15 1.15 0 1 0 2.3 0a1.15 1.15 0 1 0 -2.3 0zM110.95 91.80a1.15 1.15 0 1 0 2.3 0a1.15 1.15 0 1 0 -2.3 0zM110.95 87.40a1.15 1.15 0 1 0 2.3 0a1.15 1.15 0 1 0 -2.3 0zM110.95 85.20a1.15 1.15 0 1 0 2.3 0a1.15 1.15 0 1 0 -2.3 0zM110.95 83.00a1.15 1.15 0 1 0 2.3 0a1.15 1.15 0 1 0 -2.3 0zM110.95 80.80a1.15 1.15 0 1 0 2.3 0a1.15 1.15 0 1 0 -2.3 0zM110.95 78.60a1.15 1.15 0 1 0 2.3 0a1.15 1.15 0 1 0 -2.3 0zM110.95 74.20a1.15 1.15 0 1 0 2.3 0a1.15 1.15 0 1 0 -2.3 0zM110.95 69.80a1.15 1.15 0 1 0 2.3 0a1.15 1.15 0 1 0 -2.3 0zM110.95 65.40a1.15 1.15 0 1 0 2.3 0a1.15 1.15 0 1 0 -2.3 0zM110.95 61.00a1.15 1.15 0 1 0 2.3 0a1.15 1.15 0 1 0 -2.3 0zM113.15 149.00a1.15 1.15 0 1 0 2.3 0a1.15 1.15 0 1 0 -2.3 0zM113.15 131.40a1.15 1.15 0 1 0 2.3 0a1.15 1.15 0 1 0 -2.3 0zM113.15 124.80a1.15 1.15 0 1 0 2.3 0a1.15 1.15 0 1 0 -2.3 0zM113.15 122.60a1.15 1.15 0 1 0 2.3 0a1.15 1.15 0 1 0 -2.3 0zM113.15 120.40a1.15 1.15 0 1 0 2.3 0a1.15 1.15 0 1 0 -2.3 0zM113.15 118.20a1.15 1.15 0 1 0 2.3 0a1.15 1.15 0 1 0 -2.3 0zM113.15 116.00a1.15 1.15 0 1 0 2.3 0a1.15 1.15 0 1 0 -2.3 0zM113.15 113.80a1.15 1.15 0 1 0 2.3 0a1.15 1.15 0 1 0 -2.3 0zM113.15 111.60a1.15 1.15 0 1 0 2.3 0a1.15 1.15 0 1 0 -2.3 0zM113.15 109.40a1.15 1.15 0 1 0 2.3 0a1.15 1.15 0 1 0 -2.3 0zM113.15 107.20a1.15 1.15 0 1 0 2.3 0a1.15 1.15 0 1 0 -2.3 0zM113.15 105.00a1.15 1.15 0 1 0 2.3 0a1.15 1.15 0 1 0 -2.3 0zM113.15 102.80a1.15 1.15 0 1 0 2.3 0a1.15 1.15 0 1 0 -2.3 0zM113.15 100.60a1.15 1.15 0 1 0 2.3 0a1.15 1.15 0 1 0 -2.3 0zM113.15 98.40a1.15 1.15 0 1 0 2.3 0a1.15 1.15 0 1 0 -2.3 0zM113.15 96.20a1.15 1.15 0 1 0 2.3 0a1.15 1.15 0 1 0 -2.3 0zM113.15 94.00a1.15 1.15 0 1 0 2.3 0a1.15 1.15 0 1 0 -2.3 0zM113.15 89.60a1.15 1.15 0 1 0 2.3 0a1.15 1.15 0 1 0 -2.3 0zM113.15 87.40a1.15 1.15 0 1 0 2.3 0a1.15 1.15 0 1 0 -2.3 0zM113.15 85.20a1.15 1.15 0 1 0 2.3 0a1.15 1.15 0 1 0 -2.3 0zM113.15 83.00a1.15 1.15 0 1 0 2.3 0a1.15 1.15 0 1 0 -2.3 0zM113.15 74.20a1.15 1.15 0 1 0 2.3 0a1.15 1.15 0 1 0 -2.3 0zM115.35 149.00a1.15 1.15 0 1 0 2.3 0a1.15 1.15 0 1 0 -2.3 0zM115.35 135.80a1.15 1.15 0 1 0 2.3 0a1.15 1.15 0 1 0 -2.3 0zM115.35 133.60a1.15 1.15 0 1 0 2.3 0a1.15 1.15 0 1 0 -2.3 0zM115.35 122.60a1.15 1.15 0 1 0 2.3 0a1.15 1.15 0 1 0 -2.3 0zM115.35 118.20a1.15 1.15 0 1 0 2.3 0a1.15 1.15 0 1 0 -2.3 0zM115.35 113.80a1.15 1.15 0 1 0 2.3 0a1.15 1.15 0 1 0 -2.3 0zM115.35 109.40a1.15 1.15 0 1 0 2.3 0a1.15 1.15 0 1 0 -2.3 0zM115.35 105.00a1.15 1.15 0 1 0 2.3 0a1.15 1.15 0 1 0 -2.3 0zM115.35 102.80a1.15 1.15 0 1 0 2.3 0a1.15 1.15 0 1 0 -2.3 0zM115.35 98.40a1.15 1.15 0 1 0 2.3 0a1.15 1.15 0 1 0 -2.3 0zM115.35 96.20a1.15 1.15 0 1 0 2.3 0a1.15 1.15 0 1 0 -2.3 0zM115.35 94.00a1.15 1.15 0 1 0 2.3 0a1.15 1.15 0 1 0 -2.3 0zM115.35 91.80a1.15 1.15 0 1 0 2.3 0a1.15 1.15 0 1 0 -2.3 0zM115.35 89.60a1.15 1.15 0 1 0 2.3 0a1.15 1.15 0 1 0 -2.3 0zM115.35 83.00a1.15 1.15 0 1 0 2.3 0a1.15 1.15 0 1 0 -2.3 0zM115.35 80.80a1.15 1.15 0 1 0 2.3 0a1.15 1.15 0 1 0 -2.3 0zM115.35 78.60a1.15 1.15 0 1 0 2.3 0a1.15 1.15 0 1 0 -2.3 0zM115.35 76.40a1.15 1.15 0 1 0 2.3 0a1.15 1.15 0 1 0 -2.3 0zM115.35 74.20a1.15 1.15 0 1 0 2.3 0a1.15 1.15 0 1 0 -2.3 0zM115.35 69.80a1.15 1.15 0 1 0 2.3 0a1.15 1.15 0 1 0 -2.3 0zM117.55 142.40a1.15 1.15 0 1 0 2.3 0a1.15 1.15 0 1 0 -2.3 0zM117.55 135.80a1.15 1.15 0 1 0 2.3 0a1.15 1.15 0 1 0 -2.3 0zM117.55 133.60a1.15 1.15 0 1 0 2.3 0a1.15 1.15 0 1 0 -2.3 0zM117.55 131.40a1.15 1.15 0 1 0 2.3 0a1.15 1.15 0 1 0 -2.3 0zM117.55 129.20a1.15 1.15 0 1 0 2.3 0a1.15 1.15 0 1 0 -2.3 0zM117.55 124.80a1.15 1.15 0 1 0 2.3 0a1.15 1.15 0 1 0 -2.3 0zM117.55 122.60a1.15 1.15 0 1 0 2.3 0a1.15 1.15 0 1 0 -2.3 0zM117.55 120.40a1.15 1.15 0 1 0 2.3 0a1.15 1.15 0 1 0 -2.3 0zM117.55 118.20a1.15 1.15 0 1 0 2.3 0a1.15 1.15 0 1 0 -2.3 0zM117.55 113.80a1.15 1.15 0 1 0 2.3 0a1.15 1.15 0 1 0 -2.3 0zM117.55 111.60a1.15 1.15 0 1 0 2.3 0a1.15 1.15 0 1 0 -2.3 0zM117.55 107.20a1.15 1.15 0 1 0 2.3 0a1.15 1.15 0 1 0 -2.3 0zM117.55 105.00a1.15 1.15 0 1 0 2.3 0a1.15 1.15 0 1 0 -2.3 0zM117.55 102.80a1.15 1.15 0 1 0 2.3 0a1.15 1.15 0 1 0 -2.3 0zM117.55 98.40a1.15 1.15 0 1 0 2.3 0a1.15 1.15 0 1 0 -2.3 0zM117.55 96.20a1.15 1.15 0 1 0 2.3 0a1.15 1.15 0 1 0 -2.3 0zM117.55 94.00a1.15 1.15 0 1 0 2.3 0a1.15 1.15 0 1 0 -2.3 0zM117.55 91.80a1.15 1.15 0 1 0 2.3 0a1.15 1.15 0 1 0 -2.3 0zM117.55 87.40a1.15 1.15 0 1 0 2.3 0a1.15 1.15 0 1 0 -2.3 0zM117.55 85.20a1.15 1.15 0 1 0 2.3 0a1.15 1.15 0 1 0 -2.3 0zM117.55 83.00a1.15 1.15 0 1 0 2.3 0a1.15 1.15 0 1 0 -2.3 0zM117.55 80.80a1.15 1.15 0 1 0 2.3 0a1.15 1.15 0 1 0 -2.3 0zM117.55 78.60a1.15 1.15 0 1 0 2.3 0a1.15 1.15 0 1 0 -2.3 0zM117.55 76.40a1.15 1.15 0 1 0 2.3 0a1.15 1.15 0 1 0 -2.3 0zM117.55 74.20a1.15 1.15 0 1 0 2.3 0a1.15 1.15 0 1 0 -2.3 0zM117.55 69.80a1.15 1.15 0 1 0 2.3 0a1.15 1.15 0 1 0 -2.3 0zM117.55 67.60a1.15 1.15 0 1 0 2.3 0a1.15 1.15 0 1 0 -2.3 0zM117.55 63.20a1.15 1.15 0 1 0 2.3 0a1.15 1.15 0 1 0 -2.3 0zM117.55 61.00a1.15 1.15 0 1 0 2.3 0a1.15 1.15 0 1 0 -2.3 0zM117.55 56.60a1.15 1.15 0 1 0 2.3 0a1.15 1.15 0 1 0 -2.3 0zM117.55 50.00a1.15 1.15 0 1 0 2.3 0a1.15 1.15 0 1 0 -2.3 0zM119.75 142.40a1.15 1.15 0 1 0 2.3 0a1.15 1.15 0 1 0 -2.3 0zM119.75 138.00a1.15 1.15 0 1 0 2.3 0a1.15 1.15 0 1 0 -2.3 0zM119.75 133.60a1.15 1.15 0 1 0 2.3 0a1.15 1.15 0 1 0 -2.3 0zM119.75 131.40a1.15 1.15 0 1 0 2.3 0a1.15 1.15 0 1 0 -2.3 0zM119.75 122.60a1.15 1.15 0 1 0 2.3 0a1.15 1.15 0 1 0 -2.3 0zM119.75 120.40a1.15 1.15 0 1 0 2.3 0a1.15 1.15 0 1 0 -2.3 0zM119.75 118.20a1.15 1.15 0 1 0 2.3 0a1.15 1.15 0 1 0 -2.3 0zM119.75 116.00a1.15 1.15 0 1 0 2.3 0a1.15 1.15 0 1 0 -2.3 0zM119.75 113.80a1.15 1.15 0 1 0 2.3 0a1.15 1.15 0 1 0 -2.3 0zM119.75 111.60a1.15 1.15 0 1 0 2.3 0a1.15 1.15 0 1 0 -2.3 0zM119.75 109.40a1.15 1.15 0 1 0 2.3 0a1.15 1.15 0 1 0 -2.3 0zM119.75 105.00a1.15 1.15 0 1 0 2.3 0a1.15 1.15 0 1 0 -2.3 0zM119.75 100.60a1.15 1.15 0 1 0 2.3 0a1.15 1.15 0 1 0 -2.3 0zM119.75 98.40a1.15 1.15 0 1 0 2.3 0a1.15 1.15 0 1 0 -2.3 0zM119.75 96.20a1.15 1.15 0 1 0 2.3 0a1.15 1.15 0 1 0 -2.3 0zM119.75 94.00a1.15 1.15 0 1 0 2.3 0a1.15 1.15 0 1 0 -2.3 0zM119.75 91.80a1.15 1.15 0 1 0 2.3 0a1.15 1.15 0 1 0 -2.3 0zM119.75 89.60a1.15 1.15 0 1 0 2.3 0a1.15 1.15 0 1 0 -2.3 0zM119.75 87.40a1.15 1.15 0 1 0 2.3 0a1.15 1.15 0 1 0 -2.3 0zM119.75 83.00a1.15 1.15 0 1 0 2.3 0a1.15 1.15 0 1 0 -2.3 0zM119.75 78.60a1.15 1.15 0 1 0 2.3 0a1.15 1.15 0 1 0 -2.3 0zM119.75 76.40a1.15 1.15 0 1 0 2.3 0a1.15 1.15 0 1 0 -2.3 0zM119.75 72.00a1.15 1.15 0 1 0 2.3 0a1.15 1.15 0 1 0 -2.3 0zM119.75 69.80a1.15 1.15 0 1 0 2.3 0a1.15 1.15 0 1 0 -2.3 0zM119.75 67.60a1.15 1.15 0 1 0 2.3 0a1.15 1.15 0 1 0 -2.3 0zM119.75 65.40a1.15 1.15 0 1 0 2.3 0a1.15 1.15 0 1 0 -2.3 0zM119.75 63.20a1.15 1.15 0 1 0 2.3 0a1.15 1.15 0 1 0 -2.3 0zM119.75 52.20a1.15 1.15 0 1 0 2.3 0a1.15 1.15 0 1 0 -2.3 0zM121.95 155.60a1.15 1.15 0 1 0 2.3 0a1.15 1.15 0 1 0 -2.3 0zM121.95 146.80a1.15 1.15 0 1 0 2.3 0a1.15 1.15 0 1 0 -2.3 0zM121.95 140.20a1.15 1.15 0 1 0 2.3 0a1.15 1.15 0 1 0 -2.3 0zM121.95 138.00a1.15 1.15 0 1 0 2.3 0a1.15 1.15 0 1 0 -2.3 0zM121.95 133.60a1.15 1.15 0 1 0 2.3 0a1.15 1.15 0 1 0 -2.3 0zM121.95 131.40a1.15 1.15 0 1 0 2.3 0a1.15 1.15 0 1 0 -2.3 0zM121.95 129.20a1.15 1.15 0 1 0 2.3 0a1.15 1.15 0 1 0 -2.3 0zM121.95 127.00a1.15 1.15 0 1 0 2.3 0a1.15 1.15 0 1 0 -2.3 0zM121.95 124.80a1.15 1.15 0 1 0 2.3 0a1.15 1.15 0 1 0 -2.3 0zM121.95 122.60a1.15 1.15 0 1 0 2.3 0a1.15 1.15 0 1 0 -2.3 0zM121.95 113.80a1.15 1.15 0 1 0 2.3 0a1.15 1.15 0 1 0 -2.3 0zM121.95 111.60a1.15 1.15 0 1 0 2.3 0a1.15 1.15 0 1 0 -2.3 0zM121.95 109.40a1.15 1.15 0 1 0 2.3 0a1.15 1.15 0 1 0 -2.3 0zM121.95 107.20a1.15 1.15 0 1 0 2.3 0a1.15 1.15 0 1 0 -2.3 0zM121.95 105.00a1.15 1.15 0 1 0 2.3 0a1.15 1.15 0 1 0 -2.3 0zM121.95 100.60a1.15 1.15 0 1 0 2.3 0a1.15 1.15 0 1 0 -2.3 0zM121.95 98.40a1.15 1.15 0 1 0 2.3 0a1.15 1.15 0 1 0 -2.3 0zM121.95 91.80a1.15 1.15 0 1 0 2.3 0a1.15 1.15 0 1 0 -2.3 0zM121.95 89.60a1.15 1.15 0 1 0 2.3 0a1.15 1.15 0 1 0 -2.3 0zM121.95 87.40a1.15 1.15 0 1 0 2.3 0a1.15 1.15 0 1 0 -2.3 0zM121.95 85.20a1.15 1.15 0 1 0 2.3 0a1.15 1.15 0 1 0 -2.3 0zM121.95 83.00a1.15 1.15 0 1 0 2.3 0a1.15 1.15 0 1 0 -2.3 0zM121.95 80.80a1.15 1.15 0 1 0 2.3 0a1.15 1.15 0 1 0 -2.3 0zM121.95 76.40a1.15 1.15 0 1 0 2.3 0a1.15 1.15 0 1 0 -2.3 0zM121.95 72.00a1.15 1.15 0 1 0 2.3 0a1.15 1.15 0 1 0 -2.3 0zM121.95 69.80a1.15 1.15 0 1 0 2.3 0a1.15 1.15 0 1 0 -2.3 0zM121.95 65.40a1.15 1.15 0 1 0 2.3 0a1.15 1.15 0 1 0 -2.3 0zM121.95 61.00a1.15 1.15 0 1 0 2.3 0a1.15 1.15 0 1 0 -2.3 0zM121.95 58.80a1.15 1.15 0 1 0 2.3 0a1.15 1.15 0 1 0 -2.3 0zM121.95 56.60a1.15 1.15 0 1 0 2.3 0a1.15 1.15 0 1 0 -2.3 0zM124.15 151.20a1.15 1.15 0 1 0 2.3 0a1.15 1.15 0 1 0 -2.3 0zM124.15 149.00a1.15 1.15 0 1 0 2.3 0a1.15 1.15 0 1 0 -2.3 0zM124.15 138.00a1.15 1.15 0 1 0 2.3 0a1.15 1.15 0 1 0 -2.3 0zM124.15 135.80a1.15 1.15 0 1 0 2.3 0a1.15 1.15 0 1 0 -2.3 0zM124.15 133.60a1.15 1.15 0 1 0 2.3 0a1.15 1.15 0 1 0 -2.3 0zM124.15 129.20a1.15 1.15 0 1 0 2.3 0a1.15 1.15 0 1 0 -2.3 0zM124.15 127.00a1.15 1.15 0 1 0 2.3 0a1.15 1.15 0 1 0 -2.3 0zM124.15 124.80a1.15 1.15 0 1 0 2.3 0a1.15 1.15 0 1 0 -2.3 0zM124.15 120.40a1.15 1.15 0 1 0 2.3 0a1.15 1.15 0 1 0 -2.3 0zM124.15 118.20a1.15 1.15 0 1 0 2.3 0a1.15 1.15 0 1 0 -2.3 0zM124.15 116.00a1.15 1.15 0 1 0 2.3 0a1.15 1.15 0 1 0 -2.3 0zM124.15 113.80a1.15 1.15 0 1 0 2.3 0a1.15 1.15 0 1 0 -2.3 0zM124.15 109.40a1.15 1.15 0 1 0 2.3 0a1.15 1.15 0 1 0 -2.3 0zM124.15 102.80a1.15 1.15 0 1 0 2.3 0a1.15 1.15 0 1 0 -2.3 0zM124.15 100.60a1.15 1.15 0 1 0 2.3 0a1.15 1.15 0 1 0 -2.3 0zM124.15 98.40a1.15 1.15 0 1 0 2.3 0a1.15 1.15 0 1 0 -2.3 0zM124.15 96.20a1.15 1.15 0 1 0 2.3 0a1.15 1.15 0 1 0 -2.3 0zM124.15 94.00a1.15 1.15 0 1 0 2.3 0a1.15 1.15 0 1 0 -2.3 0zM124.15 89.60a1.15 1.15 0 1 0 2.3 0a1.15 1.15 0 1 0 -2.3 0zM124.15 87.40a1.15 1.15 0 1 0 2.3 0a1.15 1.15 0 1 0 -2.3 0zM124.15 85.20a1.15 1.15 0 1 0 2.3 0a1.15 1.15 0 1 0 -2.3 0zM124.15 83.00a1.15 1.15 0 1 0 2.3 0a1.15 1.15 0 1 0 -2.3 0zM124.15 80.80a1.15 1.15 0 1 0 2.3 0a1.15 1.15 0 1 0 -2.3 0zM124.15 78.60a1.15 1.15 0 1 0 2.3 0a1.15 1.15 0 1 0 -2.3 0zM124.15 76.40a1.15 1.15 0 1 0 2.3 0a1.15 1.15 0 1 0 -2.3 0zM124.15 74.20a1.15 1.15 0 1 0 2.3 0a1.15 1.15 0 1 0 -2.3 0zM124.15 72.00a1.15 1.15 0 1 0 2.3 0a1.15 1.15 0 1 0 -2.3 0zM124.15 69.80a1.15 1.15 0 1 0 2.3 0a1.15 1.15 0 1 0 -2.3 0zM124.15 67.60a1.15 1.15 0 1 0 2.3 0a1.15 1.15 0 1 0 -2.3 0zM124.15 65.40a1.15 1.15 0 1 0 2.3 0a1.15 1.15 0 1 0 -2.3 0zM124.15 61.00a1.15 1.15 0 1 0 2.3 0a1.15 1.15 0 1 0 -2.3 0zM124.15 58.80a1.15 1.15 0 1 0 2.3 0a1.15 1.15 0 1 0 -2.3 0zM124.15 54.40a1.15 1.15 0 1 0 2.3 0a1.15 1.15 0 1 0 -2.3 0zM124.15 45.60a1.15 1.15 0 1 0 2.3 0a1.15 1.15 0 1 0 -2.3 0zM124.15 43.40a1.15 1.15 0 1 0 2.3 0a1.15 1.15 0 1 0 -2.3 0zM126.35 146.80a1.15 1.15 0 1 0 2.3 0a1.15 1.15 0 1 0 -2.3 0zM126.35 142.40a1.15 1.15 0 1 0 2.3 0a1.15 1.15 0 1 0 -2.3 0zM126.35 140.20a1.15 1.15 0 1 0 2.3 0a1.15 1.15 0 1 0 -2.3 0zM126.35 138.00a1.15 1.15 0 1 0 2.3 0a1.15 1.15 0 1 0 -2.3 0zM126.35 135.80a1.15 1.15 0 1 0 2.3 0a1.15 1.15 0 1 0 -2.3 0zM126.35 133.60a1.15 1.15 0 1 0 2.3 0a1.15 1.15 0 1 0 -2.3 0zM126.35 131.40a1.15 1.15 0 1 0 2.3 0a1.15 1.15 0 1 0 -2.3 0zM126.35 129.20a1.15 1.15 0 1 0 2.3 0a1.15 1.15 0 1 0 -2.3 0zM126.35 127.00a1.15 1.15 0 1 0 2.3 0a1.15 1.15 0 1 0 -2.3 0zM126.35 124.80a1.15 1.15 0 1 0 2.3 0a1.15 1.15 0 1 0 -2.3 0zM126.35 122.60a1.15 1.15 0 1 0 2.3 0a1.15 1.15 0 1 0 -2.3 0zM126.35 120.40a1.15 1.15 0 1 0 2.3 0a1.15 1.15 0 1 0 -2.3 0zM126.35 118.20a1.15 1.15 0 1 0 2.3 0a1.15 1.15 0 1 0 -2.3 0zM126.35 113.80a1.15 1.15 0 1 0 2.3 0a1.15 1.15 0 1 0 -2.3 0zM126.35 111.60a1.15 1.15 0 1 0 2.3 0a1.15 1.15 0 1 0 -2.3 0zM126.35 109.40a1.15 1.15 0 1 0 2.3 0a1.15 1.15 0 1 0 -2.3 0zM126.35 107.20a1.15 1.15 0 1 0 2.3 0a1.15 1.15 0 1 0 -2.3 0zM126.35 105.00a1.15 1.15 0 1 0 2.3 0a1.15 1.15 0 1 0 -2.3 0zM126.35 94.00a1.15 1.15 0 1 0 2.3 0a1.15 1.15 0 1 0 -2.3 0zM126.35 91.80a1.15 1.15 0 1 0 2.3 0a1.15 1.15 0 1 0 -2.3 0zM126.35 89.60a1.15 1.15 0 1 0 2.3 0a1.15 1.15 0 1 0 -2.3 0zM126.35 87.40a1.15 1.15 0 1 0 2.3 0a1.15 1.15 0 1 0 -2.3 0zM126.35 85.20a1.15 1.15 0 1 0 2.3 0a1.15 1.15 0 1 0 -2.3 0zM126.35 83.00a1.15 1.15 0 1 0 2.3 0a1.15 1.15 0 1 0 -2.3 0zM126.35 80.80a1.15 1.15 0 1 0 2.3 0a1.15 1.15 0 1 0 -2.3 0zM126.35 78.60a1.15 1.15 0 1 0 2.3 0a1.15 1.15 0 1 0 -2.3 0zM126.35 76.40a1.15 1.15 0 1 0 2.3 0a1.15 1.15 0 1 0 -2.3 0zM126.35 74.20a1.15 1.15 0 1 0 2.3 0a1.15 1.15 0 1 0 -2.3 0zM126.35 72.00a1.15 1.15 0 1 0 2.3 0a1.15 1.15 0 1 0 -2.3 0zM126.35 69.80a1.15 1.15 0 1 0 2.3 0a1.15 1.15 0 1 0 -2.3 0zM126.35 67.60a1.15 1.15 0 1 0 2.3 0a1.15 1.15 0 1 0 -2.3 0zM126.35 63.20a1.15 1.15 0 1 0 2.3 0a1.15 1.15 0 1 0 -2.3 0zM126.35 61.00a1.15 1.15 0 1 0 2.3 0a1.15 1.15 0 1 0 -2.3 0zM126.35 56.60a1.15 1.15 0 1 0 2.3 0a1.15 1.15 0 1 0 -2.3 0zM128.55 151.20a1.15 1.15 0 1 0 2.3 0a1.15 1.15 0 1 0 -2.3 0zM128.55 149.00a1.15 1.15 0 1 0 2.3 0a1.15 1.15 0 1 0 -2.3 0zM128.55 144.60a1.15 1.15 0 1 0 2.3 0a1.15 1.15 0 1 0 -2.3 0zM128.55 142.40a1.15 1.15 0 1 0 2.3 0a1.15 1.15 0 1 0 -2.3 0zM128.55 138.00a1.15 1.15 0 1 0 2.3 0a1.15 1.15 0 1 0 -2.3 0zM128.55 135.80a1.15 1.15 0 1 0 2.3 0a1.15 1.15 0 1 0 -2.3 0zM128.55 133.60a1.15 1.15 0 1 0 2.3 0a1.15 1.15 0 1 0 -2.3 0zM128.55 131.40a1.15 1.15 0 1 0 2.3 0a1.15 1.15 0 1 0 -2.3 0zM128.55 129.20a1.15 1.15 0 1 0 2.3 0a1.15 1.15 0 1 0 -2.3 0zM128.55 127.00a1.15 1.15 0 1 0 2.3 0a1.15 1.15 0 1 0 -2.3 0zM128.55 124.80a1.15 1.15 0 1 0 2.3 0a1.15 1.15 0 1 0 -2.3 0zM128.55 122.60a1.15 1.15 0 1 0 2.3 0a1.15 1.15 0 1 0 -2.3 0zM128.55 120.40a1.15 1.15 0 1 0 2.3 0a1.15 1.15 0 1 0 -2.3 0zM128.55 118.20a1.15 1.15 0 1 0 2.3 0a1.15 1.15 0 1 0 -2.3 0zM128.55 96.20a1.15 1.15 0 1 0 2.3 0a1.15 1.15 0 1 0 -2.3 0zM128.55 83.00a1.15 1.15 0 1 0 2.3 0a1.15 1.15 0 1 0 -2.3 0zM128.55 80.80a1.15 1.15 0 1 0 2.3 0a1.15 1.15 0 1 0 -2.3 0zM128.55 78.60a1.15 1.15 0 1 0 2.3 0a1.15 1.15 0 1 0 -2.3 0zM128.55 76.40a1.15 1.15 0 1 0 2.3 0a1.15 1.15 0 1 0 -2.3 0zM128.55 74.20a1.15 1.15 0 1 0 2.3 0a1.15 1.15 0 1 0 -2.3 0zM128.55 72.00a1.15 1.15 0 1 0 2.3 0a1.15 1.15 0 1 0 -2.3 0zM128.55 69.80a1.15 1.15 0 1 0 2.3 0a1.15 1.15 0 1 0 -2.3 0zM128.55 67.60a1.15 1.15 0 1 0 2.3 0a1.15 1.15 0 1 0 -2.3 0zM128.55 65.40a1.15 1.15 0 1 0 2.3 0a1.15 1.15 0 1 0 -2.3 0zM128.55 63.20a1.15 1.15 0 1 0 2.3 0a1.15 1.15 0 1 0 -2.3 0zM128.55 61.00a1.15 1.15 0 1 0 2.3 0a1.15 1.15 0 1 0 -2.3 0zM128.55 58.80a1.15 1.15 0 1 0 2.3 0a1.15 1.15 0 1 0 -2.3 0zM128.55 54.40a1.15 1.15 0 1 0 2.3 0a1.15 1.15 0 1 0 -2.3 0zM128.55 52.20a1.15 1.15 0 1 0 2.3 0a1.15 1.15 0 1 0 -2.3 0zM128.55 50.00a1.15 1.15 0 1 0 2.3 0a1.15 1.15 0 1 0 -2.3 0zM128.55 47.80a1.15 1.15 0 1 0 2.3 0a1.15 1.15 0 1 0 -2.3 0zM130.75 146.80a1.15 1.15 0 1 0 2.3 0a1.15 1.15 0 1 0 -2.3 0zM130.75 142.40a1.15 1.15 0 1 0 2.3 0a1.15 1.15 0 1 0 -2.3 0zM130.75 140.20a1.15 1.15 0 1 0 2.3 0a1.15 1.15 0 1 0 -2.3 0zM130.75 131.40a1.15 1.15 0 1 0 2.3 0a1.15 1.15 0 1 0 -2.3 0zM130.75 129.20a1.15 1.15 0 1 0 2.3 0a1.15 1.15 0 1 0 -2.3 0zM130.75 127.00a1.15 1.15 0 1 0 2.3 0a1.15 1.15 0 1 0 -2.3 0zM130.75 124.80a1.15 1.15 0 1 0 2.3 0a1.15 1.15 0 1 0 -2.3 0zM130.75 118.20a1.15 1.15 0 1 0 2.3 0a1.15 1.15 0 1 0 -2.3 0zM130.75 116.00a1.15 1.15 0 1 0 2.3 0a1.15 1.15 0 1 0 -2.3 0zM130.75 111.60a1.15 1.15 0 1 0 2.3 0a1.15 1.15 0 1 0 -2.3 0zM130.75 109.40a1.15 1.15 0 1 0 2.3 0a1.15 1.15 0 1 0 -2.3 0zM130.75 107.20a1.15 1.15 0 1 0 2.3 0a1.15 1.15 0 1 0 -2.3 0zM130.75 98.40a1.15 1.15 0 1 0 2.3 0a1.15 1.15 0 1 0 -2.3 0zM130.75 83.00a1.15 1.15 0 1 0 2.3 0a1.15 1.15 0 1 0 -2.3 0zM130.75 78.60a1.15 1.15 0 1 0 2.3 0a1.15 1.15 0 1 0 -2.3 0zM130.75 76.40a1.15 1.15 0 1 0 2.3 0a1.15 1.15 0 1 0 -2.3 0zM130.75 74.20a1.15 1.15 0 1 0 2.3 0a1.15 1.15 0 1 0 -2.3 0zM130.75 72.00a1.15 1.15 0 1 0 2.3 0a1.15 1.15 0 1 0 -2.3 0zM130.75 67.60a1.15 1.15 0 1 0 2.3 0a1.15 1.15 0 1 0 -2.3 0zM130.75 65.40a1.15 1.15 0 1 0 2.3 0a1.15 1.15 0 1 0 -2.3 0zM130.75 63.20a1.15 1.15 0 1 0 2.3 0a1.15 1.15 0 1 0 -2.3 0zM130.75 61.00a1.15 1.15 0 1 0 2.3 0a1.15 1.15 0 1 0 -2.3 0zM130.75 58.80a1.15 1.15 0 1 0 2.3 0a1.15 1.15 0 1 0 -2.3 0zM130.75 56.60a1.15 1.15 0 1 0 2.3 0a1.15 1.15 0 1 0 -2.3 0zM130.75 54.40a1.15 1.15 0 1 0 2.3 0a1.15 1.15 0 1 0 -2.3 0zM132.95 155.60a1.15 1.15 0 1 0 2.3 0a1.15 1.15 0 1 0 -2.3 0zM132.95 146.80a1.15 1.15 0 1 0 2.3 0a1.15 1.15 0 1 0 -2.3 0zM132.95 144.60a1.15 1.15 0 1 0 2.3 0a1.15 1.15 0 1 0 -2.3 0zM132.95 142.40a1.15 1.15 0 1 0 2.3 0a1.15 1.15 0 1 0 -2.3 0zM132.95 140.20a1.15 1.15 0 1 0 2.3 0a1.15 1.15 0 1 0 -2.3 0zM132.95 138.00a1.15 1.15 0 1 0 2.3 0a1.15 1.15 0 1 0 -2.3 0zM132.95 135.80a1.15 1.15 0 1 0 2.3 0a1.15 1.15 0 1 0 -2.3 0zM132.95 133.60a1.15 1.15 0 1 0 2.3 0a1.15 1.15 0 1 0 -2.3 0zM132.95 131.40a1.15 1.15 0 1 0 2.3 0a1.15 1.15 0 1 0 -2.3 0zM132.95 129.20a1.15 1.15 0 1 0 2.3 0a1.15 1.15 0 1 0 -2.3 0zM132.95 127.00a1.15 1.15 0 1 0 2.3 0a1.15 1.15 0 1 0 -2.3 0zM132.95 124.80a1.15 1.15 0 1 0 2.3 0a1.15 1.15 0 1 0 -2.3 0zM132.95 122.60a1.15 1.15 0 1 0 2.3 0a1.15 1.15 0 1 0 -2.3 0zM132.95 120.40a1.15 1.15 0 1 0 2.3 0a1.15 1.15 0 1 0 -2.3 0zM132.95 116.00a1.15 1.15 0 1 0 2.3 0a1.15 1.15 0 1 0 -2.3 0zM132.95 113.80a1.15 1.15 0 1 0 2.3 0a1.15 1.15 0 1 0 -2.3 0zM132.95 111.60a1.15 1.15 0 1 0 2.3 0a1.15 1.15 0 1 0 -2.3 0zM132.95 91.80a1.15 1.15 0 1 0 2.3 0a1.15 1.15 0 1 0 -2.3 0zM132.95 83.00a1.15 1.15 0 1 0 2.3 0a1.15 1.15 0 1 0 -2.3 0zM132.95 74.20a1.15 1.15 0 1 0 2.3 0a1.15 1.15 0 1 0 -2.3 0zM132.95 69.80a1.15 1.15 0 1 0 2.3 0a1.15 1.15 0 1 0 -2.3 0zM132.95 67.60a1.15 1.15 0 1 0 2.3 0a1.15 1.15 0 1 0 -2.3 0zM132.95 65.40a1.15 1.15 0 1 0 2.3 0a1.15 1.15 0 1 0 -2.3 0zM132.95 63.20a1.15 1.15 0 1 0 2.3 0a1.15 1.15 0 1 0 -2.3 0zM132.95 61.00a1.15 1.15 0 1 0 2.3 0a1.15 1.15 0 1 0 -2.3 0zM132.95 58.80a1.15 1.15 0 1 0 2.3 0a1.15 1.15 0 1 0 -2.3 0zM132.95 56.60a1.15 1.15 0 1 0 2.3 0a1.15 1.15 0 1 0 -2.3 0zM132.95 47.80a1.15 1.15 0 1 0 2.3 0a1.15 1.15 0 1 0 -2.3 0zM132.95 41.20a1.15 1.15 0 1 0 2.3 0a1.15 1.15 0 1 0 -2.3 0zM135.15 151.20a1.15 1.15 0 1 0 2.3 0a1.15 1.15 0 1 0 -2.3 0zM135.15 146.80a1.15 1.15 0 1 0 2.3 0a1.15 1.15 0 1 0 -2.3 0zM135.15 142.40a1.15 1.15 0 1 0 2.3 0a1.15 1.15 0 1 0 -2.3 0zM135.15 138.00a1.15 1.15 0 1 0 2.3 0a1.15 1.15 0 1 0 -2.3 0zM135.15 135.80a1.15 1.15 0 1 0 2.3 0a1.15 1.15 0 1 0 -2.3 0zM135.15 133.60a1.15 1.15 0 1 0 2.3 0a1.15 1.15 0 1 0 -2.3 0zM135.15 131.40a1.15 1.15 0 1 0 2.3 0a1.15 1.15 0 1 0 -2.3 0zM135.15 129.20a1.15 1.15 0 1 0 2.3 0a1.15 1.15 0 1 0 -2.3 0zM135.15 127.00a1.15 1.15 0 1 0 2.3 0a1.15 1.15 0 1 0 -2.3 0zM135.15 122.60a1.15 1.15 0 1 0 2.3 0a1.15 1.15 0 1 0 -2.3 0zM135.15 118.20a1.15 1.15 0 1 0 2.3 0a1.15 1.15 0 1 0 -2.3 0zM135.15 116.00a1.15 1.15 0 1 0 2.3 0a1.15 1.15 0 1 0 -2.3 0zM135.15 83.00a1.15 1.15 0 1 0 2.3 0a1.15 1.15 0 1 0 -2.3 0zM135.15 80.80a1.15 1.15 0 1 0 2.3 0a1.15 1.15 0 1 0 -2.3 0zM135.15 78.60a1.15 1.15 0 1 0 2.3 0a1.15 1.15 0 1 0 -2.3 0zM135.15 76.40a1.15 1.15 0 1 0 2.3 0a1.15 1.15 0 1 0 -2.3 0zM135.15 74.20a1.15 1.15 0 1 0 2.3 0a1.15 1.15 0 1 0 -2.3 0zM135.15 69.80a1.15 1.15 0 1 0 2.3 0a1.15 1.15 0 1 0 -2.3 0zM135.15 65.40a1.15 1.15 0 1 0 2.3 0a1.15 1.15 0 1 0 -2.3 0zM135.15 63.20a1.15 1.15 0 1 0 2.3 0a1.15 1.15 0 1 0 -2.3 0zM135.15 61.00a1.15 1.15 0 1 0 2.3 0a1.15 1.15 0 1 0 -2.3 0zM135.15 56.60a1.15 1.15 0 1 0 2.3 0a1.15 1.15 0 1 0 -2.3 0zM135.15 52.20a1.15 1.15 0 1 0 2.3 0a1.15 1.15 0 1 0 -2.3 0zM137.35 151.20a1.15 1.15 0 1 0 2.3 0a1.15 1.15 0 1 0 -2.3 0zM137.35 142.40a1.15 1.15 0 1 0 2.3 0a1.15 1.15 0 1 0 -2.3 0zM137.35 140.20a1.15 1.15 0 1 0 2.3 0a1.15 1.15 0 1 0 -2.3 0zM137.35 138.00a1.15 1.15 0 1 0 2.3 0a1.15 1.15 0 1 0 -2.3 0zM137.35 135.80a1.15 1.15 0 1 0 2.3 0a1.15 1.15 0 1 0 -2.3 0zM137.35 131.40a1.15 1.15 0 1 0 2.3 0a1.15 1.15 0 1 0 -2.3 0zM137.35 129.20a1.15 1.15 0 1 0 2.3 0a1.15 1.15 0 1 0 -2.3 0zM137.35 127.00a1.15 1.15 0 1 0 2.3 0a1.15 1.15 0 1 0 -2.3 0zM137.35 124.80a1.15 1.15 0 1 0 2.3 0a1.15 1.15 0 1 0 -2.3 0zM137.35 122.60a1.15 1.15 0 1 0 2.3 0a1.15 1.15 0 1 0 -2.3 0zM137.35 120.40a1.15 1.15 0 1 0 2.3 0a1.15 1.15 0 1 0 -2.3 0zM137.35 111.60a1.15 1.15 0 1 0 2.3 0a1.15 1.15 0 1 0 -2.3 0zM137.35 78.60a1.15 1.15 0 1 0 2.3 0a1.15 1.15 0 1 0 -2.3 0zM137.35 74.20a1.15 1.15 0 1 0 2.3 0a1.15 1.15 0 1 0 -2.3 0zM137.35 72.00a1.15 1.15 0 1 0 2.3 0a1.15 1.15 0 1 0 -2.3 0zM137.35 67.60a1.15 1.15 0 1 0 2.3 0a1.15 1.15 0 1 0 -2.3 0zM137.35 58.80a1.15 1.15 0 1 0 2.3 0a1.15 1.15 0 1 0 -2.3 0zM137.35 54.40a1.15 1.15 0 1 0 2.3 0a1.15 1.15 0 1 0 -2.3 0zM139.55 144.60a1.15 1.15 0 1 0 2.3 0a1.15 1.15 0 1 0 -2.3 0zM139.55 138.00a1.15 1.15 0 1 0 2.3 0a1.15 1.15 0 1 0 -2.3 0zM139.55 135.80a1.15 1.15 0 1 0 2.3 0a1.15 1.15 0 1 0 -2.3 0zM139.55 133.60a1.15 1.15 0 1 0 2.3 0a1.15 1.15 0 1 0 -2.3 0zM139.55 131.40a1.15 1.15 0 1 0 2.3 0a1.15 1.15 0 1 0 -2.3 0zM139.55 129.20a1.15 1.15 0 1 0 2.3 0a1.15 1.15 0 1 0 -2.3 0zM139.55 122.60a1.15 1.15 0 1 0 2.3 0a1.15 1.15 0 1 0 -2.3 0zM139.55 120.40a1.15 1.15 0 1 0 2.3 0a1.15 1.15 0 1 0 -2.3 0zM139.55 89.60a1.15 1.15 0 1 0 2.3 0a1.15 1.15 0 1 0 -2.3 0zM139.55 80.80a1.15 1.15 0 1 0 2.3 0a1.15 1.15 0 1 0 -2.3 0zM139.55 74.20a1.15 1.15 0 1 0 2.3 0a1.15 1.15 0 1 0 -2.3 0zM139.55 72.00a1.15 1.15 0 1 0 2.3 0a1.15 1.15 0 1 0 -2.3 0zM139.55 69.80a1.15 1.15 0 1 0 2.3 0a1.15 1.15 0 1 0 -2.3 0zM139.55 67.60a1.15 1.15 0 1 0 2.3 0a1.15 1.15 0 1 0 -2.3 0zM139.55 65.40a1.15 1.15 0 1 0 2.3 0a1.15 1.15 0 1 0 -2.3 0zM139.55 63.20a1.15 1.15 0 1 0 2.3 0a1.15 1.15 0 1 0 -2.3 0zM139.55 58.80a1.15 1.15 0 1 0 2.3 0a1.15 1.15 0 1 0 -2.3 0zM139.55 56.60a1.15 1.15 0 1 0 2.3 0a1.15 1.15 0 1 0 -2.3 0zM139.55 54.40a1.15 1.15 0 1 0 2.3 0a1.15 1.15 0 1 0 -2.3 0zM141.75 149.00a1.15 1.15 0 1 0 2.3 0a1.15 1.15 0 1 0 -2.3 0zM141.75 144.60a1.15 1.15 0 1 0 2.3 0a1.15 1.15 0 1 0 -2.3 0zM141.75 140.20a1.15 1.15 0 1 0 2.3 0a1.15 1.15 0 1 0 -2.3 0zM141.75 135.80a1.15 1.15 0 1 0 2.3 0a1.15 1.15 0 1 0 -2.3 0zM141.75 133.60a1.15 1.15 0 1 0 2.3 0a1.15 1.15 0 1 0 -2.3 0zM141.75 129.20a1.15 1.15 0 1 0 2.3 0a1.15 1.15 0 1 0 -2.3 0zM141.75 122.60a1.15 1.15 0 1 0 2.3 0a1.15 1.15 0 1 0 -2.3 0zM141.75 120.40a1.15 1.15 0 1 0 2.3 0a1.15 1.15 0 1 0 -2.3 0zM141.75 78.60a1.15 1.15 0 1 0 2.3 0a1.15 1.15 0 1 0 -2.3 0zM141.75 74.20a1.15 1.15 0 1 0 2.3 0a1.15 1.15 0 1 0 -2.3 0zM141.75 72.00a1.15 1.15 0 1 0 2.3 0a1.15 1.15 0 1 0 -2.3 0zM141.75 69.80a1.15 1.15 0 1 0 2.3 0a1.15 1.15 0 1 0 -2.3 0zM141.75 67.60a1.15 1.15 0 1 0 2.3 0a1.15 1.15 0 1 0 -2.3 0zM141.75 65.40a1.15 1.15 0 1 0 2.3 0a1.15 1.15 0 1 0 -2.3 0zM141.75 63.20a1.15 1.15 0 1 0 2.3 0a1.15 1.15 0 1 0 -2.3 0zM141.75 56.60a1.15 1.15 0 1 0 2.3 0a1.15 1.15 0 1 0 -2.3 0zM143.95 153.40a1.15 1.15 0 1 0 2.3 0a1.15 1.15 0 1 0 -2.3 0zM143.95 149.00a1.15 1.15 0 1 0 2.3 0a1.15 1.15 0 1 0 -2.3 0zM143.95 144.60a1.15 1.15 0 1 0 2.3 0a1.15 1.15 0 1 0 -2.3 0zM143.95 140.20a1.15 1.15 0 1 0 2.3 0a1.15 1.15 0 1 0 -2.3 0zM143.95 138.00a1.15 1.15 0 1 0 2.3 0a1.15 1.15 0 1 0 -2.3 0zM143.95 135.80a1.15 1.15 0 1 0 2.3 0a1.15 1.15 0 1 0 -2.3 0zM143.95 133.60a1.15 1.15 0 1 0 2.3 0a1.15 1.15 0 1 0 -2.3 0zM143.95 131.40a1.15 1.15 0 1 0 2.3 0a1.15 1.15 0 1 0 -2.3 0zM143.95 129.20a1.15 1.15 0 1 0 2.3 0a1.15 1.15 0 1 0 -2.3 0zM143.95 127.00a1.15 1.15 0 1 0 2.3 0a1.15 1.15 0 1 0 -2.3 0zM143.95 118.20a1.15 1.15 0 1 0 2.3 0a1.15 1.15 0 1 0 -2.3 0zM143.95 78.60a1.15 1.15 0 1 0 2.3 0a1.15 1.15 0 1 0 -2.3 0zM143.95 74.20a1.15 1.15 0 1 0 2.3 0a1.15 1.15 0 1 0 -2.3 0zM143.95 72.00a1.15 1.15 0 1 0 2.3 0a1.15 1.15 0 1 0 -2.3 0zM143.95 69.80a1.15 1.15 0 1 0 2.3 0a1.15 1.15 0 1 0 -2.3 0zM143.95 67.60a1.15 1.15 0 1 0 2.3 0a1.15 1.15 0 1 0 -2.3 0zM143.95 65.40a1.15 1.15 0 1 0 2.3 0a1.15 1.15 0 1 0 -2.3 0zM143.95 63.20a1.15 1.15 0 1 0 2.3 0a1.15 1.15 0 1 0 -2.3 0zM143.95 61.00a1.15 1.15 0 1 0 2.3 0a1.15 1.15 0 1 0 -2.3 0zM143.95 58.80a1.15 1.15 0 1 0 2.3 0a1.15 1.15 0 1 0 -2.3 0zM143.95 56.60a1.15 1.15 0 1 0 2.3 0a1.15 1.15 0 1 0 -2.3 0zM143.95 54.40a1.15 1.15 0 1 0 2.3 0a1.15 1.15 0 1 0 -2.3 0zM143.95 45.60a1.15 1.15 0 1 0 2.3 0a1.15 1.15 0 1 0 -2.3 0zM146.15 155.60a1.15 1.15 0 1 0 2.3 0a1.15 1.15 0 1 0 -2.3 0zM146.15 153.40a1.15 1.15 0 1 0 2.3 0a1.15 1.15 0 1 0 -2.3 0zM146.15 144.60a1.15 1.15 0 1 0 2.3 0a1.15 1.15 0 1 0 -2.3 0zM146.15 142.40a1.15 1.15 0 1 0 2.3 0a1.15 1.15 0 1 0 -2.3 0zM146.15 140.20a1.15 1.15 0 1 0 2.3 0a1.15 1.15 0 1 0 -2.3 0zM146.15 138.00a1.15 1.15 0 1 0 2.3 0a1.15 1.15 0 1 0 -2.3 0zM146.15 135.80a1.15 1.15 0 1 0 2.3 0a1.15 1.15 0 1 0 -2.3 0zM146.15 131.40a1.15 1.15 0 1 0 2.3 0a1.15 1.15 0 1 0 -2.3 0zM146.15 127.00a1.15 1.15 0 1 0 2.3 0a1.15 1.15 0 1 0 -2.3 0zM146.15 124.80a1.15 1.15 0 1 0 2.3 0a1.15 1.15 0 1 0 -2.3 0zM146.15 122.60a1.15 1.15 0 1 0 2.3 0a1.15 1.15 0 1 0 -2.3 0zM146.15 120.40a1.15 1.15 0 1 0 2.3 0a1.15 1.15 0 1 0 -2.3 0zM146.15 118.20a1.15 1.15 0 1 0 2.3 0a1.15 1.15 0 1 0 -2.3 0zM146.15 80.80a1.15 1.15 0 1 0 2.3 0a1.15 1.15 0 1 0 -2.3 0zM146.15 78.60a1.15 1.15 0 1 0 2.3 0a1.15 1.15 0 1 0 -2.3 0zM146.15 76.40a1.15 1.15 0 1 0 2.3 0a1.15 1.15 0 1 0 -2.3 0zM146.15 74.20a1.15 1.15 0 1 0 2.3 0a1.15 1.15 0 1 0 -2.3 0zM146.15 69.80a1.15 1.15 0 1 0 2.3 0a1.15 1.15 0 1 0 -2.3 0zM146.15 67.60a1.15 1.15 0 1 0 2.3 0a1.15 1.15 0 1 0 -2.3 0zM146.15 65.40a1.15 1.15 0 1 0 2.3 0a1.15 1.15 0 1 0 -2.3 0zM146.15 63.20a1.15 1.15 0 1 0 2.3 0a1.15 1.15 0 1 0 -2.3 0zM146.15 61.00a1.15 1.15 0 1 0 2.3 0a1.15 1.15 0 1 0 -2.3 0zM146.15 58.80a1.15 1.15 0 1 0 2.3 0a1.15 1.15 0 1 0 -2.3 0zM146.15 56.60a1.15 1.15 0 1 0 2.3 0a1.15 1.15 0 1 0 -2.3 0zM146.15 54.40a1.15 1.15 0 1 0 2.3 0a1.15 1.15 0 1 0 -2.3 0zM146.15 50.00a1.15 1.15 0 1 0 2.3 0a1.15 1.15 0 1 0 -2.3 0zM146.15 43.40a1.15 1.15 0 1 0 2.3 0a1.15 1.15 0 1 0 -2.3 0zM146.15 36.80a1.15 1.15 0 1 0 2.3 0a1.15 1.15 0 1 0 -2.3 0zM148.35 149.00a1.15 1.15 0 1 0 2.3 0a1.15 1.15 0 1 0 -2.3 0zM148.35 146.80a1.15 1.15 0 1 0 2.3 0a1.15 1.15 0 1 0 -2.3 0zM148.35 144.60a1.15 1.15 0 1 0 2.3 0a1.15 1.15 0 1 0 -2.3 0zM148.35 140.20a1.15 1.15 0 1 0 2.3 0a1.15 1.15 0 1 0 -2.3 0zM148.35 138.00a1.15 1.15 0 1 0 2.3 0a1.15 1.15 0 1 0 -2.3 0zM148.35 135.80a1.15 1.15 0 1 0 2.3 0a1.15 1.15 0 1 0 -2.3 0zM148.35 133.60a1.15 1.15 0 1 0 2.3 0a1.15 1.15 0 1 0 -2.3 0zM148.35 129.20a1.15 1.15 0 1 0 2.3 0a1.15 1.15 0 1 0 -2.3 0zM148.35 124.80a1.15 1.15 0 1 0 2.3 0a1.15 1.15 0 1 0 -2.3 0zM148.35 122.60a1.15 1.15 0 1 0 2.3 0a1.15 1.15 0 1 0 -2.3 0zM148.35 118.20a1.15 1.15 0 1 0 2.3 0a1.15 1.15 0 1 0 -2.3 0zM148.35 85.20a1.15 1.15 0 1 0 2.3 0a1.15 1.15 0 1 0 -2.3 0zM148.35 76.40a1.15 1.15 0 1 0 2.3 0a1.15 1.15 0 1 0 -2.3 0zM148.35 72.00a1.15 1.15 0 1 0 2.3 0a1.15 1.15 0 1 0 -2.3 0zM148.35 69.80a1.15 1.15 0 1 0 2.3 0a1.15 1.15 0 1 0 -2.3 0zM148.35 63.20a1.15 1.15 0 1 0 2.3 0a1.15 1.15 0 1 0 -2.3 0zM148.35 58.80a1.15 1.15 0 1 0 2.3 0a1.15 1.15 0 1 0 -2.3 0zM148.35 54.40a1.15 1.15 0 1 0 2.3 0a1.15 1.15 0 1 0 -2.3 0zM148.35 47.80a1.15 1.15 0 1 0 2.3 0a1.15 1.15 0 1 0 -2.3 0zM148.35 41.20a1.15 1.15 0 1 0 2.3 0a1.15 1.15 0 1 0 -2.3 0zM150.55 149.00a1.15 1.15 0 1 0 2.3 0a1.15 1.15 0 1 0 -2.3 0zM150.55 146.80a1.15 1.15 0 1 0 2.3 0a1.15 1.15 0 1 0 -2.3 0zM150.55 144.60a1.15 1.15 0 1 0 2.3 0a1.15 1.15 0 1 0 -2.3 0zM150.55 140.20a1.15 1.15 0 1 0 2.3 0a1.15 1.15 0 1 0 -2.3 0zM150.55 135.80a1.15 1.15 0 1 0 2.3 0a1.15 1.15 0 1 0 -2.3 0zM150.55 133.60a1.15 1.15 0 1 0 2.3 0a1.15 1.15 0 1 0 -2.3 0zM150.55 131.40a1.15 1.15 0 1 0 2.3 0a1.15 1.15 0 1 0 -2.3 0zM150.55 129.20a1.15 1.15 0 1 0 2.3 0a1.15 1.15 0 1 0 -2.3 0zM150.55 76.40a1.15 1.15 0 1 0 2.3 0a1.15 1.15 0 1 0 -2.3 0zM150.55 72.00a1.15 1.15 0 1 0 2.3 0a1.15 1.15 0 1 0 -2.3 0zM150.55 69.80a1.15 1.15 0 1 0 2.3 0a1.15 1.15 0 1 0 -2.3 0zM150.55 67.60a1.15 1.15 0 1 0 2.3 0a1.15 1.15 0 1 0 -2.3 0zM150.55 65.40a1.15 1.15 0 1 0 2.3 0a1.15 1.15 0 1 0 -2.3 0zM150.55 63.20a1.15 1.15 0 1 0 2.3 0a1.15 1.15 0 1 0 -2.3 0zM150.55 61.00a1.15 1.15 0 1 0 2.3 0a1.15 1.15 0 1 0 -2.3 0zM150.55 56.60a1.15 1.15 0 1 0 2.3 0a1.15 1.15 0 1 0 -2.3 0zM150.55 52.20a1.15 1.15 0 1 0 2.3 0a1.15 1.15 0 1 0 -2.3 0zM152.75 157.80a1.15 1.15 0 1 0 2.3 0a1.15 1.15 0 1 0 -2.3 0zM152.75 149.00a1.15 1.15 0 1 0 2.3 0a1.15 1.15 0 1 0 -2.3 0zM152.75 146.80a1.15 1.15 0 1 0 2.3 0a1.15 1.15 0 1 0 -2.3 0zM152.75 138.00a1.15 1.15 0 1 0 2.3 0a1.15 1.15 0 1 0 -2.3 0zM152.75 135.80a1.15 1.15 0 1 0 2.3 0a1.15 1.15 0 1 0 -2.3 0zM152.75 133.60a1.15 1.15 0 1 0 2.3 0a1.15 1.15 0 1 0 -2.3 0zM152.75 131.40a1.15 1.15 0 1 0 2.3 0a1.15 1.15 0 1 0 -2.3 0zM152.75 129.20a1.15 1.15 0 1 0 2.3 0a1.15 1.15 0 1 0 -2.3 0zM152.75 127.00a1.15 1.15 0 1 0 2.3 0a1.15 1.15 0 1 0 -2.3 0zM152.75 124.80a1.15 1.15 0 1 0 2.3 0a1.15 1.15 0 1 0 -2.3 0zM152.75 83.00a1.15 1.15 0 1 0 2.3 0a1.15 1.15 0 1 0 -2.3 0zM152.75 78.60a1.15 1.15 0 1 0 2.3 0a1.15 1.15 0 1 0 -2.3 0zM152.75 76.40a1.15 1.15 0 1 0 2.3 0a1.15 1.15 0 1 0 -2.3 0zM152.75 74.20a1.15 1.15 0 1 0 2.3 0a1.15 1.15 0 1 0 -2.3 0zM152.75 72.00a1.15 1.15 0 1 0 2.3 0a1.15 1.15 0 1 0 -2.3 0zM152.75 67.60a1.15 1.15 0 1 0 2.3 0a1.15 1.15 0 1 0 -2.3 0zM152.75 61.00a1.15 1.15 0 1 0 2.3 0a1.15 1.15 0 1 0 -2.3 0zM152.75 58.80a1.15 1.15 0 1 0 2.3 0a1.15 1.15 0 1 0 -2.3 0zM152.75 43.40a1.15 1.15 0 1 0 2.3 0a1.15 1.15 0 1 0 -2.3 0zM154.95 149.00a1.15 1.15 0 1 0 2.3 0a1.15 1.15 0 1 0 -2.3 0zM154.95 144.60a1.15 1.15 0 1 0 2.3 0a1.15 1.15 0 1 0 -2.3 0zM154.95 140.20a1.15 1.15 0 1 0 2.3 0a1.15 1.15 0 1 0 -2.3 0zM154.95 138.00a1.15 1.15 0 1 0 2.3 0a1.15 1.15 0 1 0 -2.3 0zM154.95 133.60a1.15 1.15 0 1 0 2.3 0a1.15 1.15 0 1 0 -2.3 0zM154.95 131.40a1.15 1.15 0 1 0 2.3 0a1.15 1.15 0 1 0 -2.3 0zM154.95 129.20a1.15 1.15 0 1 0 2.3 0a1.15 1.15 0 1 0 -2.3 0zM154.95 124.80a1.15 1.15 0 1 0 2.3 0a1.15 1.15 0 1 0 -2.3 0zM154.95 120.40a1.15 1.15 0 1 0 2.3 0a1.15 1.15 0 1 0 -2.3 0zM154.95 113.80a1.15 1.15 0 1 0 2.3 0a1.15 1.15 0 1 0 -2.3 0zM154.95 76.40a1.15 1.15 0 1 0 2.3 0a1.15 1.15 0 1 0 -2.3 0zM154.95 74.20a1.15 1.15 0 1 0 2.3 0a1.15 1.15 0 1 0 -2.3 0zM154.95 72.00a1.15 1.15 0 1 0 2.3 0a1.15 1.15 0 1 0 -2.3 0zM154.95 67.60a1.15 1.15 0 1 0 2.3 0a1.15 1.15 0 1 0 -2.3 0zM154.95 65.40a1.15 1.15 0 1 0 2.3 0a1.15 1.15 0 1 0 -2.3 0zM154.95 63.20a1.15 1.15 0 1 0 2.3 0a1.15 1.15 0 1 0 -2.3 0zM154.95 61.00a1.15 1.15 0 1 0 2.3 0a1.15 1.15 0 1 0 -2.3 0zM154.95 43.40a1.15 1.15 0 1 0 2.3 0a1.15 1.15 0 1 0 -2.3 0zM157.15 153.40a1.15 1.15 0 1 0 2.3 0a1.15 1.15 0 1 0 -2.3 0zM157.15 151.20a1.15 1.15 0 1 0 2.3 0a1.15 1.15 0 1 0 -2.3 0zM157.15 144.60a1.15 1.15 0 1 0 2.3 0a1.15 1.15 0 1 0 -2.3 0zM157.15 142.40a1.15 1.15 0 1 0 2.3 0a1.15 1.15 0 1 0 -2.3 0zM157.15 138.00a1.15 1.15 0 1 0 2.3 0a1.15 1.15 0 1 0 -2.3 0zM157.15 135.80a1.15 1.15 0 1 0 2.3 0a1.15 1.15 0 1 0 -2.3 0zM157.15 133.60a1.15 1.15 0 1 0 2.3 0a1.15 1.15 0 1 0 -2.3 0zM157.15 127.00a1.15 1.15 0 1 0 2.3 0a1.15 1.15 0 1 0 -2.3 0zM157.15 124.80a1.15 1.15 0 1 0 2.3 0a1.15 1.15 0 1 0 -2.3 0zM157.15 109.40a1.15 1.15 0 1 0 2.3 0a1.15 1.15 0 1 0 -2.3 0zM157.15 85.20a1.15 1.15 0 1 0 2.3 0a1.15 1.15 0 1 0 -2.3 0zM157.15 83.00a1.15 1.15 0 1 0 2.3 0a1.15 1.15 0 1 0 -2.3 0zM157.15 76.40a1.15 1.15 0 1 0 2.3 0a1.15 1.15 0 1 0 -2.3 0zM157.15 74.20a1.15 1.15 0 1 0 2.3 0a1.15 1.15 0 1 0 -2.3 0zM157.15 72.00a1.15 1.15 0 1 0 2.3 0a1.15 1.15 0 1 0 -2.3 0zM157.15 69.80a1.15 1.15 0 1 0 2.3 0a1.15 1.15 0 1 0 -2.3 0zM157.15 67.60a1.15 1.15 0 1 0 2.3 0a1.15 1.15 0 1 0 -2.3 0zM157.15 65.40a1.15 1.15 0 1 0 2.3 0a1.15 1.15 0 1 0 -2.3 0zM157.15 61.00a1.15 1.15 0 1 0 2.3 0a1.15 1.15 0 1 0 -2.3 0zM157.15 58.80a1.15 1.15 0 1 0 2.3 0a1.15 1.15 0 1 0 -2.3 0zM157.15 56.60a1.15 1.15 0 1 0 2.3 0a1.15 1.15 0 1 0 -2.3 0zM157.15 54.40a1.15 1.15 0 1 0 2.3 0a1.15 1.15 0 1 0 -2.3 0zM157.15 43.40a1.15 1.15 0 1 0 2.3 0a1.15 1.15 0 1 0 -2.3 0zM159.35 151.20a1.15 1.15 0 1 0 2.3 0a1.15 1.15 0 1 0 -2.3 0zM159.35 144.60a1.15 1.15 0 1 0 2.3 0a1.15 1.15 0 1 0 -2.3 0zM159.35 140.20a1.15 1.15 0 1 0 2.3 0a1.15 1.15 0 1 0 -2.3 0zM159.35 138.00a1.15 1.15 0 1 0 2.3 0a1.15 1.15 0 1 0 -2.3 0zM159.35 135.80a1.15 1.15 0 1 0 2.3 0a1.15 1.15 0 1 0 -2.3 0zM159.35 133.60a1.15 1.15 0 1 0 2.3 0a1.15 1.15 0 1 0 -2.3 0zM159.35 131.40a1.15 1.15 0 1 0 2.3 0a1.15 1.15 0 1 0 -2.3 0zM159.35 127.00a1.15 1.15 0 1 0 2.3 0a1.15 1.15 0 1 0 -2.3 0zM159.35 124.80a1.15 1.15 0 1 0 2.3 0a1.15 1.15 0 1 0 -2.3 0zM159.35 122.60a1.15 1.15 0 1 0 2.3 0a1.15 1.15 0 1 0 -2.3 0zM159.35 120.40a1.15 1.15 0 1 0 2.3 0a1.15 1.15 0 1 0 -2.3 0zM159.35 116.00a1.15 1.15 0 1 0 2.3 0a1.15 1.15 0 1 0 -2.3 0zM159.35 78.60a1.15 1.15 0 1 0 2.3 0a1.15 1.15 0 1 0 -2.3 0zM159.35 76.40a1.15 1.15 0 1 0 2.3 0a1.15 1.15 0 1 0 -2.3 0zM159.35 74.20a1.15 1.15 0 1 0 2.3 0a1.15 1.15 0 1 0 -2.3 0zM159.35 69.80a1.15 1.15 0 1 0 2.3 0a1.15 1.15 0 1 0 -2.3 0zM159.35 67.60a1.15 1.15 0 1 0 2.3 0a1.15 1.15 0 1 0 -2.3 0zM159.35 65.40a1.15 1.15 0 1 0 2.3 0a1.15 1.15 0 1 0 -2.3 0zM159.35 63.20a1.15 1.15 0 1 0 2.3 0a1.15 1.15 0 1 0 -2.3 0zM159.35 61.00a1.15 1.15 0 1 0 2.3 0a1.15 1.15 0 1 0 -2.3 0zM159.35 58.80a1.15 1.15 0 1 0 2.3 0a1.15 1.15 0 1 0 -2.3 0zM159.35 56.60a1.15 1.15 0 1 0 2.3 0a1.15 1.15 0 1 0 -2.3 0zM161.55 144.60a1.15 1.15 0 1 0 2.3 0a1.15 1.15 0 1 0 -2.3 0zM161.55 138.00a1.15 1.15 0 1 0 2.3 0a1.15 1.15 0 1 0 -2.3 0zM161.55 135.80a1.15 1.15 0 1 0 2.3 0a1.15 1.15 0 1 0 -2.3 0zM161.55 129.20a1.15 1.15 0 1 0 2.3 0a1.15 1.15 0 1 0 -2.3 0zM161.55 124.80a1.15 1.15 0 1 0 2.3 0a1.15 1.15 0 1 0 -2.3 0zM161.55 122.60a1.15 1.15 0 1 0 2.3 0a1.15 1.15 0 1 0 -2.3 0zM161.55 120.40a1.15 1.15 0 1 0 2.3 0a1.15 1.15 0 1 0 -2.3 0zM161.55 118.20a1.15 1.15 0 1 0 2.3 0a1.15 1.15 0 1 0 -2.3 0zM161.55 113.80a1.15 1.15 0 1 0 2.3 0a1.15 1.15 0 1 0 -2.3 0zM161.55 111.60a1.15 1.15 0 1 0 2.3 0a1.15 1.15 0 1 0 -2.3 0zM161.55 96.20a1.15 1.15 0 1 0 2.3 0a1.15 1.15 0 1 0 -2.3 0zM161.55 91.80a1.15 1.15 0 1 0 2.3 0a1.15 1.15 0 1 0 -2.3 0zM161.55 78.60a1.15 1.15 0 1 0 2.3 0a1.15 1.15 0 1 0 -2.3 0zM161.55 76.40a1.15 1.15 0 1 0 2.3 0a1.15 1.15 0 1 0 -2.3 0zM161.55 72.00a1.15 1.15 0 1 0 2.3 0a1.15 1.15 0 1 0 -2.3 0zM161.55 69.80a1.15 1.15 0 1 0 2.3 0a1.15 1.15 0 1 0 -2.3 0zM161.55 67.60a1.15 1.15 0 1 0 2.3 0a1.15 1.15 0 1 0 -2.3 0zM161.55 65.40a1.15 1.15 0 1 0 2.3 0a1.15 1.15 0 1 0 -2.3 0zM161.55 63.20a1.15 1.15 0 1 0 2.3 0a1.15 1.15 0 1 0 -2.3 0zM161.55 58.80a1.15 1.15 0 1 0 2.3 0a1.15 1.15 0 1 0 -2.3 0zM161.55 50.00a1.15 1.15 0 1 0 2.3 0a1.15 1.15 0 1 0 -2.3 0zM163.75 142.40a1.15 1.15 0 1 0 2.3 0a1.15 1.15 0 1 0 -2.3 0zM163.75 140.20a1.15 1.15 0 1 0 2.3 0a1.15 1.15 0 1 0 -2.3 0zM163.75 138.00a1.15 1.15 0 1 0 2.3 0a1.15 1.15 0 1 0 -2.3 0zM163.75 135.80a1.15 1.15 0 1 0 2.3 0a1.15 1.15 0 1 0 -2.3 0zM163.75 133.60a1.15 1.15 0 1 0 2.3 0a1.15 1.15 0 1 0 -2.3 0zM163.75 131.40a1.15 1.15 0 1 0 2.3 0a1.15 1.15 0 1 0 -2.3 0zM163.75 129.20a1.15 1.15 0 1 0 2.3 0a1.15 1.15 0 1 0 -2.3 0zM163.75 127.00a1.15 1.15 0 1 0 2.3 0a1.15 1.15 0 1 0 -2.3 0zM163.75 124.80a1.15 1.15 0 1 0 2.3 0a1.15 1.15 0 1 0 -2.3 0zM163.75 122.60a1.15 1.15 0 1 0 2.3 0a1.15 1.15 0 1 0 -2.3 0zM163.75 116.00a1.15 1.15 0 1 0 2.3 0a1.15 1.15 0 1 0 -2.3 0zM163.75 111.60a1.15 1.15 0 1 0 2.3 0a1.15 1.15 0 1 0 -2.3 0zM163.75 83.00a1.15 1.15 0 1 0 2.3 0a1.15 1.15 0 1 0 -2.3 0zM163.75 78.60a1.15 1.15 0 1 0 2.3 0a1.15 1.15 0 1 0 -2.3 0zM163.75 76.40a1.15 1.15 0 1 0 2.3 0a1.15 1.15 0 1 0 -2.3 0zM163.75 74.20a1.15 1.15 0 1 0 2.3 0a1.15 1.15 0 1 0 -2.3 0zM163.75 72.00a1.15 1.15 0 1 0 2.3 0a1.15 1.15 0 1 0 -2.3 0zM163.75 50.00a1.15 1.15 0 1 0 2.3 0a1.15 1.15 0 1 0 -2.3 0zM163.75 39.00a1.15 1.15 0 1 0 2.3 0a1.15 1.15 0 1 0 -2.3 0zM165.95 153.40a1.15 1.15 0 1 0 2.3 0a1.15 1.15 0 1 0 -2.3 0zM165.95 149.00a1.15 1.15 0 1 0 2.3 0a1.15 1.15 0 1 0 -2.3 0zM165.95 142.40a1.15 1.15 0 1 0 2.3 0a1.15 1.15 0 1 0 -2.3 0zM165.95 140.20a1.15 1.15 0 1 0 2.3 0a1.15 1.15 0 1 0 -2.3 0zM165.95 131.40a1.15 1.15 0 1 0 2.3 0a1.15 1.15 0 1 0 -2.3 0zM165.95 129.20a1.15 1.15 0 1 0 2.3 0a1.15 1.15 0 1 0 -2.3 0zM165.95 124.80a1.15 1.15 0 1 0 2.3 0a1.15 1.15 0 1 0 -2.3 0zM165.95 100.60a1.15 1.15 0 1 0 2.3 0a1.15 1.15 0 1 0 -2.3 0zM165.95 98.40a1.15 1.15 0 1 0 2.3 0a1.15 1.15 0 1 0 -2.3 0zM165.95 83.00a1.15 1.15 0 1 0 2.3 0a1.15 1.15 0 1 0 -2.3 0zM165.95 80.80a1.15 1.15 0 1 0 2.3 0a1.15 1.15 0 1 0 -2.3 0zM165.95 78.60a1.15 1.15 0 1 0 2.3 0a1.15 1.15 0 1 0 -2.3 0zM165.95 69.80a1.15 1.15 0 1 0 2.3 0a1.15 1.15 0 1 0 -2.3 0zM165.95 63.20a1.15 1.15 0 1 0 2.3 0a1.15 1.15 0 1 0 -2.3 0zM165.95 43.40a1.15 1.15 0 1 0 2.3 0a1.15 1.15 0 1 0 -2.3 0zM168.15 153.40a1.15 1.15 0 1 0 2.3 0a1.15 1.15 0 1 0 -2.3 0zM168.15 151.20a1.15 1.15 0 1 0 2.3 0a1.15 1.15 0 1 0 -2.3 0zM168.15 140.20a1.15 1.15 0 1 0 2.3 0a1.15 1.15 0 1 0 -2.3 0zM168.15 138.00a1.15 1.15 0 1 0 2.3 0a1.15 1.15 0 1 0 -2.3 0zM168.15 135.80a1.15 1.15 0 1 0 2.3 0a1.15 1.15 0 1 0 -2.3 0zM168.15 133.60a1.15 1.15 0 1 0 2.3 0a1.15 1.15 0 1 0 -2.3 0zM168.15 129.20a1.15 1.15 0 1 0 2.3 0a1.15 1.15 0 1 0 -2.3 0zM168.15 127.00a1.15 1.15 0 1 0 2.3 0a1.15 1.15 0 1 0 -2.3 0zM168.15 111.60a1.15 1.15 0 1 0 2.3 0a1.15 1.15 0 1 0 -2.3 0zM168.15 102.80a1.15 1.15 0 1 0 2.3 0a1.15 1.15 0 1 0 -2.3 0zM168.15 98.40a1.15 1.15 0 1 0 2.3 0a1.15 1.15 0 1 0 -2.3 0zM168.15 96.20a1.15 1.15 0 1 0 2.3 0a1.15 1.15 0 1 0 -2.3 0zM168.15 91.80a1.15 1.15 0 1 0 2.3 0a1.15 1.15 0 1 0 -2.3 0zM168.15 85.20a1.15 1.15 0 1 0 2.3 0a1.15 1.15 0 1 0 -2.3 0zM168.15 76.40a1.15 1.15 0 1 0 2.3 0a1.15 1.15 0 1 0 -2.3 0zM168.15 74.20a1.15 1.15 0 1 0 2.3 0a1.15 1.15 0 1 0 -2.3 0zM168.15 72.00a1.15 1.15 0 1 0 2.3 0a1.15 1.15 0 1 0 -2.3 0zM168.15 69.80a1.15 1.15 0 1 0 2.3 0a1.15 1.15 0 1 0 -2.3 0zM168.15 63.20a1.15 1.15 0 1 0 2.3 0a1.15 1.15 0 1 0 -2.3 0zM168.15 61.00a1.15 1.15 0 1 0 2.3 0a1.15 1.15 0 1 0 -2.3 0zM168.15 58.80a1.15 1.15 0 1 0 2.3 0a1.15 1.15 0 1 0 -2.3 0zM168.15 52.20a1.15 1.15 0 1 0 2.3 0a1.15 1.15 0 1 0 -2.3 0zM170.35 155.60a1.15 1.15 0 1 0 2.3 0a1.15 1.15 0 1 0 -2.3 0zM170.35 153.40a1.15 1.15 0 1 0 2.3 0a1.15 1.15 0 1 0 -2.3 0zM170.35 146.80a1.15 1.15 0 1 0 2.3 0a1.15 1.15 0 1 0 -2.3 0zM170.35 140.20a1.15 1.15 0 1 0 2.3 0a1.15 1.15 0 1 0 -2.3 0zM170.35 135.80a1.15 1.15 0 1 0 2.3 0a1.15 1.15 0 1 0 -2.3 0zM170.35 131.40a1.15 1.15 0 1 0 2.3 0a1.15 1.15 0 1 0 -2.3 0zM170.35 129.20a1.15 1.15 0 1 0 2.3 0a1.15 1.15 0 1 0 -2.3 0zM170.35 127.00a1.15 1.15 0 1 0 2.3 0a1.15 1.15 0 1 0 -2.3 0zM170.35 122.60a1.15 1.15 0 1 0 2.3 0a1.15 1.15 0 1 0 -2.3 0zM170.35 120.40a1.15 1.15 0 1 0 2.3 0a1.15 1.15 0 1 0 -2.3 0zM170.35 118.20a1.15 1.15 0 1 0 2.3 0a1.15 1.15 0 1 0 -2.3 0zM170.35 113.80a1.15 1.15 0 1 0 2.3 0a1.15 1.15 0 1 0 -2.3 0zM170.35 91.80a1.15 1.15 0 1 0 2.3 0a1.15 1.15 0 1 0 -2.3 0zM170.35 85.20a1.15 1.15 0 1 0 2.3 0a1.15 1.15 0 1 0 -2.3 0zM170.35 80.80a1.15 1.15 0 1 0 2.3 0a1.15 1.15 0 1 0 -2.3 0zM170.35 78.60a1.15 1.15 0 1 0 2.3 0a1.15 1.15 0 1 0 -2.3 0zM170.35 69.80a1.15 1.15 0 1 0 2.3 0a1.15 1.15 0 1 0 -2.3 0zM170.35 63.20a1.15 1.15 0 1 0 2.3 0a1.15 1.15 0 1 0 -2.3 0zM172.55 144.60a1.15 1.15 0 1 0 2.3 0a1.15 1.15 0 1 0 -2.3 0zM172.55 135.80a1.15 1.15 0 1 0 2.3 0a1.15 1.15 0 1 0 -2.3 0zM172.55 133.60a1.15 1.15 0 1 0 2.3 0a1.15 1.15 0 1 0 -2.3 0zM172.55 124.80a1.15 1.15 0 1 0 2.3 0a1.15 1.15 0 1 0 -2.3 0zM172.55 122.60a1.15 1.15 0 1 0 2.3 0a1.15 1.15 0 1 0 -2.3 0zM172.55 111.60a1.15 1.15 0 1 0 2.3 0a1.15 1.15 0 1 0 -2.3 0zM172.55 107.20a1.15 1.15 0 1 0 2.3 0a1.15 1.15 0 1 0 -2.3 0zM172.55 100.60a1.15 1.15 0 1 0 2.3 0a1.15 1.15 0 1 0 -2.3 0zM172.55 91.80a1.15 1.15 0 1 0 2.3 0a1.15 1.15 0 1 0 -2.3 0zM172.55 83.00a1.15 1.15 0 1 0 2.3 0a1.15 1.15 0 1 0 -2.3 0zM172.55 78.60a1.15 1.15 0 1 0 2.3 0a1.15 1.15 0 1 0 -2.3 0zM172.55 76.40a1.15 1.15 0 1 0 2.3 0a1.15 1.15 0 1 0 -2.3 0zM172.55 74.20a1.15 1.15 0 1 0 2.3 0a1.15 1.15 0 1 0 -2.3 0zM172.55 72.00a1.15 1.15 0 1 0 2.3 0a1.15 1.15 0 1 0 -2.3 0zM172.55 69.80a1.15 1.15 0 1 0 2.3 0a1.15 1.15 0 1 0 -2.3 0zM172.55 65.40a1.15 1.15 0 1 0 2.3 0a1.15 1.15 0 1 0 -2.3 0zM172.55 61.00a1.15 1.15 0 1 0 2.3 0a1.15 1.15 0 1 0 -2.3 0zM172.55 56.60a1.15 1.15 0 1 0 2.3 0a1.15 1.15 0 1 0 -2.3 0zM174.75 149.00a1.15 1.15 0 1 0 2.3 0a1.15 1.15 0 1 0 -2.3 0zM174.75 146.80a1.15 1.15 0 1 0 2.3 0a1.15 1.15 0 1 0 -2.3 0zM174.75 140.20a1.15 1.15 0 1 0 2.3 0a1.15 1.15 0 1 0 -2.3 0zM174.75 133.60a1.15 1.15 0 1 0 2.3 0a1.15 1.15 0 1 0 -2.3 0zM174.75 127.00a1.15 1.15 0 1 0 2.3 0a1.15 1.15 0 1 0 -2.3 0zM174.75 120.40a1.15 1.15 0 1 0 2.3 0a1.15 1.15 0 1 0 -2.3 0zM174.75 116.00a1.15 1.15 0 1 0 2.3 0a1.15 1.15 0 1 0 -2.3 0zM174.75 113.80a1.15 1.15 0 1 0 2.3 0a1.15 1.15 0 1 0 -2.3 0zM174.75 111.60a1.15 1.15 0 1 0 2.3 0a1.15 1.15 0 1 0 -2.3 0zM174.75 109.40a1.15 1.15 0 1 0 2.3 0a1.15 1.15 0 1 0 -2.3 0zM174.75 98.40a1.15 1.15 0 1 0 2.3 0a1.15 1.15 0 1 0 -2.3 0zM174.75 96.20a1.15 1.15 0 1 0 2.3 0a1.15 1.15 0 1 0 -2.3 0zM174.75 91.80a1.15 1.15 0 1 0 2.3 0a1.15 1.15 0 1 0 -2.3 0zM174.75 87.40a1.15 1.15 0 1 0 2.3 0a1.15 1.15 0 1 0 -2.3 0zM174.75 85.20a1.15 1.15 0 1 0 2.3 0a1.15 1.15 0 1 0 -2.3 0zM174.75 83.00a1.15 1.15 0 1 0 2.3 0a1.15 1.15 0 1 0 -2.3 0zM174.75 74.20a1.15 1.15 0 1 0 2.3 0a1.15 1.15 0 1 0 -2.3 0zM174.75 72.00a1.15 1.15 0 1 0 2.3 0a1.15 1.15 0 1 0 -2.3 0zM174.75 67.60a1.15 1.15 0 1 0 2.3 0a1.15 1.15 0 1 0 -2.3 0zM174.75 61.00a1.15 1.15 0 1 0 2.3 0a1.15 1.15 0 1 0 -2.3 0zM174.75 56.60a1.15 1.15 0 1 0 2.3 0a1.15 1.15 0 1 0 -2.3 0zM174.75 52.20a1.15 1.15 0 1 0 2.3 0a1.15 1.15 0 1 0 -2.3 0zM174.75 47.80a1.15 1.15 0 1 0 2.3 0a1.15 1.15 0 1 0 -2.3 0zM176.95 153.40a1.15 1.15 0 1 0 2.3 0a1.15 1.15 0 1 0 -2.3 0zM176.95 140.20a1.15 1.15 0 1 0 2.3 0a1.15 1.15 0 1 0 -2.3 0zM176.95 135.80a1.15 1.15 0 1 0 2.3 0a1.15 1.15 0 1 0 -2.3 0zM176.95 131.40a1.15 1.15 0 1 0 2.3 0a1.15 1.15 0 1 0 -2.3 0zM176.95 129.20a1.15 1.15 0 1 0 2.3 0a1.15 1.15 0 1 0 -2.3 0zM176.95 127.00a1.15 1.15 0 1 0 2.3 0a1.15 1.15 0 1 0 -2.3 0zM176.95 124.80a1.15 1.15 0 1 0 2.3 0a1.15 1.15 0 1 0 -2.3 0zM176.95 122.60a1.15 1.15 0 1 0 2.3 0a1.15 1.15 0 1 0 -2.3 0zM176.95 120.40a1.15 1.15 0 1 0 2.3 0a1.15 1.15 0 1 0 -2.3 0zM176.95 118.20a1.15 1.15 0 1 0 2.3 0a1.15 1.15 0 1 0 -2.3 0zM176.95 113.80a1.15 1.15 0 1 0 2.3 0a1.15 1.15 0 1 0 -2.3 0zM176.95 111.60a1.15 1.15 0 1 0 2.3 0a1.15 1.15 0 1 0 -2.3 0zM176.95 107.20a1.15 1.15 0 1 0 2.3 0a1.15 1.15 0 1 0 -2.3 0zM176.95 102.80a1.15 1.15 0 1 0 2.3 0a1.15 1.15 0 1 0 -2.3 0zM176.95 89.60a1.15 1.15 0 1 0 2.3 0a1.15 1.15 0 1 0 -2.3 0zM176.95 87.40a1.15 1.15 0 1 0 2.3 0a1.15 1.15 0 1 0 -2.3 0zM176.95 85.20a1.15 1.15 0 1 0 2.3 0a1.15 1.15 0 1 0 -2.3 0zM176.95 83.00a1.15 1.15 0 1 0 2.3 0a1.15 1.15 0 1 0 -2.3 0zM176.95 80.80a1.15 1.15 0 1 0 2.3 0a1.15 1.15 0 1 0 -2.3 0zM176.95 78.60a1.15 1.15 0 1 0 2.3 0a1.15 1.15 0 1 0 -2.3 0zM176.95 76.40a1.15 1.15 0 1 0 2.3 0a1.15 1.15 0 1 0 -2.3 0zM176.95 69.80a1.15 1.15 0 1 0 2.3 0a1.15 1.15 0 1 0 -2.3 0zM176.95 67.60a1.15 1.15 0 1 0 2.3 0a1.15 1.15 0 1 0 -2.3 0zM176.95 65.40a1.15 1.15 0 1 0 2.3 0a1.15 1.15 0 1 0 -2.3 0zM176.95 63.20a1.15 1.15 0 1 0 2.3 0a1.15 1.15 0 1 0 -2.3 0zM179.15 138.00a1.15 1.15 0 1 0 2.3 0a1.15 1.15 0 1 0 -2.3 0zM179.15 133.60a1.15 1.15 0 1 0 2.3 0a1.15 1.15 0 1 0 -2.3 0zM179.15 131.40a1.15 1.15 0 1 0 2.3 0a1.15 1.15 0 1 0 -2.3 0zM179.15 129.20a1.15 1.15 0 1 0 2.3 0a1.15 1.15 0 1 0 -2.3 0zM179.15 124.80a1.15 1.15 0 1 0 2.3 0a1.15 1.15 0 1 0 -2.3 0zM179.15 122.60a1.15 1.15 0 1 0 2.3 0a1.15 1.15 0 1 0 -2.3 0zM179.15 118.20a1.15 1.15 0 1 0 2.3 0a1.15 1.15 0 1 0 -2.3 0zM179.15 109.40a1.15 1.15 0 1 0 2.3 0a1.15 1.15 0 1 0 -2.3 0zM179.15 107.20a1.15 1.15 0 1 0 2.3 0a1.15 1.15 0 1 0 -2.3 0zM179.15 100.60a1.15 1.15 0 1 0 2.3 0a1.15 1.15 0 1 0 -2.3 0zM179.15 98.40a1.15 1.15 0 1 0 2.3 0a1.15 1.15 0 1 0 -2.3 0zM179.15 94.00a1.15 1.15 0 1 0 2.3 0a1.15 1.15 0 1 0 -2.3 0zM179.15 87.40a1.15 1.15 0 1 0 2.3 0a1.15 1.15 0 1 0 -2.3 0zM179.15 85.20a1.15 1.15 0 1 0 2.3 0a1.15 1.15 0 1 0 -2.3 0zM179.15 80.80a1.15 1.15 0 1 0 2.3 0a1.15 1.15 0 1 0 -2.3 0zM179.15 78.60a1.15 1.15 0 1 0 2.3 0a1.15 1.15 0 1 0 -2.3 0zM179.15 74.20a1.15 1.15 0 1 0 2.3 0a1.15 1.15 0 1 0 -2.3 0zM179.15 67.60a1.15 1.15 0 1 0 2.3 0a1.15 1.15 0 1 0 -2.3 0zM179.15 63.20a1.15 1.15 0 1 0 2.3 0a1.15 1.15 0 1 0 -2.3 0zM179.15 54.40a1.15 1.15 0 1 0 2.3 0a1.15 1.15 0 1 0 -2.3 0zM179.15 52.20a1.15 1.15 0 1 0 2.3 0a1.15 1.15 0 1 0 -2.3 0zM181.35 151.20a1.15 1.15 0 1 0 2.3 0a1.15 1.15 0 1 0 -2.3 0zM181.35 138.00a1.15 1.15 0 1 0 2.3 0a1.15 1.15 0 1 0 -2.3 0zM181.35 131.40a1.15 1.15 0 1 0 2.3 0a1.15 1.15 0 1 0 -2.3 0zM181.35 129.20a1.15 1.15 0 1 0 2.3 0a1.15 1.15 0 1 0 -2.3 0zM181.35 122.60a1.15 1.15 0 1 0 2.3 0a1.15 1.15 0 1 0 -2.3 0zM181.35 120.40a1.15 1.15 0 1 0 2.3 0a1.15 1.15 0 1 0 -2.3 0zM181.35 118.20a1.15 1.15 0 1 0 2.3 0a1.15 1.15 0 1 0 -2.3 0zM181.35 116.00a1.15 1.15 0 1 0 2.3 0a1.15 1.15 0 1 0 -2.3 0zM181.35 102.80a1.15 1.15 0 1 0 2.3 0a1.15 1.15 0 1 0 -2.3 0zM181.35 98.40a1.15 1.15 0 1 0 2.3 0a1.15 1.15 0 1 0 -2.3 0zM181.35 96.20a1.15 1.15 0 1 0 2.3 0a1.15 1.15 0 1 0 -2.3 0zM181.35 94.00a1.15 1.15 0 1 0 2.3 0a1.15 1.15 0 1 0 -2.3 0zM181.35 91.80a1.15 1.15 0 1 0 2.3 0a1.15 1.15 0 1 0 -2.3 0zM181.35 89.60a1.15 1.15 0 1 0 2.3 0a1.15 1.15 0 1 0 -2.3 0zM181.35 87.40a1.15 1.15 0 1 0 2.3 0a1.15 1.15 0 1 0 -2.3 0zM181.35 85.20a1.15 1.15 0 1 0 2.3 0a1.15 1.15 0 1 0 -2.3 0zM181.35 80.80a1.15 1.15 0 1 0 2.3 0a1.15 1.15 0 1 0 -2.3 0zM181.35 78.60a1.15 1.15 0 1 0 2.3 0a1.15 1.15 0 1 0 -2.3 0zM181.35 76.40a1.15 1.15 0 1 0 2.3 0a1.15 1.15 0 1 0 -2.3 0zM181.35 69.80a1.15 1.15 0 1 0 2.3 0a1.15 1.15 0 1 0 -2.3 0zM181.35 52.20a1.15 1.15 0 1 0 2.3 0a1.15 1.15 0 1 0 -2.3 0zM181.35 47.80a1.15 1.15 0 1 0 2.3 0a1.15 1.15 0 1 0 -2.3 0zM183.55 151.20a1.15 1.15 0 1 0 2.3 0a1.15 1.15 0 1 0 -2.3 0zM183.55 144.60a1.15 1.15 0 1 0 2.3 0a1.15 1.15 0 1 0 -2.3 0zM183.55 142.40a1.15 1.15 0 1 0 2.3 0a1.15 1.15 0 1 0 -2.3 0zM183.55 133.60a1.15 1.15 0 1 0 2.3 0a1.15 1.15 0 1 0 -2.3 0zM183.55 131.40a1.15 1.15 0 1 0 2.3 0a1.15 1.15 0 1 0 -2.3 0zM183.55 129.20a1.15 1.15 0 1 0 2.3 0a1.15 1.15 0 1 0 -2.3 0zM183.55 127.00a1.15 1.15 0 1 0 2.3 0a1.15 1.15 0 1 0 -2.3 0zM183.55 124.80a1.15 1.15 0 1 0 2.3 0a1.15 1.15 0 1 0 -2.3 0zM183.55 122.60a1.15 1.15 0 1 0 2.3 0a1.15 1.15 0 1 0 -2.3 0zM183.55 118.20a1.15 1.15 0 1 0 2.3 0a1.15 1.15 0 1 0 -2.3 0zM183.55 116.00a1.15 1.15 0 1 0 2.3 0a1.15 1.15 0 1 0 -2.3 0zM183.55 113.80a1.15 1.15 0 1 0 2.3 0a1.15 1.15 0 1 0 -2.3 0zM183.55 111.60a1.15 1.15 0 1 0 2.3 0a1.15 1.15 0 1 0 -2.3 0zM183.55 109.40a1.15 1.15 0 1 0 2.3 0a1.15 1.15 0 1 0 -2.3 0zM183.55 105.00a1.15 1.15 0 1 0 2.3 0a1.15 1.15 0 1 0 -2.3 0zM183.55 102.80a1.15 1.15 0 1 0 2.3 0a1.15 1.15 0 1 0 -2.3 0zM183.55 100.60a1.15 1.15 0 1 0 2.3 0a1.15 1.15 0 1 0 -2.3 0zM183.55 98.40a1.15 1.15 0 1 0 2.3 0a1.15 1.15 0 1 0 -2.3 0zM183.55 94.00a1.15 1.15 0 1 0 2.3 0a1.15 1.15 0 1 0 -2.3 0zM183.55 91.80a1.15 1.15 0 1 0 2.3 0a1.15 1.15 0 1 0 -2.3 0zM183.55 89.60a1.15 1.15 0 1 0 2.3 0a1.15 1.15 0 1 0 -2.3 0zM183.55 83.00a1.15 1.15 0 1 0 2.3 0a1.15 1.15 0 1 0 -2.3 0zM183.55 76.40a1.15 1.15 0 1 0 2.3 0a1.15 1.15 0 1 0 -2.3 0zM183.55 74.20a1.15 1.15 0 1 0 2.3 0a1.15 1.15 0 1 0 -2.3 0zM183.55 69.80a1.15 1.15 0 1 0 2.3 0a1.15 1.15 0 1 0 -2.3 0zM183.55 63.20a1.15 1.15 0 1 0 2.3 0a1.15 1.15 0 1 0 -2.3 0zM185.75 133.60a1.15 1.15 0 1 0 2.3 0a1.15 1.15 0 1 0 -2.3 0zM185.75 129.20a1.15 1.15 0 1 0 2.3 0a1.15 1.15 0 1 0 -2.3 0zM185.75 124.80a1.15 1.15 0 1 0 2.3 0a1.15 1.15 0 1 0 -2.3 0zM185.75 122.60a1.15 1.15 0 1 0 2.3 0a1.15 1.15 0 1 0 -2.3 0zM185.75 118.20a1.15 1.15 0 1 0 2.3 0a1.15 1.15 0 1 0 -2.3 0zM185.75 116.00a1.15 1.15 0 1 0 2.3 0a1.15 1.15 0 1 0 -2.3 0zM185.75 109.40a1.15 1.15 0 1 0 2.3 0a1.15 1.15 0 1 0 -2.3 0zM185.75 107.20a1.15 1.15 0 1 0 2.3 0a1.15 1.15 0 1 0 -2.3 0zM185.75 102.80a1.15 1.15 0 1 0 2.3 0a1.15 1.15 0 1 0 -2.3 0zM185.75 98.40a1.15 1.15 0 1 0 2.3 0a1.15 1.15 0 1 0 -2.3 0zM185.75 94.00a1.15 1.15 0 1 0 2.3 0a1.15 1.15 0 1 0 -2.3 0zM185.75 91.80a1.15 1.15 0 1 0 2.3 0a1.15 1.15 0 1 0 -2.3 0zM185.75 89.60a1.15 1.15 0 1 0 2.3 0a1.15 1.15 0 1 0 -2.3 0zM185.75 87.40a1.15 1.15 0 1 0 2.3 0a1.15 1.15 0 1 0 -2.3 0zM185.75 85.20a1.15 1.15 0 1 0 2.3 0a1.15 1.15 0 1 0 -2.3 0zM185.75 83.00a1.15 1.15 0 1 0 2.3 0a1.15 1.15 0 1 0 -2.3 0zM185.75 76.40a1.15 1.15 0 1 0 2.3 0a1.15 1.15 0 1 0 -2.3 0zM185.75 72.00a1.15 1.15 0 1 0 2.3 0a1.15 1.15 0 1 0 -2.3 0zM187.95 144.60a1.15 1.15 0 1 0 2.3 0a1.15 1.15 0 1 0 -2.3 0zM187.95 129.20a1.15 1.15 0 1 0 2.3 0a1.15 1.15 0 1 0 -2.3 0zM187.95 124.80a1.15 1.15 0 1 0 2.3 0a1.15 1.15 0 1 0 -2.3 0zM187.95 122.60a1.15 1.15 0 1 0 2.3 0a1.15 1.15 0 1 0 -2.3 0zM187.95 120.40a1.15 1.15 0 1 0 2.3 0a1.15 1.15 0 1 0 -2.3 0zM187.95 118.20a1.15 1.15 0 1 0 2.3 0a1.15 1.15 0 1 0 -2.3 0zM187.95 116.00a1.15 1.15 0 1 0 2.3 0a1.15 1.15 0 1 0 -2.3 0zM187.95 111.60a1.15 1.15 0 1 0 2.3 0a1.15 1.15 0 1 0 -2.3 0zM187.95 105.00a1.15 1.15 0 1 0 2.3 0a1.15 1.15 0 1 0 -2.3 0zM187.95 102.80a1.15 1.15 0 1 0 2.3 0a1.15 1.15 0 1 0 -2.3 0zM187.95 83.00a1.15 1.15 0 1 0 2.3 0a1.15 1.15 0 1 0 -2.3 0zM187.95 74.20a1.15 1.15 0 1 0 2.3 0a1.15 1.15 0 1 0 -2.3 0zM187.95 69.80a1.15 1.15 0 1 0 2.3 0a1.15 1.15 0 1 0 -2.3 0zM187.95 61.00a1.15 1.15 0 1 0 2.3 0a1.15 1.15 0 1 0 -2.3 0zM190.15 127.00a1.15 1.15 0 1 0 2.3 0a1.15 1.15 0 1 0 -2.3 0zM190.15 124.80a1.15 1.15 0 1 0 2.3 0a1.15 1.15 0 1 0 -2.3 0zM190.15 118.20a1.15 1.15 0 1 0 2.3 0a1.15 1.15 0 1 0 -2.3 0zM190.15 116.00a1.15 1.15 0 1 0 2.3 0a1.15 1.15 0 1 0 -2.3 0zM190.15 109.40a1.15 1.15 0 1 0 2.3 0a1.15 1.15 0 1 0 -2.3 0zM190.15 105.00a1.15 1.15 0 1 0 2.3 0a1.15 1.15 0 1 0 -2.3 0zM190.15 102.80a1.15 1.15 0 1 0 2.3 0a1.15 1.15 0 1 0 -2.3 0zM190.15 98.40a1.15 1.15 0 1 0 2.3 0a1.15 1.15 0 1 0 -2.3 0zM190.15 94.00a1.15 1.15 0 1 0 2.3 0a1.15 1.15 0 1 0 -2.3 0zM190.15 91.80a1.15 1.15 0 1 0 2.3 0a1.15 1.15 0 1 0 -2.3 0zM190.15 87.40a1.15 1.15 0 1 0 2.3 0a1.15 1.15 0 1 0 -2.3 0zM190.15 85.20a1.15 1.15 0 1 0 2.3 0a1.15 1.15 0 1 0 -2.3 0zM190.15 74.20a1.15 1.15 0 1 0 2.3 0a1.15 1.15 0 1 0 -2.3 0zM190.15 72.00a1.15 1.15 0 1 0 2.3 0a1.15 1.15 0 1 0 -2.3 0zM192.35 133.60a1.15 1.15 0 1 0 2.3 0a1.15 1.15 0 1 0 -2.3 0zM192.35 131.40a1.15 1.15 0 1 0 2.3 0a1.15 1.15 0 1 0 -2.3 0zM192.35 116.00a1.15 1.15 0 1 0 2.3 0a1.15 1.15 0 1 0 -2.3 0zM192.35 109.40a1.15 1.15 0 1 0 2.3 0a1.15 1.15 0 1 0 -2.3 0zM194.55 142.40a1.15 1.15 0 1 0 2.3 0a1.15 1.15 0 1 0 -2.3 0zM194.55 129.20a1.15 1.15 0 1 0 2.3 0a1.15 1.15 0 1 0 -2.3 0zM194.55 122.60a1.15 1.15 0 1 0 2.3 0a1.15 1.15 0 1 0 -2.3 0zM194.55 113.80a1.15 1.15 0 1 0 2.3 0a1.15 1.15 0 1 0 -2.3 0zM194.55 96.20a1.15 1.15 0 1 0 2.3 0a1.15 1.15 0 1 0 -2.3 0zM194.55 91.80a1.15 1.15 0 1 0 2.3 0a1.15 1.15 0 1 0 -2.3 0zM194.55 87.40a1.15 1.15 0 1 0 2.3 0a1.15 1.15 0 1 0 -2.3 0zM194.55 85.20a1.15 1.15 0 1 0 2.3 0a1.15 1.15 0 1 0 -2.3 0zM194.55 80.80a1.15 1.15 0 1 0 2.3 0a1.15 1.15 0 1 0 -2.3 0zM196.75 140.20a1.15 1.15 0 1 0 2.3 0a1.15 1.15 0 1 0 -2.3 0zM196.75 131.40a1.15 1.15 0 1 0 2.3 0a1.15 1.15 0 1 0 -2.3 0zM196.75 111.60a1.15 1.15 0 1 0 2.3 0a1.15 1.15 0 1 0 -2.3 0zM196.75 107.20a1.15 1.15 0 1 0 2.3 0a1.15 1.15 0 1 0 -2.3 0zM196.75 105.00a1.15 1.15 0 1 0 2.3 0a1.15 1.15 0 1 0 -2.3 0zM196.75 102.80a1.15 1.15 0 1 0 2.3 0a1.15 1.15 0 1 0 -2.3 0zM196.75 96.20a1.15 1.15 0 1 0 2.3 0a1.15 1.15 0 1 0 -2.3 0zM196.75 87.40a1.15 1.15 0 1 0 2.3 0a1.15 1.15 0 1 0 -2.3 0zM198.95 135.80a1.15 1.15 0 1 0 2.3 0a1.15 1.15 0 1 0 -2.3 0zM198.95 116.00a1.15 1.15 0 1 0 2.3 0a1.15 1.15 0 1 0 -2.3 0zM198.95 113.80a1.15 1.15 0 1 0 2.3 0a1.15 1.15 0 1 0 -2.3 0zM198.95 102.80a1.15 1.15 0 1 0 2.3 0a1.15 1.15 0 1 0 -2.3 0zM198.95 100.60a1.15 1.15 0 1 0 2.3 0a1.15 1.15 0 1 0 -2.3 0zM201.15 129.20a1.15 1.15 0 1 0 2.3 0a1.15 1.15 0 1 0 -2.3 0zM201.15 116.00a1.15 1.15 0 1 0 2.3 0a1.15 1.15 0 1 0 -2.3 0zM201.15 109.40a1.15 1.15 0 1 0 2.3 0a1.15 1.15 0 1 0 -2.3 0zM201.15 107.20a1.15 1.15 0 1 0 2.3 0a1.15 1.15 0 1 0 -2.3 0zM201.15 102.80a1.15 1.15 0 1 0 2.3 0a1.15 1.15 0 1 0 -2.3 0zM201.15 91.80a1.15 1.15 0 1 0 2.3 0a1.15 1.15 0 1 0 -2.3 0zM201.15 89.60a1.15 1.15 0 1 0 2.3 0a1.15 1.15 0 1 0 -2.3 0zM203.35 118.20a1.15 1.15 0 1 0 2.3 0a1.15 1.15 0 1 0 -2.3 0zM205.55 102.80a1.15 1.15 0 1 0 2.3 0a1.15 1.15 0 1 0 -2.3 0zM205.55 100.60a1.15 1.15 0 1 0 2.3 0a1.15 1.15 0 1 0 -2.3 0zM207.75 124.80a1.15 1.15 0 1 0 2.3 0a1.15 1.15 0 1 0 -2.3 0zM207.75 111.60a1.15 1.15 0 1 0 2.3 0a1.15 1.15 0 1 0 -2.3 0zM207.75 87.40a1.15 1.15 0 1 0 2.3 0a1.15 1.15 0 1 0 -2.3 0zM209.95 56.60a1.15 1.15 0 1 0 2.3 0a1.15 1.15 0 1 0 -2.3 0zM212.15 127.00a1.15 1.15 0 1 0 2.3 0a1.15 1.15 0 1 0 -2.3 0zM214.35 120.40a1.15 1.15 0 1 0 2.3 0a1.15 1.15 0 1 0 -2.3 0zM77.95 69.80a1.15 1.15 0 1 0 2.3 0a1.15 1.15 0 1 0 -2.3 0zM86.75 72.00a1.15 1.15 0 1 0 2.3 0a1.15 1.15 0 1 0 -2.3 0zM212.15 74.20a1.15 1.15 0 1 0 2.3 0a1.15 1.15 0 1 0 -2.3 0zM212.15 102.80a1.15 1.15 0 1 0 2.3 0a1.15 1.15 0 1 0 -2.3 0zM218.75 102.80a1.15 1.15 0 1 0 2.3 0a1.15 1.15 0 1 0 -2.3 0zM86.75 120.40a1.15 1.15 0 1 0 2.3 0a1.15 1.15 0 1 0 -2.3 0zM86.75 122.60a1.15 1.15 0 1 0 2.3 0a1.15 1.15 0 1 0 -2.3 0zM126.35 157.80a1.15 1.15 0 1 0 2.3 0a1.15 1.15 0 1 0 -2.3 0zM139.55 162.20a1.15 1.15 0 1 0 2.3 0a1.15 1.15 0 1 0 -2.3 0zM154.95 162.20a1.15 1.15 0 1 0 2.3 0a1.15 1.15 0 1 0 -2.3 0zM172.55 162.20a1.15 1.15 0 1 0 2.3 0a1.15 1.15 0 1 0 -2.3 0zM187.95 162.20a1.15 1.15 0 1 0 2.3 0a1.15 1.15 0 1 0 -2.3 0zM165.95 41.20a1.15 1.15 0 1 0 2.3 0a1.15 1.15 0 1 0 -2.3 0zM124.15 45.60a1.15 1.15 0 1 0 2.3 0a1.15 1.15 0 1 0 -2.3 0zM203.35 107.20a1.15 1.15 0 1 0 2.3 0a1.15 1.15 0 1 0 -2.3 0zM93.35 140.20a1.15 1.15 0 1 0 2.3 0a1.15 1.15 0 1 0 -2.3 0zM196.75 149.00a1.15 1.15 0 1 0 2.3 0a1.15 1.15 0 1 0 -2.3 0z" fill="#000"/><circle cx="149.80" cy="100.60" r="40.6" fill="none" stroke="#f00" stroke-width="2.8"/><path d="M147.2 98.3L151.8 102.89999999999999M151.8 98.3L147.2 102.89999999999999" stroke="#111" stroke-width="1.1"/><line x1="61.50" y1="274.30" x2="61.50" y2="323.00" stroke="#555" stroke-width="1.0"/><line x1="57.00" y1="274.30" x2="61.50" y2="274.30" stroke="#555" stroke-width="1.0"/><line x1="59.00" y1="296.50" x2="61.50" y2="296.50" stroke="#555" stroke-width="1.0"/><text x="49.90" y="279.60" font-size="15.2" text-anchor="end">200</text><text x="49.90" y="324.00" font-size="15.2" text-anchor="end">0</text><rect x="99.80" y="317.30" width="5.50" height="1.40" fill="#c0ffff" stroke="#4d6b6b" stroke-width="0.9"/><rect x="105.30" y="315.90" width="5.50" height="2.80" fill="#c0ffff" stroke="#4d6b6b" stroke-width="0.9"/><rect x="110.80" y="313.20" width="5.50" height="5.50" fill="#c0ffff" stroke="#4d6b6b" stroke-width="0.9"/><rect x="116.30" y="311.80" width="5.50" height="6.90" fill="#c0ffff" stroke="#4d6b6b" stroke-width="0.9"/><rect x="121.80" y="304.50" width="5.50" height="14.20" fill="#c0ffff" stroke="#4d6b6b" stroke-width="0.9"/><rect x="127.30" y="297.30" width="5.50" height="21.40" fill="#c0ffff" stroke="#4d6b6b" stroke-width="0.9"/><rect x="132.80" y="295.60" width="5.50" height="23.10" fill="#c0ffff" stroke="#4d6b6b" stroke-width="0.9"/><rect x="138.30" y="287.50" width="5.50" height="31.20" fill="#c0ffff" stroke="#4d6b6b" stroke-width="0.9"/><rect x="143.80" y="282.20" width="5.50" height="36.50" fill="#c0ffff" stroke="#4d6b6b" stroke-width="0.9"/><rect x="149.30" y="283.40" width="5.50" height="35.30" fill="#c0ffff" stroke="#4d6b6b" stroke-width="0.9"/><rect x="154.80" y="285.40" width="5.50" height="33.30" fill="#c0ffff" stroke="#4d6b6b" stroke-width="0.9"/><rect x="160.30" y="293.30" width="5.50" height="25.40" fill="#c0ffff" stroke="#4d6b6b" stroke-width="0.9"/><rect x="165.80" y="299.40" width="5.50" height="19.30" fill="#c0ffff" stroke="#4d6b6b" stroke-width="0.9"/><rect x="171.30" y="302.60" width="5.50" height="16.10" fill="#c0ffff" stroke="#4d6b6b" stroke-width="0.9"/><rect x="176.80" y="307.70" width="5.50" height="11.00" fill="#c0ffff" stroke="#4d6b6b" stroke-width="0.9"/><rect x="182.30" y="314.60" width="5.50" height="4.10" fill="#c0ffff" stroke="#4d6b6b" stroke-width="0.9"/><rect x="187.80" y="316.40" width="5.50" height="2.30" fill="#c0ffff" stroke="#4d6b6b" stroke-width="0.9"/><rect x="193.30" y="317.30" width="5.50" height="1.40" fill="#c0ffff" stroke="#4d6b6b" stroke-width="0.9"/><line x1="57.00" y1="318.70" x2="236.50" y2="318.70" stroke="#555" stroke-width="1.0"/><line x1="61.30" y1="318.70" x2="61.30" y2="323.00" stroke="#555" stroke-width="1.0"/><line x1="105.30" y1="318.70" x2="105.30" y2="323.00" stroke="#555" stroke-width="1.0"/><line x1="149.30" y1="318.70" x2="149.30" y2="323.00" stroke="#555" stroke-width="1.0"/><line x1="193.30" y1="318.70" x2="193.30" y2="323.00" stroke="#555" stroke-width="1.0"/><line x1="237.30" y1="318.70" x2="237.30" y2="323.00" stroke="#555" stroke-width="1.0"/><polyline points="61.30,318.70 62.40,318.70 63.50,318.70 64.60,318.70 65.70,318.70 66.80,318.70 67.90,318.70 69.00,318.70 70.10,318.70 71.20,318.69 72.30,318.69 73.40,318.69 74.50,318.69 75.60,318.69 76.70,318.68 77.80,318.68 78.90,318.67 80.00,318.67 81.10,318.66 82.20,318.65 83.30,318.64 84.40,318.62 85.50,318.60 86.60,318.58 87.70,318.55 88.80,318.52 89.90,318.49 91.00,318.44 92.10,318.39 93.20,318.33 94.30,318.26 95.40,318.17 96.50,318.07 97.60,317.96 98.70,317.83 99.80,317.68 100.90,317.51 102.00,317.31 103.10,317.09 104.20,316.84 105.30,316.56 106.40,316.24 107.50,315.88 108.60,315.49 109.70,315.05 110.80,314.57 111.90,314.03 113.00,313.45 114.10,312.82 115.20,312.14 116.30,311.40 117.40,310.60 118.50,309.75 119.60,308.85 120.70,307.89 121.80,306.88 122.90,305.82 124.00,304.72 125.10,303.57 126.20,302.39 127.30,301.18 128.40,299.94 129.50,298.68 130.60,297.42 131.70,296.15 132.80,294.89 133.90,293.65 135.00,292.44 136.10,291.27 137.20,290.14 138.30,289.07 139.40,288.07 140.50,287.14 141.60,286.30 142.70,285.56 143.80,284.91 144.90,284.38 146.00,283.95 147.10,283.65 148.20,283.46 149.30,283.40 150.40,283.46 151.50,283.65 152.60,283.95 153.70,284.38 154.80,284.91 155.90,285.56 157.00,286.30 158.10,287.14 159.20,288.07 160.30,289.07 161.40,290.14 162.50,291.27 163.60,292.44 164.70,293.65 165.80,294.89 166.90,296.15 168.00,297.42 169.10,298.68 170.20,299.94 171.30,301.18 172.40,302.39 173.50,303.57 174.60,304.72 175.70,305.82 176.80,306.88 177.90,307.89 179.00,308.85 180.10,309.75 181.20,310.60 182.30,311.40 183.40,312.14 184.50,312.82 185.60,313.45 186.70,314.03 187.80,314.57 188.90,315.05 190.00,315.49 191.10,315.88 192.20,316.24 193.30,316.56 194.40,316.84 195.50,317.09 196.60,317.31 197.70,317.51 198.80,317.68 199.90,317.83 201.00,317.96 202.10,318.07 203.20,318.17 204.30,318.26 205.40,318.33 206.50,318.39 207.60,318.44 208.70,318.49 209.80,318.52 210.90,318.55 212.00,318.58 213.10,318.60 214.20,318.62 215.30,318.64 216.40,318.65 217.50,318.66 218.60,318.67 219.70,318.67 220.80,318.68 221.90,318.68 223.00,318.69 224.10,318.69 225.20,318.69 226.30,318.69 227.40,318.69 228.50,318.70 229.60,318.70 230.70,318.70 231.80,318.70 232.90,318.70 234.00,318.70 235.10,318.70 236.20,318.70 237.30,318.70" fill="none" stroke="#1515ee" stroke-width="1.5"/><text x="68.50" y="300.10" font-size="12">−13.5 nm</text><text x="193.50" y="284.30" font-size="12">Δ<tspan font-style="italic">t</tspan></text><text x="233.50" y="300.10" font-size="12" text-anchor="end">+13.5 nm</text><line x1="61.50" y1="341.95" x2="61.50" y2="390.65" stroke="#555" stroke-width="1.0"/><line x1="57.00" y1="341.95" x2="61.50" y2="341.95" stroke="#555" stroke-width="1.0"/><line x1="59.00" y1="364.15" x2="61.50" y2="364.15" stroke="#555" stroke-width="1.0"/><text x="49.90" y="347.25" font-size="15.2" text-anchor="end">200</text><text x="49.90" y="391.65" font-size="15.2" text-anchor="end">0</text><rect x="99.80" y="385.55" width="5.50" height="0.80" fill="#c0ffff" stroke="#4d6b6b" stroke-width="0.9"/><rect x="105.30" y="382.65" width="5.50" height="3.70" fill="#c0ffff" stroke="#4d6b6b" stroke-width="0.9"/><rect x="110.80" y="379.45" width="5.50" height="6.90" fill="#c0ffff" stroke="#4d6b6b" stroke-width="0.9"/><rect x="116.30" y="377.65" width="5.50" height="8.70" fill="#c0ffff" stroke="#4d6b6b" stroke-width="0.9"/><rect x="121.80" y="374.85" width="5.50" height="11.50" fill="#c0ffff" stroke="#4d6b6b" stroke-width="0.9"/><rect x="127.30" y="368.75" width="5.50" height="17.60" fill="#c0ffff" stroke="#4d6b6b" stroke-width="0.9"/><rect x="132.80" y="362.65" width="5.50" height="23.70" fill="#c0ffff" stroke="#4d6b6b" stroke-width="0.9"/><rect x="138.30" y="356.85" width="5.50" height="29.50" fill="#c0ffff" stroke="#4d6b6b" stroke-width="0.9"/><rect x="143.80" y="349.45" width="5.50" height="36.90" fill="#c0ffff" stroke="#4d6b6b" stroke-width="0.9"/><rect x="149.30" y="349.65" width="5.50" height="36.70" fill="#c0ffff" stroke="#4d6b6b" stroke-width="0.9"/><rect x="154.80" y="359.75" width="5.50" height="26.60" fill="#c0ffff" stroke="#4d6b6b" stroke-width="0.9"/><rect x="160.30" y="360.65" width="5.50" height="25.70" fill="#c0ffff" stroke="#4d6b6b" stroke-width="0.9"/><rect x="165.80" y="362.35" width="5.50" height="24.00" fill="#c0ffff" stroke="#4d6b6b" stroke-width="0.9"/><rect x="171.30" y="372.55" width="5.50" height="13.80" fill="#c0ffff" stroke="#4d6b6b" stroke-width="0.9"/><rect x="176.80" y="376.45" width="5.50" height="9.90" fill="#c0ffff" stroke="#4d6b6b" stroke-width="0.9"/><rect x="182.30" y="381.05" width="5.50" height="5.30" fill="#c0ffff" stroke="#4d6b6b" stroke-width="0.9"/><rect x="187.80" y="384.35" width="5.50" height="2.00" fill="#c0ffff" stroke="#4d6b6b" stroke-width="0.9"/><rect x="193.30" y="385.55" width="5.50" height="0.80" fill="#c0ffff" stroke="#4d6b6b" stroke-width="0.9"/><line x1="57.00" y1="386.35" x2="236.50" y2="386.35" stroke="#555" stroke-width="1.0"/><line x1="61.30" y1="386.35" x2="61.30" y2="390.65" stroke="#555" stroke-width="1.0"/><line x1="105.30" y1="386.35" x2="105.30" y2="390.65" stroke="#555" stroke-width="1.0"/><line x1="149.30" y1="386.35" x2="149.30" y2="390.65" stroke="#555" stroke-width="1.0"/><line x1="193.30" y1="386.35" x2="193.30" y2="390.65" stroke="#555" stroke-width="1.0"/><line x1="237.30" y1="386.35" x2="237.30" y2="390.65" stroke="#555" stroke-width="1.0"/><polyline points="61.30,386.35 62.40,386.35 63.50,386.35 64.60,386.35 65.70,386.35 66.80,386.35 67.90,386.35 69.00,386.35 70.10,386.34 71.20,386.34 72.30,386.34 73.40,386.34 74.50,386.34 75.60,386.33 76.70,386.33 77.80,386.32 78.90,386.32 80.00,386.31 81.10,386.30 82.20,386.29 83.30,386.28 84.40,386.26 85.50,386.24 86.60,386.21 87.70,386.19 88.80,386.15 89.90,386.11 91.00,386.06 92.10,386.01 93.20,385.94 94.30,385.87 95.40,385.78 96.50,385.67 97.60,385.55 98.70,385.42 99.80,385.26 100.90,385.08 102.00,384.88 103.10,384.65 104.20,384.40 105.30,384.11 106.40,383.78 107.50,383.43 108.60,383.03 109.70,382.59 110.80,382.10 111.90,381.57 113.00,380.99 114.10,380.37 115.20,379.69 116.30,378.95 117.40,378.17 118.50,377.33 119.60,376.45 120.70,375.51 121.80,374.52 122.90,373.49 124.00,372.41 125.10,371.29 126.20,370.14 127.30,368.96 128.40,367.75 129.50,366.53 130.60,365.31 131.70,364.08 132.80,362.85 133.90,361.65 135.00,360.47 136.10,359.32 137.20,358.22 138.30,357.18 139.40,356.20 140.50,355.29 141.60,354.46 142.70,353.71 143.80,353.07 144.90,352.52 146.00,352.09 147.10,351.76 148.20,351.55 149.30,351.46 150.40,351.48 151.50,351.62 152.60,351.88 153.70,352.25 154.80,352.73 155.90,353.31 157.00,354.00 158.10,354.78 159.20,355.64 160.30,356.58 161.40,357.59 162.50,358.66 163.60,359.78 164.70,360.94 165.80,362.13 166.90,363.34 168.00,364.57 169.10,365.80 170.20,367.02 171.30,368.24 172.40,369.43 173.50,370.60 174.60,371.74 175.70,372.84 176.80,373.90 177.90,374.92 179.00,375.89 180.10,376.81 181.20,377.68 182.30,378.49 183.40,379.25 184.50,379.96 185.60,380.62 186.70,381.23 187.80,381.79 188.90,382.30 190.00,382.77 191.10,383.19 192.20,383.57 193.30,383.92 194.40,384.23 195.50,384.50 196.60,384.75 197.70,384.97 198.80,385.16 199.90,385.33 201.00,385.47 202.10,385.60 203.20,385.72 204.30,385.81 205.40,385.90 206.50,385.97 207.60,386.03 208.70,386.08 209.80,386.13 210.90,386.17 212.00,386.20 213.10,386.22 214.20,386.25 215.30,386.27 216.40,386.28 217.50,386.29 218.60,386.30 219.70,386.31 220.80,386.32 221.90,386.33 223.00,386.33 224.10,386.33 225.20,386.34 226.30,386.34 227.40,386.34 228.50,386.34 229.60,386.35 230.70,386.35 231.80,386.35 232.90,386.35 234.00,386.35 235.10,386.35 236.20,386.35 237.30,386.35" fill="none" stroke="#1515ee" stroke-width="1.5"/><text x="68.50" y="367.75" font-size="12">−13.6 nm</text><text x="193.50" y="351.95" font-size="12">2Δ<tspan font-style="italic">t</tspan></text><text x="233.50" y="367.75" font-size="12" text-anchor="end">+13.8 nm</text><line x1="61.50" y1="409.60" x2="61.50" y2="458.30" stroke="#555" stroke-width="1.0"/><line x1="57.00" y1="409.60" x2="61.50" y2="409.60" stroke="#555" stroke-width="1.0"/><line x1="59.00" y1="431.80" x2="61.50" y2="431.80" stroke="#555" stroke-width="1.0"/><text x="49.90" y="414.90" font-size="15.2" text-anchor="end">200</text><text x="49.90" y="459.30" font-size="15.2" text-anchor="end">0</text><rect x="99.80" y="453.40" width="5.50" height="0.60" fill="#c0ffff" stroke="#4d6b6b" stroke-width="0.9"/><rect x="105.30" y="452.20" width="5.50" height="1.80" fill="#c0ffff" stroke="#4d6b6b" stroke-width="0.9"/><rect x="110.80" y="450.50" width="5.50" height="3.50" fill="#c0ffff" stroke="#4d6b6b" stroke-width="0.9"/><rect x="116.30" y="443.20" width="5.50" height="10.80" fill="#c0ffff" stroke="#4d6b6b" stroke-width="0.9"/><rect x="121.80" y="441.60" width="5.50" height="12.40" fill="#c0ffff" stroke="#4d6b6b" stroke-width="0.9"/><rect x="127.30" y="431.50" width="5.50" height="22.50" fill="#c0ffff" stroke="#4d6b6b" stroke-width="0.9"/><rect x="132.80" y="432.00" width="5.50" height="22.00" fill="#c0ffff" stroke="#4d6b6b" stroke-width="0.9"/><rect x="138.30" y="422.10" width="5.50" height="31.90" fill="#c0ffff" stroke="#4d6b6b" stroke-width="0.9"/><rect x="143.80" y="422.60" width="5.50" height="31.40" fill="#c0ffff" stroke="#4d6b6b" stroke-width="0.9"/><rect x="149.30" y="419.30" width="5.50" height="34.70" fill="#c0ffff" stroke="#4d6b6b" stroke-width="0.9"/><rect x="154.80" y="420.20" width="5.50" height="33.80" fill="#c0ffff" stroke="#4d6b6b" stroke-width="0.9"/><rect x="160.30" y="428.30" width="5.50" height="25.70" fill="#c0ffff" stroke="#4d6b6b" stroke-width="0.9"/><rect x="165.80" y="433.10" width="5.50" height="20.90" fill="#c0ffff" stroke="#4d6b6b" stroke-width="0.9"/><rect x="171.30" y="437.50" width="5.50" height="16.50" fill="#c0ffff" stroke="#4d6b6b" stroke-width="0.9"/><rect x="176.80" y="444.40" width="5.50" height="9.60" fill="#c0ffff" stroke="#4d6b6b" stroke-width="0.9"/><rect x="182.30" y="449.40" width="5.50" height="4.60" fill="#c0ffff" stroke="#4d6b6b" stroke-width="0.9"/><rect x="187.80" y="451.20" width="5.50" height="2.80" fill="#c0ffff" stroke="#4d6b6b" stroke-width="0.9"/><rect x="193.30" y="452.90" width="5.50" height="1.10" fill="#c0ffff" stroke="#4d6b6b" stroke-width="0.9"/><line x1="57.00" y1="454.00" x2="236.50" y2="454.00" stroke="#555" stroke-width="1.0"/><line x1="61.30" y1="454.00" x2="61.30" y2="458.30" stroke="#555" stroke-width="1.0"/><line x1="105.30" y1="454.00" x2="105.30" y2="458.30" stroke="#555" stroke-width="1.0"/><line x1="149.30" y1="454.00" x2="149.30" y2="458.30" stroke="#555" stroke-width="1.0"/><line x1="193.30" y1="454.00" x2="193.30" y2="458.30" stroke="#555" stroke-width="1.0"/><line x1="237.30" y1="454.00" x2="237.30" y2="458.30" stroke="#555" stroke-width="1.0"/><polyline points="61.30,454.00 62.40,454.00 63.50,454.00 64.60,454.00 65.70,454.00 66.80,454.00 67.90,454.00 69.00,454.00 70.10,454.00 71.20,453.99 72.30,453.99 73.40,453.99 74.50,453.99 75.60,453.99 76.70,453.98 77.80,453.98 78.90,453.97 80.00,453.96 81.10,453.96 82.20,453.95 83.30,453.93 84.40,453.92 85.50,453.90 86.60,453.88 87.70,453.85 88.80,453.82 89.90,453.78 91.00,453.74 92.10,453.69 93.20,453.63 94.30,453.56 95.40,453.48 96.50,453.38 97.60,453.27 98.70,453.14 99.80,453.00 100.90,452.83 102.00,452.64 103.10,452.43 104.20,452.19 105.30,451.92 106.40,451.61 107.50,451.28 108.60,450.90 109.70,450.48 110.80,450.02 111.90,449.52 113.00,448.97 114.10,448.37 115.20,447.72 116.30,447.02 117.40,446.26 118.50,445.46 119.60,444.60 120.70,443.69 121.80,442.73 122.90,441.73 124.00,440.68 125.10,439.59 126.20,438.46 127.30,437.30 128.40,436.11 129.50,434.91 130.60,433.69 131.70,432.46 132.80,431.24 133.90,430.04 135.00,428.85 136.10,427.69 137.20,426.58 138.30,425.51 139.40,424.50 140.50,423.56 141.60,422.69 142.70,421.91 143.80,421.22 144.90,420.63 146.00,420.14 147.10,419.76 148.20,419.49 149.30,419.34 150.40,419.30 151.50,419.38 152.60,419.58 153.70,419.90 154.80,420.32 155.90,420.85 157.00,421.48 158.10,422.21 159.20,423.03 160.30,423.93 161.40,424.90 162.50,425.93 163.60,427.02 164.70,428.15 165.80,429.32 166.90,430.52 168.00,431.73 169.10,432.95 170.20,434.18 171.30,435.39 172.40,436.59 173.50,437.77 174.60,438.91 175.70,440.03 176.80,441.10 177.90,442.14 179.00,443.12 180.10,444.06 181.20,444.95 182.30,445.79 183.40,446.57 184.50,447.30 185.60,447.98 186.70,448.61 187.80,449.19 188.90,449.73 190.00,450.21 191.10,450.65 192.20,451.05 193.30,451.42 194.40,451.74 195.50,452.03 196.60,452.29 197.70,452.52 198.80,452.72 199.90,452.90 201.00,453.06 202.10,453.20 203.20,453.32 204.30,453.42 205.40,453.51 206.50,453.59 207.60,453.65 208.70,453.71 209.80,453.76 210.90,453.80 212.00,453.83 213.10,453.86 214.20,453.89 215.30,453.91 216.40,453.92 217.50,453.94 218.60,453.95 219.70,453.96 220.80,453.97 221.90,453.97 223.00,453.98 224.10,453.98 225.20,453.99 226.30,453.99 227.40,453.99 228.50,453.99 229.60,453.99 230.70,454.00 231.80,454.00 232.90,454.00 234.00,454.00 235.10,454.00 236.20,454.00 237.30,454.00" fill="none" stroke="#1515ee" stroke-width="1.5"/><text x="68.50" y="435.40" font-size="12">−13.9 nm</text><text x="193.50" y="419.60" font-size="12">3Δ<tspan font-style="italic">t</tspan></text><text x="233.50" y="435.40" font-size="12" text-anchor="end">+13.6 nm</text><line x1="61.50" y1="477.25" x2="61.50" y2="525.95" stroke="#555" stroke-width="1.0"/><line x1="57.00" y1="477.25" x2="61.50" y2="477.25" stroke="#555" stroke-width="1.0"/><line x1="59.00" y1="499.45" x2="61.50" y2="499.45" stroke="#555" stroke-width="1.0"/><text x="49.90" y="482.55" font-size="15.2" text-anchor="end">200</text><text x="49.90" y="526.95" font-size="15.2" text-anchor="end">0</text><rect x="99.80" y="520.85" width="5.50" height="0.80" fill="#c0ffff" stroke="#4d6b6b" stroke-width="0.9"/><rect x="105.30" y="518.95" width="5.50" height="2.70" fill="#c0ffff" stroke="#4d6b6b" stroke-width="0.9"/><rect x="110.80" y="517.35" width="5.50" height="4.30" fill="#c0ffff" stroke="#4d6b6b" stroke-width="0.9"/><rect x="116.30" y="509.95" width="5.50" height="11.70" fill="#c0ffff" stroke="#4d6b6b" stroke-width="0.9"/><rect x="121.80" y="508.65" width="5.50" height="13.00" fill="#c0ffff" stroke="#4d6b6b" stroke-width="0.9"/><rect x="127.30" y="500.35" width="5.50" height="21.30" fill="#c0ffff" stroke="#4d6b6b" stroke-width="0.9"/><rect x="132.80" y="501.55" width="5.50" height="20.10" fill="#c0ffff" stroke="#4d6b6b" stroke-width="0.9"/><rect x="138.30" y="489.05" width="5.50" height="32.60" fill="#c0ffff" stroke="#4d6b6b" stroke-width="0.9"/><rect x="143.80" y="484.15" width="5.50" height="37.50" fill="#c0ffff" stroke="#4d6b6b" stroke-width="0.9"/><rect x="149.30" y="493.35" width="5.50" height="28.30" fill="#c0ffff" stroke="#4d6b6b" stroke-width="0.9"/><rect x="154.80" y="492.35" width="5.50" height="29.30" fill="#c0ffff" stroke="#4d6b6b" stroke-width="0.9"/><rect x="160.30" y="492.15" width="5.50" height="29.50" fill="#c0ffff" stroke="#4d6b6b" stroke-width="0.9"/><rect x="165.80" y="499.45" width="5.50" height="22.20" fill="#c0ffff" stroke="#4d6b6b" stroke-width="0.9"/><rect x="171.30" y="506.35" width="5.50" height="15.30" fill="#c0ffff" stroke="#4d6b6b" stroke-width="0.9"/><rect x="176.80" y="511.85" width="5.50" height="9.80" fill="#c0ffff" stroke="#4d6b6b" stroke-width="0.9"/><rect x="182.30" y="515.05" width="5.50" height="6.60" fill="#c0ffff" stroke="#4d6b6b" stroke-width="0.9"/><rect x="187.80" y="518.75" width="5.50" height="2.90" fill="#c0ffff" stroke="#4d6b6b" stroke-width="0.9"/><rect x="193.30" y="520.55" width="5.50" height="1.10" fill="#c0ffff" stroke="#4d6b6b" stroke-width="0.9"/><line x1="57.00" y1="521.65" x2="236.50" y2="521.65" stroke="#555" stroke-width="1.0"/><line x1="61.30" y1="521.65" x2="61.30" y2="525.95" stroke="#555" stroke-width="1.0"/><line x1="105.30" y1="521.65" x2="105.30" y2="525.95" stroke="#555" stroke-width="1.0"/><line x1="149.30" y1="521.65" x2="149.30" y2="525.95" stroke="#555" stroke-width="1.0"/><line x1="193.30" y1="521.65" x2="193.30" y2="525.95" stroke="#555" stroke-width="1.0"/><line x1="237.30" y1="521.65" x2="237.30" y2="525.95" stroke="#555" stroke-width="1.0"/><polyline points="61.30,521.65 62.40,521.65 63.50,521.65 64.60,521.65 65.70,521.65 66.80,521.65 67.90,521.65 69.00,521.64 70.10,521.64 71.20,521.64 72.30,521.64 73.40,521.64 74.50,521.63 75.60,521.63 76.70,521.62 77.80,521.62 78.90,521.61 80.00,521.60 81.10,521.59 82.20,521.58 83.30,521.56 84.40,521.54 85.50,521.52 86.60,521.49 87.70,521.46 88.80,521.42 89.90,521.38 91.00,521.33 92.10,521.26 93.20,521.19 94.30,521.11 95.40,521.02 96.50,520.91 97.60,520.78 98.70,520.64 99.80,520.48 100.90,520.29 102.00,520.08 103.10,519.85 104.20,519.58 105.30,519.29 106.40,518.96 107.50,518.60 108.60,518.19 109.70,517.75 110.80,517.27 111.90,516.74 113.00,516.17 114.10,515.55 115.20,514.88 116.30,514.17 117.40,513.40 118.50,512.59 119.60,511.73 120.70,510.82 121.80,509.87 122.90,508.88 124.00,507.84 125.10,506.78 126.20,505.68 127.30,504.56 128.40,503.41 129.50,502.26 130.60,501.10 131.70,499.94 132.80,498.79 133.90,497.66 135.00,496.55 136.10,495.48 137.20,494.45 138.30,493.48 139.40,492.56 140.50,491.71 141.60,490.94 142.70,490.25 143.80,489.65 144.90,489.15 146.00,488.74 147.10,488.44 148.20,488.24 149.30,488.15 150.40,488.18 151.50,488.31 152.60,488.55 153.70,488.89 154.80,489.34 155.90,489.88 157.00,490.52 158.10,491.24 159.20,492.04 160.30,492.92 161.40,493.86 162.50,494.86 163.60,495.91 164.70,496.99 165.80,498.11 166.90,499.25 168.00,500.40 169.10,501.56 170.20,502.72 171.30,503.87 172.40,505.01 173.50,506.12 174.60,507.21 175.70,508.26 176.80,509.28 177.90,510.25 179.00,511.19 180.10,512.08 181.20,512.92 182.30,513.71 183.40,514.46 184.50,515.16 185.60,515.80 186.70,516.40 187.80,516.96 188.90,517.47 190.00,517.93 191.10,518.36 192.20,518.75 193.30,519.09 194.40,519.41 195.50,519.69 196.60,519.94 197.70,520.17 198.80,520.37 199.90,520.54 201.00,520.70 202.10,520.83 203.20,520.95 204.30,521.06 205.40,521.15 206.50,521.22 207.60,521.29 208.70,521.35 209.80,521.40 210.90,521.44 212.00,521.47 213.10,521.50 214.20,521.53 215.30,521.55 216.40,521.57 217.50,521.58 218.60,521.60 219.70,521.61 220.80,521.61 221.90,521.62 223.00,521.63 224.10,521.63 225.20,521.63 226.30,521.64 227.40,521.64 228.50,521.64 229.60,521.64 230.70,521.65 231.80,521.65 232.90,521.65 234.00,521.65 235.10,521.65 236.20,521.65 237.30,521.65" fill="none" stroke="#1515ee" stroke-width="1.5"/><text x="68.50" y="503.05" font-size="12">−13.6 nm</text><text x="193.50" y="487.25" font-size="12">4Δ<tspan font-style="italic">t</tspan></text><text x="233.50" y="503.05" font-size="12" text-anchor="end">+14.3 nm</text><line x1="61.50" y1="544.90" x2="61.50" y2="593.60" stroke="#555" stroke-width="1.0"/><line x1="57.00" y1="544.90" x2="61.50" y2="544.90" stroke="#555" stroke-width="1.0"/><line x1="59.00" y1="567.10" x2="61.50" y2="567.10" stroke="#555" stroke-width="1.0"/><text x="49.90" y="550.20" font-size="15.2" text-anchor="end">200</text><text x="49.90" y="594.60" font-size="15.2" text-anchor="end">0</text><rect x="99.80" y="588.50" width="5.50" height="0.80" fill="#c0ffff" stroke="#4d6b6b" stroke-width="0.9"/><rect x="105.30" y="585.90" width="5.50" height="3.40" fill="#c0ffff" stroke="#4d6b6b" stroke-width="0.9"/><rect x="110.80" y="582.90" width="5.50" height="6.40" fill="#c0ffff" stroke="#4d6b6b" stroke-width="0.9"/><rect x="116.30" y="581.60" width="5.50" height="7.70" fill="#c0ffff" stroke="#4d6b6b" stroke-width="0.9"/><rect x="121.80" y="576.70" width="5.50" height="12.60" fill="#c0ffff" stroke="#4d6b6b" stroke-width="0.9"/><rect x="127.30" y="567.60" width="5.50" height="21.70" fill="#c0ffff" stroke="#4d6b6b" stroke-width="0.9"/><rect x="132.80" y="564.50" width="5.50" height="24.80" fill="#c0ffff" stroke="#4d6b6b" stroke-width="0.9"/><rect x="138.30" y="558.40" width="5.50" height="30.90" fill="#c0ffff" stroke="#4d6b6b" stroke-width="0.9"/><rect x="143.80" y="555.90" width="5.50" height="33.40" fill="#c0ffff" stroke="#4d6b6b" stroke-width="0.9"/><rect x="149.30" y="554.70" width="5.50" height="34.60" fill="#c0ffff" stroke="#4d6b6b" stroke-width="0.9"/><rect x="154.80" y="558.70" width="5.50" height="30.60" fill="#c0ffff" stroke="#4d6b6b" stroke-width="0.9"/><rect x="160.30" y="566.60" width="5.50" height="22.70" fill="#c0ffff" stroke="#4d6b6b" stroke-width="0.9"/><rect x="165.80" y="570.80" width="5.50" height="18.50" fill="#c0ffff" stroke="#4d6b6b" stroke-width="0.9"/><rect x="171.30" y="571.50" width="5.50" height="17.80" fill="#c0ffff" stroke="#4d6b6b" stroke-width="0.9"/><rect x="176.80" y="577.90" width="5.50" height="11.40" fill="#c0ffff" stroke="#4d6b6b" stroke-width="0.9"/><rect x="182.30" y="584.50" width="5.50" height="4.80" fill="#c0ffff" stroke="#4d6b6b" stroke-width="0.9"/><rect x="187.80" y="585.30" width="5.50" height="4.00" fill="#c0ffff" stroke="#4d6b6b" stroke-width="0.9"/><rect x="193.30" y="587.70" width="5.50" height="1.60" fill="#c0ffff" stroke="#4d6b6b" stroke-width="0.9"/><line x1="57.00" y1="589.30" x2="236.50" y2="589.30" stroke="#555" stroke-width="1.0"/><line x1="61.30" y1="589.30" x2="61.30" y2="593.60" stroke="#555" stroke-width="1.0"/><line x1="105.30" y1="589.30" x2="105.30" y2="593.60" stroke="#555" stroke-width="1.0"/><line x1="149.30" y1="589.30" x2="149.30" y2="593.60" stroke="#555" stroke-width="1.0"/><line x1="193.30" y1="589.30" x2="193.30" y2="593.60" stroke="#555" stroke-width="1.0"/><line x1="237.30" y1="589.30" x2="237.30" y2="593.60" stroke="#555" stroke-width="1.0"/><polyline points="61.30,589.30 62.40,589.30 63.50,589.30 64.60,589.30 65.70,589.30 66.80,589.30 67.90,589.30 69.00,589.29 70.10,589.29 71.20,589.29 72.30,589.29 73.40,589.29 74.50,589.28 75.60,589.28 76.70,589.27 77.80,589.27 78.90,589.26 80.00,589.25 81.10,589.24 82.20,589.23 83.30,589.21 84.40,589.19 85.50,589.17 86.60,589.14 87.70,589.11 88.80,589.07 89.90,589.03 91.00,588.98 92.10,588.92 93.20,588.85 94.30,588.76 95.40,588.67 96.50,588.56 97.60,588.43 98.70,588.29 99.80,588.13 100.90,587.94 102.00,587.74 103.10,587.50 104.20,587.24 105.30,586.94 106.40,586.62 107.50,586.25 108.60,585.85 109.70,585.41 110.80,584.93 111.90,584.41 113.00,583.84 114.10,583.22 115.20,582.55 116.30,581.84 117.40,581.08 118.50,580.27 119.60,579.41 120.70,578.50 121.80,577.55 122.90,576.56 124.00,575.53 125.10,574.47 126.20,573.38 127.30,572.26 128.40,571.12 129.50,569.97 130.60,568.81 131.70,567.65 132.80,566.51 133.90,565.38 135.00,564.28 136.10,563.21 137.20,562.19 138.30,561.21 139.40,560.30 140.50,559.45 141.60,558.68 142.70,558.00 143.80,557.40 144.90,556.89 146.00,556.49 147.10,556.19 148.20,555.99 149.30,555.90 150.40,555.93 151.50,556.06 152.60,556.30 153.70,556.64 154.80,557.08 155.90,557.63 157.00,558.26 158.10,558.98 159.20,559.78 160.30,560.66 161.40,561.59 162.50,562.59 163.60,563.63 164.70,564.72 165.80,565.83 166.90,566.97 168.00,568.12 169.10,569.27 170.20,570.43 171.30,571.58 172.40,572.71 173.50,573.82 174.60,574.90 175.70,575.95 176.80,576.96 177.90,577.94 179.00,578.87 180.10,579.76 181.20,580.60 182.30,581.39 183.40,582.13 184.50,582.83 185.60,583.47 186.70,584.07 187.80,584.62 188.90,585.13 190.00,585.60 191.10,586.02 192.20,586.40 193.30,586.75 194.40,587.07 195.50,587.35 196.60,587.60 197.70,587.82 198.80,588.02 199.90,588.20 201.00,588.35 202.10,588.49 203.20,588.60 204.30,588.71 205.40,588.80 206.50,588.87 207.60,588.94 208.70,589.00 209.80,589.05 210.90,589.09 212.00,589.12 213.10,589.15 214.20,589.18 215.30,589.20 216.40,589.22 217.50,589.23 218.60,589.25 219.70,589.26 220.80,589.26 221.90,589.27 223.00,589.28 224.10,589.28 225.20,589.28 226.30,589.29 227.40,589.29 228.50,589.29 229.60,589.29 230.70,589.30 231.80,589.30 232.90,589.30 234.00,589.30 235.10,589.30 236.20,589.30 237.30,589.30" fill="none" stroke="#1515ee" stroke-width="1.5"/><text x="68.50" y="570.70" font-size="12">−13.9 nm</text><text x="193.50" y="554.90" font-size="12">5Δ<tspan font-style="italic">t</tspan></text><text x="233.50" y="570.70" font-size="12" text-anchor="end">+14.0 nm</text><text x="61.30" y="613.30" font-size="15.2" text-anchor="middle">−80</text><text x="105.30" y="613.30" font-size="15.2" text-anchor="middle">−40</text><text x="149.30" y="613.30" font-size="15.2" text-anchor="middle">0</text><text x="193.30" y="613.30" font-size="15.2" text-anchor="middle">40</text><text x="237.30" y="613.30" font-size="15.2" text-anchor="middle">80</text><text x="149.30" y="636.50" font-size="15.2" text-anchor="middle"><tspan font-style="italic">x</tspan> Displacement (nm)</text><text x="0" y="0" font-size="15.2" text-anchor="middle" transform="translate(12.00,432.00) rotate(-90)">Number of frames</text><text x="-0.50" y="259.00" style="font-family:'Liberation Sans';font-size:17px;font-weight:bold">b</text><line x1="68.40" y1="686.60" x2="68.40" y2="915.80" stroke="#555" stroke-width="1.0"/><line x1="68.40" y1="911.50" x2="243.90" y2="911.50" stroke="#555" stroke-width="1.0"/><line x1="63.90" y1="911.50" x2="68.40" y2="911.50" stroke="#555" stroke-width="1.0"/><text x="58.20" y="916.80" font-size="15.2" text-anchor="end">0</text><line x1="63.90" y1="836.50" x2="68.40" y2="836.50" stroke="#555" stroke-width="1.0"/><text x="58.20" y="841.80" font-size="15.2" text-anchor="end">10</text><line x1="63.90" y1="761.50" x2="68.40" y2="761.50" stroke="#555" stroke-width="1.0"/><text x="58.20" y="766.80" font-size="15.2" text-anchor="end">20</text><line x1="63.90" y1="686.50" x2="68.40" y2="686.50" stroke="#555" stroke-width="1.0"/><text x="58.20" y="691.80" font-size="15.2" text-anchor="end">30</text><line x1="90.30" y1="911.50" x2="90.30" y2="915.80" stroke="#555" stroke-width="1.0"/><rect x="77.30" y="812.50" width="12" height="99.00" fill="#c2ffff" stroke="#222" stroke-width="1"/><rect x="91.10" y="828.48" width="12" height="83.03" fill="#ff90ff" stroke="#222" stroke-width="1"/><line x1="83.30" y1="887.50" x2="83.30" y2="736.75" stroke="#111" stroke-width="1"/><line x1="79.50" y1="887.50" x2="87.10" y2="887.50" stroke="#111" stroke-width="1"/><line x1="79.50" y1="736.75" x2="87.10" y2="736.75" stroke="#111" stroke-width="1"/><line x1="97.10" y1="903.25" x2="97.10" y2="753.25" stroke="#111" stroke-width="1"/><line x1="93.30" y1="903.25" x2="100.90" y2="903.25" stroke="#111" stroke-width="1"/><line x1="93.30" y1="753.25" x2="100.90" y2="753.25" stroke="#111" stroke-width="1"/><text x="90.30" y="932.50" font-size="15.2" text-anchor="middle">1</text><line x1="123.40" y1="911.50" x2="123.40" y2="915.80" stroke="#555" stroke-width="1.0"/><rect x="110.40" y="811.75" width="12" height="99.75" fill="#c2ffff" stroke="#222" stroke-width="1"/><rect x="124.20" y="811.00" width="12" height="100.50" fill="#ff90ff" stroke="#222" stroke-width="1"/><line x1="116.40" y1="888.25" x2="116.40" y2="735.25" stroke="#111" stroke-width="1"/><line x1="112.60" y1="888.25" x2="120.20" y2="888.25" stroke="#111" stroke-width="1"/><line x1="112.60" y1="735.25" x2="120.20" y2="735.25" stroke="#111" stroke-width="1"/><line x1="130.20" y1="895.75" x2="130.20" y2="726.25" stroke="#111" stroke-width="1"/><line x1="126.40" y1="895.75" x2="134.00" y2="895.75" stroke="#111" stroke-width="1"/><line x1="126.40" y1="726.25" x2="134.00" y2="726.25" stroke="#111" stroke-width="1"/><text x="123.40" y="932.50" font-size="15.2" text-anchor="middle">2</text><line x1="156.50" y1="911.50" x2="156.50" y2="915.80" stroke="#555" stroke-width="1.0"/><rect x="143.50" y="811.75" width="12" height="99.75" fill="#c2ffff" stroke="#222" stroke-width="1"/><rect x="157.30" y="804.25" width="12" height="107.25" fill="#ff90ff" stroke="#222" stroke-width="1"/><line x1="149.50" y1="886.75" x2="149.50" y2="736.75" stroke="#111" stroke-width="1"/><line x1="145.70" y1="886.75" x2="153.30" y2="886.75" stroke="#111" stroke-width="1"/><line x1="145.70" y1="736.75" x2="153.30" y2="736.75" stroke="#111" stroke-width="1"/><line x1="163.30" y1="892.00" x2="163.30" y2="716.50" stroke="#111" stroke-width="1"/><line x1="159.50" y1="892.00" x2="167.10" y2="892.00" stroke="#111" stroke-width="1"/><line x1="159.50" y1="716.50" x2="167.10" y2="716.50" stroke="#111" stroke-width="1"/><text x="156.50" y="932.50" font-size="15.2" text-anchor="middle">3</text><line x1="189.60" y1="911.50" x2="189.60" y2="915.80" stroke="#555" stroke-width="1.0"/><rect x="176.60" y="809.50" width="12" height="102.00" fill="#c2ffff" stroke="#222" stroke-width="1"/><rect x="190.40" y="799.75" width="12" height="111.75" fill="#ff90ff" stroke="#222" stroke-width="1"/><line x1="182.60" y1="883.75" x2="182.60" y2="735.25" stroke="#111" stroke-width="1"/><line x1="178.80" y1="883.75" x2="186.40" y2="883.75" stroke="#111" stroke-width="1"/><line x1="178.80" y1="735.25" x2="186.40" y2="735.25" stroke="#111" stroke-width="1"/><line x1="196.40" y1="888.25" x2="196.40" y2="710.50" stroke="#111" stroke-width="1"/><line x1="192.60" y1="888.25" x2="200.20" y2="888.25" stroke="#111" stroke-width="1"/><line x1="192.60" y1="710.50" x2="200.20" y2="710.50" stroke="#111" stroke-width="1"/><text x="189.60" y="932.50" font-size="15.2" text-anchor="middle">4</text><line x1="222.70" y1="911.50" x2="222.70" y2="915.80" stroke="#555" stroke-width="1.0"/><rect x="209.70" y="809.50" width="12" height="102.00" fill="#c2ffff" stroke="#222" stroke-width="1"/><rect x="223.50" y="799.00" width="12" height="112.50" fill="#ff90ff" stroke="#222" stroke-width="1"/><line x1="215.70" y1="886.00" x2="215.70" y2="732.25" stroke="#111" stroke-width="1"/><line x1="211.90" y1="886.00" x2="219.50" y2="886.00" stroke="#111" stroke-width="1"/><line x1="211.90" y1="732.25" x2="219.50" y2="732.25" stroke="#111" stroke-width="1"/><line x1="229.50" y1="889.00" x2="229.50" y2="709.00" stroke="#111" stroke-width="1"/><line x1="225.70" y1="889.00" x2="233.30" y2="889.00" stroke="#111" stroke-width="1"/><line x1="225.70" y1="709.00" x2="233.30" y2="709.00" stroke="#111" stroke-width="1"/><text x="222.70" y="932.50" font-size="15.2" text-anchor="middle">5</text><line x1="243.90" y1="911.50" x2="243.90" y2="915.80" stroke="#555" stroke-width="1.0"/><text x="60.20" y="953.00" font-size="15.2">Frame number difference (<tspan font-style="italic">n</tspan>)</text><text x="0" y="0" font-size="15.2" text-anchor="middle" transform="translate(12.00,799.00) rotate(-90)">Averaged absolute values</text><text x="0" y="0" font-size="15.2" text-anchor="middle" transform="translate(31.00,799.50) rotate(-90)">of displacement (nm)</text><text x="-0.50" y="686.60" style="font-family:'Liberation Sans';font-size:17px;font-weight:bold">c</text>
</svg></body></html>
